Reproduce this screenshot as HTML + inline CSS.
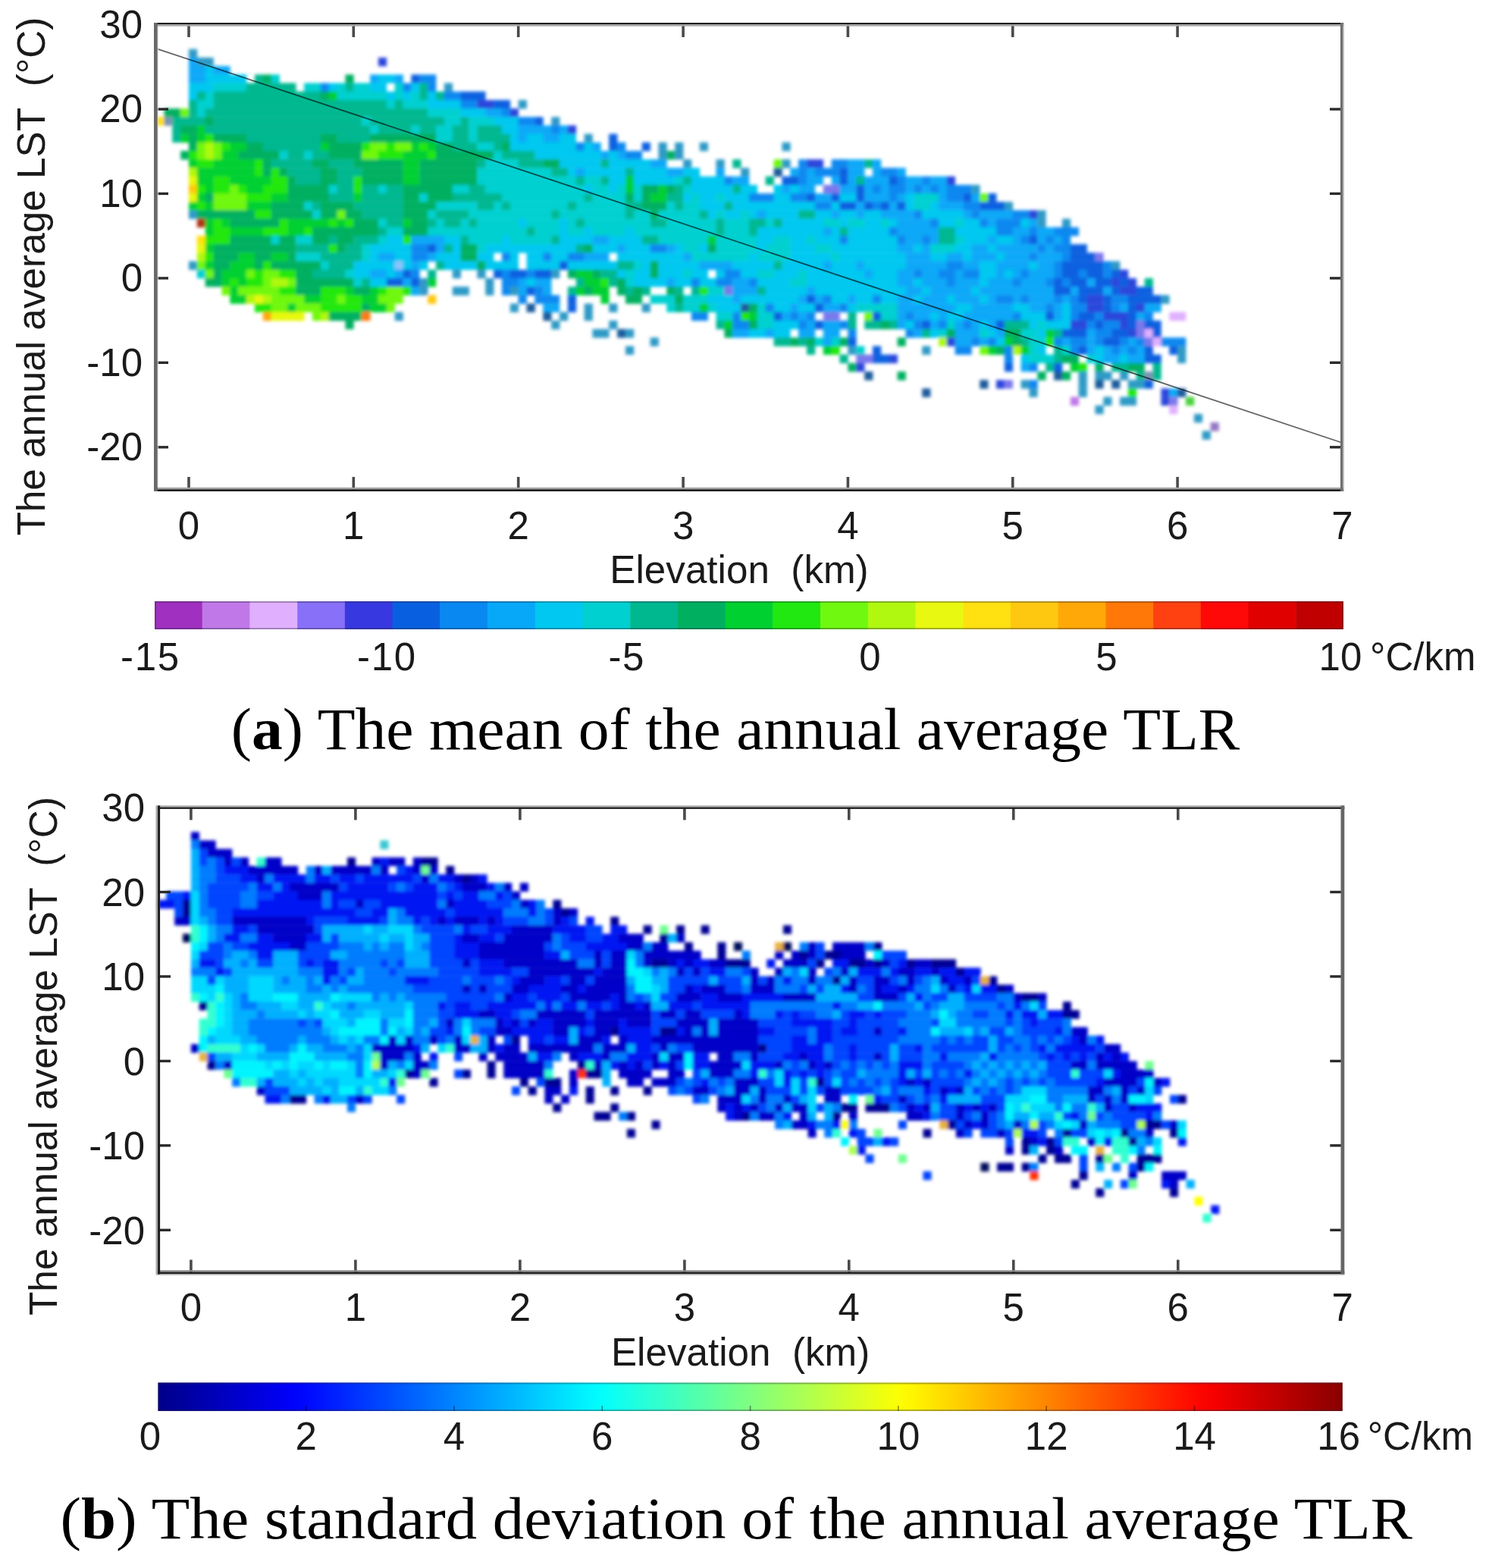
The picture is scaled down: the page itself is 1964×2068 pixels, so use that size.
<!DOCTYPE html>
<html lang="en"><head><meta charset="utf-8"><title>Annual average TLR</title>
<style>html,body{margin:0;padding:0;background:#fff}body{width:1964px;height:2068px;overflow:hidden}svg{display:block}text{font-family:'Liberation Sans', Arial, Helvetica, sans-serif;fill:#1a1a1a;white-space:pre}.cap{font-family:'Liberation Serif', 'Times New Roman', serif;fill:#000}</style></head><body>
<svg width="1964" height="2068" viewBox="0 0 1964 2068">
<defs><filter id="soft" x="-2%" y="-2%" width="104%" height="104%"><feGaussianBlur stdDeviation="2"/></filter>
<linearGradient id="jet" x1="0" x2="1" y1="0" y2="0"><stop offset="0.0000" stop-color="#00008a"/><stop offset="0.0156" stop-color="#000099"/><stop offset="0.0312" stop-color="#0000a9"/><stop offset="0.0469" stop-color="#0000b9"/><stop offset="0.0625" stop-color="#0000c8"/><stop offset="0.0781" stop-color="#0000d8"/><stop offset="0.0938" stop-color="#0000e7"/><stop offset="0.1094" stop-color="#0000f7"/><stop offset="0.1250" stop-color="#0008ff"/><stop offset="0.1406" stop-color="#0017ff"/><stop offset="0.1562" stop-color="#0027ff"/><stop offset="0.1719" stop-color="#0037ff"/><stop offset="0.1875" stop-color="#0046ff"/><stop offset="0.2031" stop-color="#0056ff"/><stop offset="0.2188" stop-color="#0065ff"/><stop offset="0.2344" stop-color="#0075ff"/><stop offset="0.2500" stop-color="#0085ff"/><stop offset="0.2656" stop-color="#0094ff"/><stop offset="0.2812" stop-color="#00a4ff"/><stop offset="0.2969" stop-color="#00b3ff"/><stop offset="0.3125" stop-color="#00c3ff"/><stop offset="0.3281" stop-color="#00d3ff"/><stop offset="0.3438" stop-color="#00e2ff"/><stop offset="0.3594" stop-color="#00f2ff"/><stop offset="0.3750" stop-color="#03fffc"/><stop offset="0.3906" stop-color="#12ffed"/><stop offset="0.4062" stop-color="#22ffdd"/><stop offset="0.4219" stop-color="#31ffce"/><stop offset="0.4375" stop-color="#41ffbe"/><stop offset="0.4531" stop-color="#51ffae"/><stop offset="0.4688" stop-color="#60ff9f"/><stop offset="0.4844" stop-color="#70ff8f"/><stop offset="0.5000" stop-color="#80ff80"/><stop offset="0.5156" stop-color="#8fff70"/><stop offset="0.5312" stop-color="#9fff60"/><stop offset="0.5469" stop-color="#aeff51"/><stop offset="0.5625" stop-color="#beff41"/><stop offset="0.5781" stop-color="#ceff31"/><stop offset="0.5938" stop-color="#ddff22"/><stop offset="0.6094" stop-color="#edff12"/><stop offset="0.6250" stop-color="#fcff03"/><stop offset="0.6406" stop-color="#fff200"/><stop offset="0.6562" stop-color="#ffe200"/><stop offset="0.6719" stop-color="#ffd300"/><stop offset="0.6875" stop-color="#ffc300"/><stop offset="0.7031" stop-color="#ffb300"/><stop offset="0.7188" stop-color="#ffa400"/><stop offset="0.7344" stop-color="#ff9400"/><stop offset="0.7500" stop-color="#ff8500"/><stop offset="0.7656" stop-color="#ff7500"/><stop offset="0.7812" stop-color="#ff6500"/><stop offset="0.7969" stop-color="#ff5600"/><stop offset="0.8125" stop-color="#ff4600"/><stop offset="0.8281" stop-color="#ff3700"/><stop offset="0.8438" stop-color="#ff2700"/><stop offset="0.8594" stop-color="#ff1700"/><stop offset="0.8750" stop-color="#ff0800"/><stop offset="0.8906" stop-color="#f70000"/><stop offset="0.9062" stop-color="#e70000"/><stop offset="0.9219" stop-color="#d80000"/><stop offset="0.9375" stop-color="#c80000"/><stop offset="0.9531" stop-color="#b90000"/><stop offset="0.9688" stop-color="#a90000"/><stop offset="0.9844" stop-color="#990000"/><stop offset="1.0000" stop-color="#8a0000"/></linearGradient></defs>
<rect width="1964" height="2068" fill="#fff"/>
<g id="heat-a" filter="url(#soft)"><rect x="249.0" y="64.7" width="11.2" height="11.5" fill="#2e9ac6"/>
<rect x="249.0" y="75.9" width="11.2" height="11.5" fill="#08a8f8"/>
<rect x="259.8" y="75.9" width="22.0" height="11.5" fill="#2e9ac6"/>
<rect x="498.9" y="75.9" width="11.2" height="11.5" fill="#2c46dc"/>
<rect x="249.0" y="87.1" width="22.0" height="11.5" fill="#08a8f8"/>
<rect x="270.7" y="87.1" width="11.2" height="11.5" fill="#00c8f0"/>
<rect x="281.6" y="87.1" width="22.0" height="11.5" fill="#08a8f8"/>
<rect x="249.0" y="98.3" width="22.0" height="11.5" fill="#08a8f8"/>
<rect x="270.7" y="98.3" width="54.6" height="11.5" fill="#00c8f0"/>
<rect x="335.9" y="98.3" width="11.2" height="11.5" fill="#00b890"/>
<rect x="346.8" y="98.3" width="11.2" height="11.5" fill="#00b060"/>
<rect x="357.7" y="98.3" width="11.2" height="11.5" fill="#00d0d0"/>
<rect x="455.5" y="98.3" width="11.2" height="11.5" fill="#00b060"/>
<rect x="488.1" y="98.3" width="11.2" height="11.5" fill="#08a8f8"/>
<rect x="498.9" y="98.3" width="22.0" height="11.5" fill="#00c8f0"/>
<rect x="520.7" y="98.3" width="11.2" height="11.5" fill="#08a8f8"/>
<rect x="542.4" y="98.3" width="11.2" height="11.5" fill="#0860e0"/>
<rect x="553.3" y="98.3" width="22.0" height="11.5" fill="#0888f0"/>
<rect x="249.0" y="109.5" width="32.9" height="11.5" fill="#00c8f0"/>
<rect x="281.6" y="109.5" width="43.8" height="11.5" fill="#00d0d0"/>
<rect x="325.0" y="109.5" width="65.5" height="11.5" fill="#00b890"/>
<rect x="401.1" y="109.5" width="22.0" height="11.5" fill="#00d0d0"/>
<rect x="422.9" y="109.5" width="11.2" height="11.5" fill="#0888f0"/>
<rect x="433.7" y="109.5" width="11.2" height="11.5" fill="#00c8f0"/>
<rect x="444.6" y="109.5" width="11.2" height="11.5" fill="#00d0d0"/>
<rect x="455.5" y="109.5" width="11.2" height="11.5" fill="#00b890"/>
<rect x="466.3" y="109.5" width="22.0" height="11.5" fill="#00d0d0"/>
<rect x="488.1" y="109.5" width="22.0" height="11.5" fill="#00c8f0"/>
<rect x="520.7" y="109.5" width="11.2" height="11.5" fill="#00d0d0"/>
<rect x="531.5" y="109.5" width="11.2" height="11.5" fill="#0888f0"/>
<rect x="542.4" y="109.5" width="11.2" height="11.5" fill="#00c8f0"/>
<rect x="553.3" y="109.5" width="11.2" height="11.5" fill="#00b890"/>
<rect x="564.1" y="109.5" width="11.2" height="11.5" fill="#0888f0"/>
<rect x="585.9" y="109.5" width="11.2" height="11.5" fill="#2e9ac6"/>
<rect x="249.0" y="120.7" width="11.2" height="11.5" fill="#00c8f0"/>
<rect x="259.8" y="120.7" width="11.2" height="11.5" fill="#00b890"/>
<rect x="270.7" y="120.7" width="11.2" height="11.5" fill="#00d0d0"/>
<rect x="281.6" y="120.7" width="141.6" height="11.5" fill="#00b890"/>
<rect x="422.9" y="120.7" width="11.2" height="11.5" fill="#00b060"/>
<rect x="433.7" y="120.7" width="11.2" height="11.5" fill="#00d030"/>
<rect x="444.6" y="120.7" width="65.5" height="11.5" fill="#00d0d0"/>
<rect x="509.8" y="120.7" width="11.2" height="11.5" fill="#00c8f0"/>
<rect x="520.7" y="120.7" width="11.2" height="11.5" fill="#00d0d0"/>
<rect x="531.5" y="120.7" width="11.2" height="11.5" fill="#00c8f0"/>
<rect x="542.4" y="120.7" width="11.2" height="11.5" fill="#00d0d0"/>
<rect x="553.3" y="120.7" width="11.2" height="11.5" fill="#00b890"/>
<rect x="564.1" y="120.7" width="11.2" height="11.5" fill="#00c8f0"/>
<rect x="575.0" y="120.7" width="11.2" height="11.5" fill="#00b890"/>
<rect x="585.9" y="120.7" width="22.0" height="11.5" fill="#0888f0"/>
<rect x="607.6" y="120.7" width="32.9" height="11.5" fill="#0860e0"/>
<rect x="249.0" y="131.9" width="11.2" height="11.5" fill="#00b890"/>
<rect x="259.8" y="131.9" width="22.0" height="11.5" fill="#00d0d0"/>
<rect x="281.6" y="131.9" width="228.5" height="11.5" fill="#00b890"/>
<rect x="509.8" y="131.9" width="11.2" height="11.5" fill="#00d0d0"/>
<rect x="520.7" y="131.9" width="11.2" height="11.5" fill="#00b890"/>
<rect x="531.5" y="131.9" width="32.9" height="11.5" fill="#00d0d0"/>
<rect x="564.1" y="131.9" width="43.8" height="11.5" fill="#00c8f0"/>
<rect x="607.6" y="131.9" width="22.0" height="11.5" fill="#0888f0"/>
<rect x="629.4" y="131.9" width="22.0" height="11.5" fill="#2c46dc"/>
<rect x="651.1" y="131.9" width="22.0" height="11.5" fill="#0860e0"/>
<rect x="683.7" y="131.9" width="11.2" height="11.5" fill="#2e9ac6"/>
<rect x="216.4" y="143.1" width="22.0" height="11.5" fill="#00b060"/>
<rect x="238.1" y="143.1" width="11.2" height="11.5" fill="#70f810"/>
<rect x="249.0" y="143.1" width="11.2" height="11.5" fill="#00b890"/>
<rect x="259.8" y="143.1" width="11.2" height="11.5" fill="#00d0d0"/>
<rect x="270.7" y="143.1" width="293.7" height="11.5" fill="#00b890"/>
<rect x="564.1" y="143.1" width="43.8" height="11.5" fill="#00d0d0"/>
<rect x="607.6" y="143.1" width="32.9" height="11.5" fill="#00c8f0"/>
<rect x="640.2" y="143.1" width="22.0" height="11.5" fill="#08a8f8"/>
<rect x="662.0" y="143.1" width="11.2" height="11.5" fill="#0888f0"/>
<rect x="672.8" y="143.1" width="11.2" height="11.5" fill="#2c46dc"/>
<rect x="205.5" y="154.3" width="11.2" height="11.5" fill="#ffe010"/>
<rect x="216.4" y="154.3" width="11.2" height="11.5" fill="#7894b4"/>
<rect x="227.2" y="154.3" width="43.8" height="11.5" fill="#00b890"/>
<rect x="270.7" y="154.3" width="11.2" height="11.5" fill="#00b060"/>
<rect x="281.6" y="154.3" width="195.9" height="11.5" fill="#00b890"/>
<rect x="477.2" y="154.3" width="11.2" height="11.5" fill="#00d0d0"/>
<rect x="488.1" y="154.3" width="98.1" height="11.5" fill="#00b890"/>
<rect x="585.9" y="154.3" width="22.0" height="11.5" fill="#00d0d0"/>
<rect x="607.6" y="154.3" width="11.2" height="11.5" fill="#00b890"/>
<rect x="618.5" y="154.3" width="32.9" height="11.5" fill="#00d0d0"/>
<rect x="651.1" y="154.3" width="32.9" height="11.5" fill="#00c8f0"/>
<rect x="683.7" y="154.3" width="22.0" height="11.5" fill="#0888f0"/>
<rect x="705.4" y="154.3" width="11.2" height="11.5" fill="#0860e0"/>
<rect x="727.2" y="154.3" width="11.2" height="11.5" fill="#2e9ac6"/>
<rect x="227.2" y="165.4" width="11.2" height="11.5" fill="#00b890"/>
<rect x="238.1" y="165.4" width="22.0" height="11.5" fill="#00b060"/>
<rect x="259.8" y="165.4" width="11.2" height="11.5" fill="#00d030"/>
<rect x="270.7" y="165.4" width="217.7" height="11.5" fill="#00b890"/>
<rect x="488.1" y="165.4" width="11.2" height="11.5" fill="#00d0d0"/>
<rect x="498.9" y="165.4" width="43.8" height="11.5" fill="#00b890"/>
<rect x="542.4" y="165.4" width="11.2" height="11.5" fill="#00d0d0"/>
<rect x="553.3" y="165.4" width="22.0" height="11.5" fill="#00b890"/>
<rect x="575.0" y="165.4" width="22.0" height="11.5" fill="#00d0d0"/>
<rect x="596.8" y="165.4" width="22.0" height="11.5" fill="#00b890"/>
<rect x="618.5" y="165.4" width="11.2" height="11.5" fill="#00d0d0"/>
<rect x="629.4" y="165.4" width="32.9" height="11.5" fill="#00b890"/>
<rect x="662.0" y="165.4" width="22.0" height="11.5" fill="#00c8f0"/>
<rect x="683.7" y="165.4" width="43.8" height="11.5" fill="#08a8f8"/>
<rect x="727.2" y="165.4" width="11.2" height="11.5" fill="#0888f0"/>
<rect x="738.0" y="165.4" width="11.2" height="11.5" fill="#08a8f8"/>
<rect x="748.9" y="165.4" width="11.2" height="11.5" fill="#2c46dc"/>
<rect x="227.2" y="176.6" width="11.2" height="11.5" fill="#00b890"/>
<rect x="238.1" y="176.6" width="11.2" height="11.5" fill="#00d030"/>
<rect x="249.0" y="176.6" width="11.2" height="11.5" fill="#00b060"/>
<rect x="259.8" y="176.6" width="11.2" height="11.5" fill="#00d030"/>
<rect x="270.7" y="176.6" width="11.2" height="11.5" fill="#20e810"/>
<rect x="281.6" y="176.6" width="43.8" height="11.5" fill="#00b060"/>
<rect x="325.0" y="176.6" width="98.1" height="11.5" fill="#00b890"/>
<rect x="422.9" y="176.6" width="22.0" height="11.5" fill="#00b060"/>
<rect x="444.6" y="176.6" width="43.8" height="11.5" fill="#00b890"/>
<rect x="488.1" y="176.6" width="87.2" height="11.5" fill="#00b060"/>
<rect x="575.0" y="176.6" width="22.0" height="11.5" fill="#00d0d0"/>
<rect x="596.8" y="176.6" width="22.0" height="11.5" fill="#00b890"/>
<rect x="618.5" y="176.6" width="11.2" height="11.5" fill="#00d0d0"/>
<rect x="629.4" y="176.6" width="43.8" height="11.5" fill="#00b890"/>
<rect x="672.8" y="176.6" width="11.2" height="11.5" fill="#00c8f0"/>
<rect x="683.7" y="176.6" width="11.2" height="11.5" fill="#08a8f8"/>
<rect x="694.6" y="176.6" width="22.0" height="11.5" fill="#00c8f0"/>
<rect x="716.3" y="176.6" width="22.0" height="11.5" fill="#08a8f8"/>
<rect x="738.0" y="176.6" width="22.0" height="11.5" fill="#00c8f0"/>
<rect x="770.6" y="176.6" width="11.2" height="11.5" fill="#2e9ac6"/>
<rect x="803.2" y="176.6" width="11.2" height="11.5" fill="#0860e0"/>
<rect x="249.0" y="187.8" width="11.2" height="11.5" fill="#00b060"/>
<rect x="259.8" y="187.8" width="11.2" height="11.5" fill="#70f810"/>
<rect x="270.7" y="187.8" width="11.2" height="11.5" fill="#b0f810"/>
<rect x="281.6" y="187.8" width="11.2" height="11.5" fill="#70f810"/>
<rect x="292.4" y="187.8" width="11.2" height="11.5" fill="#20e810"/>
<rect x="303.3" y="187.8" width="22.0" height="11.5" fill="#00d030"/>
<rect x="325.0" y="187.8" width="22.0" height="11.5" fill="#00b060"/>
<rect x="346.8" y="187.8" width="76.4" height="11.5" fill="#00b890"/>
<rect x="422.9" y="187.8" width="11.2" height="11.5" fill="#00d030"/>
<rect x="433.7" y="187.8" width="43.8" height="11.5" fill="#00b060"/>
<rect x="477.2" y="187.8" width="11.2" height="11.5" fill="#20e810"/>
<rect x="488.1" y="187.8" width="22.0" height="11.5" fill="#70f810"/>
<rect x="509.8" y="187.8" width="11.2" height="11.5" fill="#20e810"/>
<rect x="520.7" y="187.8" width="22.0" height="11.5" fill="#70f810"/>
<rect x="542.4" y="187.8" width="11.2" height="11.5" fill="#00d030"/>
<rect x="553.3" y="187.8" width="11.2" height="11.5" fill="#20e810"/>
<rect x="564.1" y="187.8" width="11.2" height="11.5" fill="#00d030"/>
<rect x="575.0" y="187.8" width="22.0" height="11.5" fill="#00b060"/>
<rect x="596.8" y="187.8" width="32.9" height="11.5" fill="#00b890"/>
<rect x="629.4" y="187.8" width="22.0" height="11.5" fill="#00d0d0"/>
<rect x="651.1" y="187.8" width="11.2" height="11.5" fill="#00b890"/>
<rect x="662.0" y="187.8" width="11.2" height="11.5" fill="#00b060"/>
<rect x="672.8" y="187.8" width="87.2" height="11.5" fill="#00c8f0"/>
<rect x="759.8" y="187.8" width="11.2" height="11.5" fill="#0888f0"/>
<rect x="770.6" y="187.8" width="11.2" height="11.5" fill="#00c8f0"/>
<rect x="781.5" y="187.8" width="11.2" height="11.5" fill="#08a8f8"/>
<rect x="803.2" y="187.8" width="11.2" height="11.5" fill="#0860e0"/>
<rect x="814.1" y="187.8" width="11.2" height="11.5" fill="#0888f0"/>
<rect x="846.7" y="187.8" width="11.2" height="11.5" fill="#0860e0"/>
<rect x="868.5" y="187.8" width="11.2" height="11.5" fill="#2e9ac6"/>
<rect x="890.2" y="187.8" width="11.2" height="11.5" fill="#2e9ac6"/>
<rect x="922.8" y="187.8" width="11.2" height="11.5" fill="#2e9ac6"/>
<rect x="1031.5" y="187.8" width="11.2" height="11.5" fill="#2e9ac6"/>
<rect x="238.1" y="199.0" width="11.2" height="11.5" fill="#00b060"/>
<rect x="249.0" y="199.0" width="11.2" height="11.5" fill="#20e810"/>
<rect x="259.8" y="199.0" width="11.2" height="11.5" fill="#70f810"/>
<rect x="270.7" y="199.0" width="11.2" height="11.5" fill="#b0f810"/>
<rect x="281.6" y="199.0" width="11.2" height="11.5" fill="#70f810"/>
<rect x="292.4" y="199.0" width="22.0" height="11.5" fill="#00d030"/>
<rect x="314.2" y="199.0" width="54.6" height="11.5" fill="#00b060"/>
<rect x="368.5" y="199.0" width="11.2" height="11.5" fill="#00d0d0"/>
<rect x="379.4" y="199.0" width="22.0" height="11.5" fill="#00b890"/>
<rect x="401.1" y="199.0" width="11.2" height="11.5" fill="#00d0d0"/>
<rect x="412.0" y="199.0" width="22.0" height="11.5" fill="#00b890"/>
<rect x="433.7" y="199.0" width="43.8" height="11.5" fill="#00b060"/>
<rect x="477.2" y="199.0" width="22.0" height="11.5" fill="#70f810"/>
<rect x="498.9" y="199.0" width="32.9" height="11.5" fill="#20e810"/>
<rect x="531.5" y="199.0" width="32.9" height="11.5" fill="#00d030"/>
<rect x="564.1" y="199.0" width="11.2" height="11.5" fill="#20e810"/>
<rect x="575.0" y="199.0" width="76.4" height="11.5" fill="#00b060"/>
<rect x="651.1" y="199.0" width="11.2" height="11.5" fill="#00d0d0"/>
<rect x="662.0" y="199.0" width="43.8" height="11.5" fill="#00b890"/>
<rect x="705.4" y="199.0" width="87.2" height="11.5" fill="#00c8f0"/>
<rect x="792.4" y="199.0" width="11.2" height="11.5" fill="#08a8f8"/>
<rect x="803.2" y="199.0" width="11.2" height="11.5" fill="#00c8f0"/>
<rect x="814.1" y="199.0" width="11.2" height="11.5" fill="#08a8f8"/>
<rect x="825.0" y="199.0" width="22.0" height="11.5" fill="#0888f0"/>
<rect x="868.5" y="199.0" width="11.2" height="11.5" fill="#2e9ac6"/>
<rect x="879.3" y="199.0" width="11.2" height="11.5" fill="#00b060"/>
<rect x="890.2" y="199.0" width="11.2" height="11.5" fill="#2e9ac6"/>
<rect x="249.0" y="210.2" width="11.2" height="11.5" fill="#00d030"/>
<rect x="259.8" y="210.2" width="22.0" height="11.5" fill="#20e810"/>
<rect x="281.6" y="210.2" width="54.6" height="11.5" fill="#00d030"/>
<rect x="335.9" y="210.2" width="11.2" height="11.5" fill="#20e810"/>
<rect x="346.8" y="210.2" width="11.2" height="11.5" fill="#00b060"/>
<rect x="357.7" y="210.2" width="54.6" height="11.5" fill="#00b890"/>
<rect x="412.0" y="210.2" width="22.0" height="11.5" fill="#00b060"/>
<rect x="433.7" y="210.2" width="32.9" height="11.5" fill="#00b890"/>
<rect x="466.3" y="210.2" width="65.5" height="11.5" fill="#00b060"/>
<rect x="531.5" y="210.2" width="22.0" height="11.5" fill="#00d030"/>
<rect x="553.3" y="210.2" width="76.4" height="11.5" fill="#00b060"/>
<rect x="629.4" y="210.2" width="11.2" height="11.5" fill="#00b890"/>
<rect x="640.2" y="210.2" width="43.8" height="11.5" fill="#00d0d0"/>
<rect x="683.7" y="210.2" width="32.9" height="11.5" fill="#00b890"/>
<rect x="716.3" y="210.2" width="22.0" height="11.5" fill="#00b060"/>
<rect x="738.0" y="210.2" width="54.6" height="11.5" fill="#00c8f0"/>
<rect x="792.4" y="210.2" width="11.2" height="11.5" fill="#00b890"/>
<rect x="803.2" y="210.2" width="54.6" height="11.5" fill="#00c8f0"/>
<rect x="857.6" y="210.2" width="22.0" height="11.5" fill="#08a8f8"/>
<rect x="901.1" y="210.2" width="11.2" height="11.5" fill="#2e9ac6"/>
<rect x="944.5" y="210.2" width="11.2" height="11.5" fill="#2e9ac6"/>
<rect x="966.3" y="210.2" width="11.2" height="11.5" fill="#00b890"/>
<rect x="1020.6" y="210.2" width="11.2" height="11.5" fill="#70f810"/>
<rect x="1031.5" y="210.2" width="11.2" height="11.5" fill="#2e9ac6"/>
<rect x="1053.2" y="210.2" width="11.2" height="11.5" fill="#0888f0"/>
<rect x="1064.1" y="210.2" width="22.0" height="11.5" fill="#2c46dc"/>
<rect x="1096.7" y="210.2" width="22.0" height="11.5" fill="#0888f0"/>
<rect x="1118.4" y="210.2" width="22.0" height="11.5" fill="#08a8f8"/>
<rect x="1140.2" y="210.2" width="11.2" height="11.5" fill="#00b890"/>
<rect x="1151.0" y="210.2" width="11.2" height="11.5" fill="#08a8f8"/>
<rect x="249.0" y="221.4" width="11.2" height="11.5" fill="#b0f810"/>
<rect x="259.8" y="221.4" width="76.4" height="11.5" fill="#00d030"/>
<rect x="335.9" y="221.4" width="11.2" height="11.5" fill="#20e810"/>
<rect x="346.8" y="221.4" width="11.2" height="11.5" fill="#00b060"/>
<rect x="357.7" y="221.4" width="11.2" height="11.5" fill="#20e810"/>
<rect x="368.5" y="221.4" width="11.2" height="11.5" fill="#00b060"/>
<rect x="379.4" y="221.4" width="43.8" height="11.5" fill="#00b890"/>
<rect x="422.9" y="221.4" width="22.0" height="11.5" fill="#00b060"/>
<rect x="444.6" y="221.4" width="32.9" height="11.5" fill="#00b890"/>
<rect x="477.2" y="221.4" width="54.6" height="11.5" fill="#00b060"/>
<rect x="531.5" y="221.4" width="22.0" height="11.5" fill="#00d030"/>
<rect x="553.3" y="221.4" width="76.4" height="11.5" fill="#00b060"/>
<rect x="629.4" y="221.4" width="98.1" height="11.5" fill="#00d0d0"/>
<rect x="727.2" y="221.4" width="22.0" height="11.5" fill="#00b890"/>
<rect x="748.9" y="221.4" width="11.2" height="11.5" fill="#00c8f0"/>
<rect x="759.8" y="221.4" width="11.2" height="11.5" fill="#08a8f8"/>
<rect x="770.6" y="221.4" width="54.6" height="11.5" fill="#00c8f0"/>
<rect x="825.0" y="221.4" width="11.2" height="11.5" fill="#00b890"/>
<rect x="835.8" y="221.4" width="43.8" height="11.5" fill="#00c8f0"/>
<rect x="879.3" y="221.4" width="22.0" height="11.5" fill="#08a8f8"/>
<rect x="901.1" y="221.4" width="22.0" height="11.5" fill="#00c8f0"/>
<rect x="944.5" y="221.4" width="11.2" height="11.5" fill="#08a8f8"/>
<rect x="977.1" y="221.4" width="11.2" height="11.5" fill="#2e9ac6"/>
<rect x="1020.6" y="221.4" width="11.2" height="11.5" fill="#1f5c9c"/>
<rect x="1042.3" y="221.4" width="11.2" height="11.5" fill="#08a8f8"/>
<rect x="1053.2" y="221.4" width="11.2" height="11.5" fill="#0888f0"/>
<rect x="1064.1" y="221.4" width="11.2" height="11.5" fill="#08a8f8"/>
<rect x="1074.9" y="221.4" width="32.9" height="11.5" fill="#0888f0"/>
<rect x="1107.5" y="221.4" width="11.2" height="11.5" fill="#0860e0"/>
<rect x="1118.4" y="221.4" width="22.0" height="11.5" fill="#08a8f8"/>
<rect x="1151.0" y="221.4" width="11.2" height="11.5" fill="#08a8f8"/>
<rect x="1161.9" y="221.4" width="22.0" height="11.5" fill="#0888f0"/>
<rect x="1183.6" y="221.4" width="11.2" height="11.5" fill="#08a8f8"/>
<rect x="249.0" y="232.6" width="11.2" height="11.5" fill="#e8f810"/>
<rect x="259.8" y="232.6" width="22.0" height="11.5" fill="#00d030"/>
<rect x="281.6" y="232.6" width="22.0" height="11.5" fill="#20e810"/>
<rect x="303.3" y="232.6" width="54.6" height="11.5" fill="#00d030"/>
<rect x="357.7" y="232.6" width="22.0" height="11.5" fill="#20e810"/>
<rect x="379.4" y="232.6" width="11.2" height="11.5" fill="#00b060"/>
<rect x="390.3" y="232.6" width="32.9" height="11.5" fill="#00b890"/>
<rect x="422.9" y="232.6" width="22.0" height="11.5" fill="#00b060"/>
<rect x="444.6" y="232.6" width="22.0" height="11.5" fill="#00b890"/>
<rect x="466.3" y="232.6" width="11.2" height="11.5" fill="#20e810"/>
<rect x="477.2" y="232.6" width="54.6" height="11.5" fill="#00b060"/>
<rect x="531.5" y="232.6" width="22.0" height="11.5" fill="#00d030"/>
<rect x="553.3" y="232.6" width="76.4" height="11.5" fill="#00b060"/>
<rect x="629.4" y="232.6" width="130.7" height="11.5" fill="#00d0d0"/>
<rect x="759.8" y="232.6" width="11.2" height="11.5" fill="#00b890"/>
<rect x="770.6" y="232.6" width="22.0" height="11.5" fill="#00d0d0"/>
<rect x="792.4" y="232.6" width="11.2" height="11.5" fill="#00b890"/>
<rect x="803.2" y="232.6" width="22.0" height="11.5" fill="#00c8f0"/>
<rect x="825.0" y="232.6" width="11.2" height="11.5" fill="#00d030"/>
<rect x="835.8" y="232.6" width="54.6" height="11.5" fill="#00c8f0"/>
<rect x="890.2" y="232.6" width="11.2" height="11.5" fill="#00d0d0"/>
<rect x="901.1" y="232.6" width="11.2" height="11.5" fill="#00b890"/>
<rect x="911.9" y="232.6" width="43.8" height="11.5" fill="#00c8f0"/>
<rect x="955.4" y="232.6" width="11.2" height="11.5" fill="#0888f0"/>
<rect x="966.3" y="232.6" width="22.0" height="11.5" fill="#08a8f8"/>
<rect x="1009.7" y="232.6" width="11.2" height="11.5" fill="#00b890"/>
<rect x="1031.5" y="232.6" width="22.0" height="11.5" fill="#0860e0"/>
<rect x="1053.2" y="232.6" width="11.2" height="11.5" fill="#0888f0"/>
<rect x="1064.1" y="232.6" width="22.0" height="11.5" fill="#08a8f8"/>
<rect x="1096.7" y="232.6" width="11.2" height="11.5" fill="#08a8f8"/>
<rect x="1107.5" y="232.6" width="11.2" height="11.5" fill="#0860e0"/>
<rect x="1118.4" y="232.6" width="11.2" height="11.5" fill="#08a8f8"/>
<rect x="1129.3" y="232.6" width="11.2" height="11.5" fill="#00b890"/>
<rect x="1140.2" y="232.6" width="32.9" height="11.5" fill="#08a8f8"/>
<rect x="1172.8" y="232.6" width="11.2" height="11.5" fill="#0860e0"/>
<rect x="1183.6" y="232.6" width="11.2" height="11.5" fill="#0888f0"/>
<rect x="1194.5" y="232.6" width="22.0" height="11.5" fill="#08a8f8"/>
<rect x="1216.2" y="232.6" width="11.2" height="11.5" fill="#0888f0"/>
<rect x="1227.1" y="232.6" width="22.0" height="11.5" fill="#08a8f8"/>
<rect x="1248.8" y="232.6" width="11.2" height="11.5" fill="#2c46dc"/>
<rect x="249.0" y="243.8" width="11.2" height="11.5" fill="#ffc810"/>
<rect x="259.8" y="243.8" width="11.2" height="11.5" fill="#20e810"/>
<rect x="270.7" y="243.8" width="11.2" height="11.5" fill="#00d030"/>
<rect x="281.6" y="243.8" width="22.0" height="11.5" fill="#20e810"/>
<rect x="303.3" y="243.8" width="11.2" height="11.5" fill="#70f810"/>
<rect x="314.2" y="243.8" width="11.2" height="11.5" fill="#20e810"/>
<rect x="325.0" y="243.8" width="22.0" height="11.5" fill="#00d030"/>
<rect x="346.8" y="243.8" width="32.9" height="11.5" fill="#20e810"/>
<rect x="379.4" y="243.8" width="54.6" height="11.5" fill="#00b060"/>
<rect x="433.7" y="243.8" width="11.2" height="11.5" fill="#00d0d0"/>
<rect x="444.6" y="243.8" width="22.0" height="11.5" fill="#00b890"/>
<rect x="466.3" y="243.8" width="11.2" height="11.5" fill="#20e810"/>
<rect x="477.2" y="243.8" width="22.0" height="11.5" fill="#00b890"/>
<rect x="498.9" y="243.8" width="11.2" height="11.5" fill="#00d0d0"/>
<rect x="509.8" y="243.8" width="22.0" height="11.5" fill="#00b890"/>
<rect x="531.5" y="243.8" width="65.5" height="11.5" fill="#00b060"/>
<rect x="596.8" y="243.8" width="22.0" height="11.5" fill="#00d0d0"/>
<rect x="618.5" y="243.8" width="22.0" height="11.5" fill="#00b890"/>
<rect x="640.2" y="243.8" width="130.7" height="11.5" fill="#00d0d0"/>
<rect x="770.6" y="243.8" width="11.2" height="11.5" fill="#00c8f0"/>
<rect x="781.5" y="243.8" width="22.0" height="11.5" fill="#00d0d0"/>
<rect x="803.2" y="243.8" width="11.2" height="11.5" fill="#00c8f0"/>
<rect x="814.1" y="243.8" width="11.2" height="11.5" fill="#00d0d0"/>
<rect x="825.0" y="243.8" width="11.2" height="11.5" fill="#00d030"/>
<rect x="835.8" y="243.8" width="11.2" height="11.5" fill="#00d0d0"/>
<rect x="846.7" y="243.8" width="22.0" height="11.5" fill="#00b060"/>
<rect x="868.5" y="243.8" width="11.2" height="11.5" fill="#00d030"/>
<rect x="879.3" y="243.8" width="11.2" height="11.5" fill="#00b060"/>
<rect x="890.2" y="243.8" width="11.2" height="11.5" fill="#00b890"/>
<rect x="901.1" y="243.8" width="11.2" height="11.5" fill="#00d0d0"/>
<rect x="911.9" y="243.8" width="54.6" height="11.5" fill="#00c8f0"/>
<rect x="966.3" y="243.8" width="11.2" height="11.5" fill="#00b890"/>
<rect x="977.1" y="243.8" width="22.0" height="11.5" fill="#00c8f0"/>
<rect x="1020.6" y="243.8" width="11.2" height="11.5" fill="#00c8f0"/>
<rect x="1031.5" y="243.8" width="11.2" height="11.5" fill="#08a8f8"/>
<rect x="1042.3" y="243.8" width="11.2" height="11.5" fill="#00c8f0"/>
<rect x="1053.2" y="243.8" width="22.0" height="11.5" fill="#08a8f8"/>
<rect x="1085.8" y="243.8" width="22.0" height="11.5" fill="#7c78ec"/>
<rect x="1107.5" y="243.8" width="22.0" height="11.5" fill="#08a8f8"/>
<rect x="1129.3" y="243.8" width="11.2" height="11.5" fill="#0860e0"/>
<rect x="1140.2" y="243.8" width="11.2" height="11.5" fill="#08a8f8"/>
<rect x="1151.0" y="243.8" width="11.2" height="11.5" fill="#0888f0"/>
<rect x="1161.9" y="243.8" width="11.2" height="11.5" fill="#08a8f8"/>
<rect x="1172.8" y="243.8" width="22.0" height="11.5" fill="#0888f0"/>
<rect x="1194.5" y="243.8" width="11.2" height="11.5" fill="#08a8f8"/>
<rect x="1205.4" y="243.8" width="11.2" height="11.5" fill="#0888f0"/>
<rect x="1216.2" y="243.8" width="11.2" height="11.5" fill="#08a8f8"/>
<rect x="1227.1" y="243.8" width="11.2" height="11.5" fill="#0888f0"/>
<rect x="1238.0" y="243.8" width="11.2" height="11.5" fill="#08a8f8"/>
<rect x="1248.8" y="243.8" width="32.9" height="11.5" fill="#0888f0"/>
<rect x="1281.4" y="243.8" width="11.2" height="11.5" fill="#2e9ac6"/>
<rect x="249.0" y="255.0" width="11.2" height="11.5" fill="#e8f810"/>
<rect x="259.8" y="255.0" width="11.2" height="11.5" fill="#00d030"/>
<rect x="270.7" y="255.0" width="11.2" height="11.5" fill="#00b060"/>
<rect x="281.6" y="255.0" width="43.8" height="11.5" fill="#70f810"/>
<rect x="325.0" y="255.0" width="32.9" height="11.5" fill="#20e810"/>
<rect x="357.7" y="255.0" width="22.0" height="11.5" fill="#00d030"/>
<rect x="379.4" y="255.0" width="54.6" height="11.5" fill="#00b060"/>
<rect x="433.7" y="255.0" width="32.9" height="11.5" fill="#00b890"/>
<rect x="466.3" y="255.0" width="11.2" height="11.5" fill="#00d030"/>
<rect x="477.2" y="255.0" width="54.6" height="11.5" fill="#00b890"/>
<rect x="531.5" y="255.0" width="22.0" height="11.5" fill="#00b060"/>
<rect x="553.3" y="255.0" width="11.2" height="11.5" fill="#00d0d0"/>
<rect x="564.1" y="255.0" width="32.9" height="11.5" fill="#00b060"/>
<rect x="596.8" y="255.0" width="65.5" height="11.5" fill="#00b890"/>
<rect x="662.0" y="255.0" width="109.0" height="11.5" fill="#00d0d0"/>
<rect x="770.6" y="255.0" width="11.2" height="11.5" fill="#00b890"/>
<rect x="781.5" y="255.0" width="43.8" height="11.5" fill="#00d0d0"/>
<rect x="825.0" y="255.0" width="11.2" height="11.5" fill="#00b060"/>
<rect x="835.8" y="255.0" width="11.2" height="11.5" fill="#00d0d0"/>
<rect x="846.7" y="255.0" width="11.2" height="11.5" fill="#00b060"/>
<rect x="857.6" y="255.0" width="22.0" height="11.5" fill="#00d030"/>
<rect x="879.3" y="255.0" width="22.0" height="11.5" fill="#00b890"/>
<rect x="901.1" y="255.0" width="11.2" height="11.5" fill="#00c8f0"/>
<rect x="911.9" y="255.0" width="11.2" height="11.5" fill="#00d0d0"/>
<rect x="922.8" y="255.0" width="22.0" height="11.5" fill="#00c8f0"/>
<rect x="944.5" y="255.0" width="11.2" height="11.5" fill="#00d0d0"/>
<rect x="955.4" y="255.0" width="32.9" height="11.5" fill="#00c8f0"/>
<rect x="988.0" y="255.0" width="32.9" height="11.5" fill="#0888f0"/>
<rect x="1020.6" y="255.0" width="22.0" height="11.5" fill="#00c8f0"/>
<rect x="1042.3" y="255.0" width="22.0" height="11.5" fill="#0888f0"/>
<rect x="1064.1" y="255.0" width="11.2" height="11.5" fill="#0860e0"/>
<rect x="1074.9" y="255.0" width="22.0" height="11.5" fill="#08a8f8"/>
<rect x="1096.7" y="255.0" width="11.2" height="11.5" fill="#0860e0"/>
<rect x="1107.5" y="255.0" width="22.0" height="11.5" fill="#00c8f0"/>
<rect x="1129.3" y="255.0" width="11.2" height="11.5" fill="#0860e0"/>
<rect x="1140.2" y="255.0" width="32.9" height="11.5" fill="#08a8f8"/>
<rect x="1172.8" y="255.0" width="11.2" height="11.5" fill="#0888f0"/>
<rect x="1183.6" y="255.0" width="11.2" height="11.5" fill="#08a8f8"/>
<rect x="1194.5" y="255.0" width="11.2" height="11.5" fill="#00c8f0"/>
<rect x="1205.4" y="255.0" width="32.9" height="11.5" fill="#00d0d0"/>
<rect x="1238.0" y="255.0" width="11.2" height="11.5" fill="#08a8f8"/>
<rect x="1248.8" y="255.0" width="22.0" height="11.5" fill="#0888f0"/>
<rect x="1270.6" y="255.0" width="11.2" height="11.5" fill="#0860e0"/>
<rect x="1281.4" y="255.0" width="11.2" height="11.5" fill="#08a8f8"/>
<rect x="1292.3" y="255.0" width="11.2" height="11.5" fill="#70f810"/>
<rect x="1303.2" y="255.0" width="11.2" height="11.5" fill="#0860e0"/>
<rect x="249.0" y="266.2" width="11.2" height="11.5" fill="#00d030"/>
<rect x="259.8" y="266.2" width="11.2" height="11.5" fill="#20e810"/>
<rect x="270.7" y="266.2" width="11.2" height="11.5" fill="#00d030"/>
<rect x="281.6" y="266.2" width="43.8" height="11.5" fill="#70f810"/>
<rect x="325.0" y="266.2" width="32.9" height="11.5" fill="#00d030"/>
<rect x="357.7" y="266.2" width="43.8" height="11.5" fill="#00b060"/>
<rect x="401.1" y="266.2" width="11.2" height="11.5" fill="#00d0d0"/>
<rect x="412.0" y="266.2" width="11.2" height="11.5" fill="#00b890"/>
<rect x="422.9" y="266.2" width="43.8" height="11.5" fill="#00b060"/>
<rect x="466.3" y="266.2" width="65.5" height="11.5" fill="#00b890"/>
<rect x="531.5" y="266.2" width="43.8" height="11.5" fill="#00b060"/>
<rect x="575.0" y="266.2" width="54.6" height="11.5" fill="#00d0d0"/>
<rect x="629.4" y="266.2" width="22.0" height="11.5" fill="#00b890"/>
<rect x="651.1" y="266.2" width="11.2" height="11.5" fill="#00d0d0"/>
<rect x="662.0" y="266.2" width="11.2" height="11.5" fill="#00b890"/>
<rect x="672.8" y="266.2" width="76.4" height="11.5" fill="#00d0d0"/>
<rect x="748.9" y="266.2" width="11.2" height="11.5" fill="#00b890"/>
<rect x="759.8" y="266.2" width="65.5" height="11.5" fill="#00d0d0"/>
<rect x="825.0" y="266.2" width="22.0" height="11.5" fill="#00b890"/>
<rect x="846.7" y="266.2" width="32.9" height="11.5" fill="#00b060"/>
<rect x="879.3" y="266.2" width="11.2" height="11.5" fill="#00d0d0"/>
<rect x="890.2" y="266.2" width="11.2" height="11.5" fill="#00b890"/>
<rect x="901.1" y="266.2" width="22.0" height="11.5" fill="#00d0d0"/>
<rect x="922.8" y="266.2" width="32.9" height="11.5" fill="#00c8f0"/>
<rect x="955.4" y="266.2" width="11.2" height="11.5" fill="#00b890"/>
<rect x="966.3" y="266.2" width="109.0" height="11.5" fill="#00c8f0"/>
<rect x="1074.9" y="266.2" width="22.0" height="11.5" fill="#0888f0"/>
<rect x="1096.7" y="266.2" width="11.2" height="11.5" fill="#00c8f0"/>
<rect x="1107.5" y="266.2" width="22.0" height="11.5" fill="#0860e0"/>
<rect x="1129.3" y="266.2" width="11.2" height="11.5" fill="#08a8f8"/>
<rect x="1140.2" y="266.2" width="11.2" height="11.5" fill="#0860e0"/>
<rect x="1151.0" y="266.2" width="11.2" height="11.5" fill="#0888f0"/>
<rect x="1161.9" y="266.2" width="11.2" height="11.5" fill="#0860e0"/>
<rect x="1172.8" y="266.2" width="11.2" height="11.5" fill="#08a8f8"/>
<rect x="1183.6" y="266.2" width="11.2" height="11.5" fill="#0860e0"/>
<rect x="1194.5" y="266.2" width="11.2" height="11.5" fill="#00c8f0"/>
<rect x="1205.4" y="266.2" width="22.0" height="11.5" fill="#00d0d0"/>
<rect x="1227.1" y="266.2" width="11.2" height="11.5" fill="#00c8f0"/>
<rect x="1238.0" y="266.2" width="32.9" height="11.5" fill="#08a8f8"/>
<rect x="1270.6" y="266.2" width="22.0" height="11.5" fill="#0888f0"/>
<rect x="1292.3" y="266.2" width="32.9" height="11.5" fill="#0860e0"/>
<rect x="1324.9" y="266.2" width="11.2" height="11.5" fill="#2e9ac6"/>
<rect x="249.0" y="277.3" width="11.2" height="11.5" fill="#2e9ac6"/>
<rect x="259.8" y="277.3" width="76.4" height="11.5" fill="#00b060"/>
<rect x="335.9" y="277.3" width="22.0" height="11.5" fill="#20e810"/>
<rect x="357.7" y="277.3" width="54.6" height="11.5" fill="#00b060"/>
<rect x="412.0" y="277.3" width="11.2" height="11.5" fill="#00d0d0"/>
<rect x="422.9" y="277.3" width="22.0" height="11.5" fill="#00b060"/>
<rect x="444.6" y="277.3" width="11.2" height="11.5" fill="#70f810"/>
<rect x="455.5" y="277.3" width="22.0" height="11.5" fill="#00b060"/>
<rect x="477.2" y="277.3" width="54.6" height="11.5" fill="#00b890"/>
<rect x="531.5" y="277.3" width="32.9" height="11.5" fill="#00b060"/>
<rect x="564.1" y="277.3" width="11.2" height="11.5" fill="#00d0d0"/>
<rect x="575.0" y="277.3" width="43.8" height="11.5" fill="#00b890"/>
<rect x="618.5" y="277.3" width="109.0" height="11.5" fill="#00d0d0"/>
<rect x="727.2" y="277.3" width="11.2" height="11.5" fill="#00b890"/>
<rect x="738.0" y="277.3" width="87.2" height="11.5" fill="#00d0d0"/>
<rect x="825.0" y="277.3" width="11.2" height="11.5" fill="#00b890"/>
<rect x="835.8" y="277.3" width="22.0" height="11.5" fill="#00d0d0"/>
<rect x="857.6" y="277.3" width="11.2" height="11.5" fill="#00b060"/>
<rect x="868.5" y="277.3" width="54.6" height="11.5" fill="#00d0d0"/>
<rect x="922.8" y="277.3" width="11.2" height="11.5" fill="#00b890"/>
<rect x="933.7" y="277.3" width="11.2" height="11.5" fill="#00c8f0"/>
<rect x="944.5" y="277.3" width="11.2" height="11.5" fill="#00d0d0"/>
<rect x="955.4" y="277.3" width="22.0" height="11.5" fill="#00c8f0"/>
<rect x="977.1" y="277.3" width="11.2" height="11.5" fill="#00d0d0"/>
<rect x="988.0" y="277.3" width="11.2" height="11.5" fill="#00c8f0"/>
<rect x="998.9" y="277.3" width="11.2" height="11.5" fill="#08a8f8"/>
<rect x="1009.7" y="277.3" width="43.8" height="11.5" fill="#00c8f0"/>
<rect x="1053.2" y="277.3" width="22.0" height="11.5" fill="#00b890"/>
<rect x="1074.9" y="277.3" width="22.0" height="11.5" fill="#00c8f0"/>
<rect x="1096.7" y="277.3" width="11.2" height="11.5" fill="#08a8f8"/>
<rect x="1107.5" y="277.3" width="22.0" height="11.5" fill="#00c8f0"/>
<rect x="1129.3" y="277.3" width="11.2" height="11.5" fill="#08a8f8"/>
<rect x="1140.2" y="277.3" width="22.0" height="11.5" fill="#00c8f0"/>
<rect x="1161.9" y="277.3" width="43.8" height="11.5" fill="#08a8f8"/>
<rect x="1205.4" y="277.3" width="11.2" height="11.5" fill="#0888f0"/>
<rect x="1216.2" y="277.3" width="54.6" height="11.5" fill="#00c8f0"/>
<rect x="1270.6" y="277.3" width="11.2" height="11.5" fill="#08a8f8"/>
<rect x="1281.4" y="277.3" width="11.2" height="11.5" fill="#0888f0"/>
<rect x="1292.3" y="277.3" width="43.8" height="11.5" fill="#08a8f8"/>
<rect x="1335.8" y="277.3" width="22.0" height="11.5" fill="#0888f0"/>
<rect x="1357.5" y="277.3" width="11.2" height="11.5" fill="#2c46dc"/>
<rect x="1368.4" y="277.3" width="11.2" height="11.5" fill="#2e9ac6"/>
<rect x="259.8" y="288.5" width="11.2" height="11.5" fill="#b03018"/>
<rect x="270.7" y="288.5" width="11.2" height="11.5" fill="#00d030"/>
<rect x="281.6" y="288.5" width="11.2" height="11.5" fill="#20e810"/>
<rect x="292.4" y="288.5" width="11.2" height="11.5" fill="#00d030"/>
<rect x="303.3" y="288.5" width="65.5" height="11.5" fill="#00b060"/>
<rect x="368.5" y="288.5" width="11.2" height="11.5" fill="#20e810"/>
<rect x="379.4" y="288.5" width="54.6" height="11.5" fill="#00d030"/>
<rect x="433.7" y="288.5" width="11.2" height="11.5" fill="#20e810"/>
<rect x="444.6" y="288.5" width="11.2" height="11.5" fill="#00d030"/>
<rect x="455.5" y="288.5" width="11.2" height="11.5" fill="#20e810"/>
<rect x="466.3" y="288.5" width="32.9" height="11.5" fill="#00b060"/>
<rect x="498.9" y="288.5" width="11.2" height="11.5" fill="#00d0d0"/>
<rect x="509.8" y="288.5" width="22.0" height="11.5" fill="#00b890"/>
<rect x="531.5" y="288.5" width="11.2" height="11.5" fill="#00d030"/>
<rect x="542.4" y="288.5" width="22.0" height="11.5" fill="#00b060"/>
<rect x="564.1" y="288.5" width="11.2" height="11.5" fill="#00b890"/>
<rect x="575.0" y="288.5" width="11.2" height="11.5" fill="#00d0d0"/>
<rect x="585.9" y="288.5" width="22.0" height="11.5" fill="#00b890"/>
<rect x="607.6" y="288.5" width="11.2" height="11.5" fill="#00d0d0"/>
<rect x="618.5" y="288.5" width="11.2" height="11.5" fill="#00b890"/>
<rect x="629.4" y="288.5" width="54.6" height="11.5" fill="#00d0d0"/>
<rect x="683.7" y="288.5" width="11.2" height="11.5" fill="#00c8f0"/>
<rect x="694.6" y="288.5" width="43.8" height="11.5" fill="#00d0d0"/>
<rect x="738.0" y="288.5" width="11.2" height="11.5" fill="#00c8f0"/>
<rect x="748.9" y="288.5" width="11.2" height="11.5" fill="#00d0d0"/>
<rect x="759.8" y="288.5" width="11.2" height="11.5" fill="#00b890"/>
<rect x="770.6" y="288.5" width="87.2" height="11.5" fill="#00d0d0"/>
<rect x="857.6" y="288.5" width="22.0" height="11.5" fill="#00b890"/>
<rect x="879.3" y="288.5" width="65.5" height="11.5" fill="#00d0d0"/>
<rect x="944.5" y="288.5" width="11.2" height="11.5" fill="#00b890"/>
<rect x="955.4" y="288.5" width="32.9" height="11.5" fill="#00d0d0"/>
<rect x="988.0" y="288.5" width="22.0" height="11.5" fill="#00b890"/>
<rect x="1009.7" y="288.5" width="11.2" height="11.5" fill="#00d0d0"/>
<rect x="1020.6" y="288.5" width="11.2" height="11.5" fill="#00b890"/>
<rect x="1031.5" y="288.5" width="54.6" height="11.5" fill="#00c8f0"/>
<rect x="1085.8" y="288.5" width="22.0" height="11.5" fill="#00d0d0"/>
<rect x="1107.5" y="288.5" width="11.2" height="11.5" fill="#00c8f0"/>
<rect x="1118.4" y="288.5" width="22.0" height="11.5" fill="#00d0d0"/>
<rect x="1140.2" y="288.5" width="22.0" height="11.5" fill="#00c8f0"/>
<rect x="1161.9" y="288.5" width="11.2" height="11.5" fill="#00d0d0"/>
<rect x="1172.8" y="288.5" width="11.2" height="11.5" fill="#00c8f0"/>
<rect x="1183.6" y="288.5" width="43.8" height="11.5" fill="#08a8f8"/>
<rect x="1227.1" y="288.5" width="11.2" height="11.5" fill="#0888f0"/>
<rect x="1238.0" y="288.5" width="22.0" height="11.5" fill="#00c8f0"/>
<rect x="1259.7" y="288.5" width="11.2" height="11.5" fill="#00d0d0"/>
<rect x="1270.6" y="288.5" width="22.0" height="11.5" fill="#00c8f0"/>
<rect x="1292.3" y="288.5" width="11.2" height="11.5" fill="#0888f0"/>
<rect x="1303.2" y="288.5" width="11.2" height="11.5" fill="#08a8f8"/>
<rect x="1314.0" y="288.5" width="32.9" height="11.5" fill="#0888f0"/>
<rect x="1346.6" y="288.5" width="11.2" height="11.5" fill="#00c8f0"/>
<rect x="1357.5" y="288.5" width="11.2" height="11.5" fill="#08a8f8"/>
<rect x="1368.4" y="288.5" width="11.2" height="11.5" fill="#2e9ac6"/>
<rect x="1401.0" y="288.5" width="11.2" height="11.5" fill="#2e9ac6"/>
<rect x="270.7" y="299.7" width="11.2" height="11.5" fill="#00d030"/>
<rect x="281.6" y="299.7" width="22.0" height="11.5" fill="#20e810"/>
<rect x="303.3" y="299.7" width="43.8" height="11.5" fill="#00d030"/>
<rect x="346.8" y="299.7" width="32.9" height="11.5" fill="#20e810"/>
<rect x="379.4" y="299.7" width="22.0" height="11.5" fill="#00d030"/>
<rect x="401.1" y="299.7" width="11.2" height="11.5" fill="#20e810"/>
<rect x="412.0" y="299.7" width="87.2" height="11.5" fill="#00b060"/>
<rect x="498.9" y="299.7" width="11.2" height="11.5" fill="#00b890"/>
<rect x="509.8" y="299.7" width="22.0" height="11.5" fill="#00d0d0"/>
<rect x="531.5" y="299.7" width="32.9" height="11.5" fill="#00b060"/>
<rect x="564.1" y="299.7" width="130.7" height="11.5" fill="#00d0d0"/>
<rect x="694.6" y="299.7" width="11.2" height="11.5" fill="#00b890"/>
<rect x="705.4" y="299.7" width="32.9" height="11.5" fill="#00d0d0"/>
<rect x="738.0" y="299.7" width="11.2" height="11.5" fill="#00c8f0"/>
<rect x="748.9" y="299.7" width="22.0" height="11.5" fill="#00d0d0"/>
<rect x="770.6" y="299.7" width="11.2" height="11.5" fill="#00c8f0"/>
<rect x="781.5" y="299.7" width="43.8" height="11.5" fill="#00d0d0"/>
<rect x="825.0" y="299.7" width="11.2" height="11.5" fill="#00c8f0"/>
<rect x="835.8" y="299.7" width="109.0" height="11.5" fill="#00d0d0"/>
<rect x="944.5" y="299.7" width="11.2" height="11.5" fill="#00b890"/>
<rect x="955.4" y="299.7" width="32.9" height="11.5" fill="#00d0d0"/>
<rect x="988.0" y="299.7" width="11.2" height="11.5" fill="#00b890"/>
<rect x="998.9" y="299.7" width="87.2" height="11.5" fill="#00c8f0"/>
<rect x="1085.8" y="299.7" width="11.2" height="11.5" fill="#08a8f8"/>
<rect x="1096.7" y="299.7" width="11.2" height="11.5" fill="#00c8f0"/>
<rect x="1107.5" y="299.7" width="11.2" height="11.5" fill="#00b890"/>
<rect x="1118.4" y="299.7" width="54.6" height="11.5" fill="#00c8f0"/>
<rect x="1172.8" y="299.7" width="11.2" height="11.5" fill="#0888f0"/>
<rect x="1183.6" y="299.7" width="54.6" height="11.5" fill="#08a8f8"/>
<rect x="1238.0" y="299.7" width="22.0" height="11.5" fill="#00b890"/>
<rect x="1259.7" y="299.7" width="54.6" height="11.5" fill="#00c8f0"/>
<rect x="1314.0" y="299.7" width="22.0" height="11.5" fill="#0888f0"/>
<rect x="1335.8" y="299.7" width="22.0" height="11.5" fill="#08a8f8"/>
<rect x="1357.5" y="299.7" width="11.2" height="11.5" fill="#0888f0"/>
<rect x="1368.4" y="299.7" width="22.0" height="11.5" fill="#08a8f8"/>
<rect x="1390.1" y="299.7" width="32.9" height="11.5" fill="#0888f0"/>
<rect x="259.8" y="310.9" width="11.2" height="11.5" fill="#ffe010"/>
<rect x="270.7" y="310.9" width="32.9" height="11.5" fill="#20e810"/>
<rect x="303.3" y="310.9" width="54.6" height="11.5" fill="#00b060"/>
<rect x="357.7" y="310.9" width="11.2" height="11.5" fill="#00d0d0"/>
<rect x="368.5" y="310.9" width="22.0" height="11.5" fill="#00b060"/>
<rect x="390.3" y="310.9" width="22.0" height="11.5" fill="#00d0d0"/>
<rect x="412.0" y="310.9" width="22.0" height="11.5" fill="#00b060"/>
<rect x="433.7" y="310.9" width="11.2" height="11.5" fill="#00b890"/>
<rect x="444.6" y="310.9" width="22.0" height="11.5" fill="#00b060"/>
<rect x="466.3" y="310.9" width="32.9" height="11.5" fill="#00b890"/>
<rect x="498.9" y="310.9" width="11.2" height="11.5" fill="#00d0d0"/>
<rect x="509.8" y="310.9" width="22.0" height="11.5" fill="#00c8f0"/>
<rect x="531.5" y="310.9" width="11.2" height="11.5" fill="#20e810"/>
<rect x="542.4" y="310.9" width="43.8" height="11.5" fill="#08a8f8"/>
<rect x="585.9" y="310.9" width="22.0" height="11.5" fill="#00c8f0"/>
<rect x="607.6" y="310.9" width="11.2" height="11.5" fill="#00b890"/>
<rect x="618.5" y="310.9" width="43.8" height="11.5" fill="#00d0d0"/>
<rect x="662.0" y="310.9" width="11.2" height="11.5" fill="#00c8f0"/>
<rect x="672.8" y="310.9" width="54.6" height="11.5" fill="#00d0d0"/>
<rect x="727.2" y="310.9" width="11.2" height="11.5" fill="#00b890"/>
<rect x="738.0" y="310.9" width="43.8" height="11.5" fill="#00c8f0"/>
<rect x="781.5" y="310.9" width="22.0" height="11.5" fill="#08a8f8"/>
<rect x="803.2" y="310.9" width="43.8" height="11.5" fill="#00c8f0"/>
<rect x="846.7" y="310.9" width="22.0" height="11.5" fill="#00b890"/>
<rect x="868.5" y="310.9" width="65.5" height="11.5" fill="#00d0d0"/>
<rect x="933.7" y="310.9" width="11.2" height="11.5" fill="#00d030"/>
<rect x="944.5" y="310.9" width="54.6" height="11.5" fill="#00d0d0"/>
<rect x="998.9" y="310.9" width="22.0" height="11.5" fill="#00c8f0"/>
<rect x="1020.6" y="310.9" width="22.0" height="11.5" fill="#00d0d0"/>
<rect x="1042.3" y="310.9" width="22.0" height="11.5" fill="#00c8f0"/>
<rect x="1064.1" y="310.9" width="11.2" height="11.5" fill="#00d0d0"/>
<rect x="1074.9" y="310.9" width="32.9" height="11.5" fill="#00c8f0"/>
<rect x="1107.5" y="310.9" width="11.2" height="11.5" fill="#0888f0"/>
<rect x="1118.4" y="310.9" width="65.5" height="11.5" fill="#00c8f0"/>
<rect x="1183.6" y="310.9" width="11.2" height="11.5" fill="#0888f0"/>
<rect x="1194.5" y="310.9" width="22.0" height="11.5" fill="#08a8f8"/>
<rect x="1216.2" y="310.9" width="11.2" height="11.5" fill="#0888f0"/>
<rect x="1227.1" y="310.9" width="11.2" height="11.5" fill="#08a8f8"/>
<rect x="1238.0" y="310.9" width="22.0" height="11.5" fill="#00b890"/>
<rect x="1259.7" y="310.9" width="11.2" height="11.5" fill="#00d0d0"/>
<rect x="1270.6" y="310.9" width="32.9" height="11.5" fill="#00c8f0"/>
<rect x="1303.2" y="310.9" width="11.2" height="11.5" fill="#08a8f8"/>
<rect x="1314.0" y="310.9" width="22.0" height="11.5" fill="#00c8f0"/>
<rect x="1335.8" y="310.9" width="11.2" height="11.5" fill="#08a8f8"/>
<rect x="1346.6" y="310.9" width="11.2" height="11.5" fill="#0888f0"/>
<rect x="1357.5" y="310.9" width="11.2" height="11.5" fill="#0860e0"/>
<rect x="1368.4" y="310.9" width="11.2" height="11.5" fill="#08a8f8"/>
<rect x="1379.2" y="310.9" width="11.2" height="11.5" fill="#0888f0"/>
<rect x="1390.1" y="310.9" width="11.2" height="11.5" fill="#08a8f8"/>
<rect x="1401.0" y="310.9" width="11.2" height="11.5" fill="#0888f0"/>
<rect x="259.8" y="322.1" width="11.2" height="11.5" fill="#e8f810"/>
<rect x="270.7" y="322.1" width="11.2" height="11.5" fill="#00d030"/>
<rect x="281.6" y="322.1" width="109.0" height="11.5" fill="#00b060"/>
<rect x="390.3" y="322.1" width="43.8" height="11.5" fill="#00b890"/>
<rect x="433.7" y="322.1" width="11.2" height="11.5" fill="#20e810"/>
<rect x="444.6" y="322.1" width="11.2" height="11.5" fill="#00b060"/>
<rect x="455.5" y="322.1" width="22.0" height="11.5" fill="#00b890"/>
<rect x="477.2" y="322.1" width="11.2" height="11.5" fill="#00d0d0"/>
<rect x="488.1" y="322.1" width="54.6" height="11.5" fill="#00c8f0"/>
<rect x="542.4" y="322.1" width="22.0" height="11.5" fill="#0888f0"/>
<rect x="564.1" y="322.1" width="11.2" height="11.5" fill="#0860e0"/>
<rect x="575.0" y="322.1" width="11.2" height="11.5" fill="#08a8f8"/>
<rect x="585.9" y="322.1" width="11.2" height="11.5" fill="#00b890"/>
<rect x="596.8" y="322.1" width="11.2" height="11.5" fill="#00c8f0"/>
<rect x="607.6" y="322.1" width="22.0" height="11.5" fill="#00b060"/>
<rect x="629.4" y="322.1" width="11.2" height="11.5" fill="#00d0d0"/>
<rect x="640.2" y="322.1" width="119.8" height="11.5" fill="#00c8f0"/>
<rect x="759.8" y="322.1" width="11.2" height="11.5" fill="#00b890"/>
<rect x="770.6" y="322.1" width="11.2" height="11.5" fill="#00b060"/>
<rect x="781.5" y="322.1" width="32.9" height="11.5" fill="#00c8f0"/>
<rect x="814.1" y="322.1" width="11.2" height="11.5" fill="#08a8f8"/>
<rect x="825.0" y="322.1" width="32.9" height="11.5" fill="#00c8f0"/>
<rect x="857.6" y="322.1" width="22.0" height="11.5" fill="#0888f0"/>
<rect x="879.3" y="322.1" width="11.2" height="11.5" fill="#08a8f8"/>
<rect x="890.2" y="322.1" width="11.2" height="11.5" fill="#00c8f0"/>
<rect x="901.1" y="322.1" width="22.0" height="11.5" fill="#00d0d0"/>
<rect x="922.8" y="322.1" width="11.2" height="11.5" fill="#00c8f0"/>
<rect x="933.7" y="322.1" width="11.2" height="11.5" fill="#00b060"/>
<rect x="944.5" y="322.1" width="54.6" height="11.5" fill="#00d0d0"/>
<rect x="998.9" y="322.1" width="11.2" height="11.5" fill="#00c8f0"/>
<rect x="1009.7" y="322.1" width="32.9" height="11.5" fill="#00d0d0"/>
<rect x="1042.3" y="322.1" width="32.9" height="11.5" fill="#00c8f0"/>
<rect x="1074.9" y="322.1" width="22.0" height="11.5" fill="#00d0d0"/>
<rect x="1096.7" y="322.1" width="87.2" height="11.5" fill="#00c8f0"/>
<rect x="1183.6" y="322.1" width="22.0" height="11.5" fill="#08a8f8"/>
<rect x="1205.4" y="322.1" width="11.2" height="11.5" fill="#00c8f0"/>
<rect x="1216.2" y="322.1" width="11.2" height="11.5" fill="#08a8f8"/>
<rect x="1227.1" y="322.1" width="32.9" height="11.5" fill="#00d0d0"/>
<rect x="1259.7" y="322.1" width="22.0" height="11.5" fill="#00c8f0"/>
<rect x="1281.4" y="322.1" width="22.0" height="11.5" fill="#08a8f8"/>
<rect x="1303.2" y="322.1" width="11.2" height="11.5" fill="#00c8f0"/>
<rect x="1314.0" y="322.1" width="54.6" height="11.5" fill="#08a8f8"/>
<rect x="1368.4" y="322.1" width="11.2" height="11.5" fill="#0888f0"/>
<rect x="1379.2" y="322.1" width="11.2" height="11.5" fill="#08a8f8"/>
<rect x="1390.1" y="322.1" width="22.0" height="11.5" fill="#0888f0"/>
<rect x="1411.9" y="322.1" width="22.0" height="11.5" fill="#0860e0"/>
<rect x="259.8" y="333.3" width="11.2" height="11.5" fill="#b0f810"/>
<rect x="270.7" y="333.3" width="11.2" height="11.5" fill="#20e810"/>
<rect x="281.6" y="333.3" width="32.9" height="11.5" fill="#00b060"/>
<rect x="314.2" y="333.3" width="22.0" height="11.5" fill="#00d030"/>
<rect x="335.9" y="333.3" width="22.0" height="11.5" fill="#00b060"/>
<rect x="357.7" y="333.3" width="22.0" height="11.5" fill="#00d030"/>
<rect x="379.4" y="333.3" width="11.2" height="11.5" fill="#00b060"/>
<rect x="390.3" y="333.3" width="32.9" height="11.5" fill="#00d0d0"/>
<rect x="422.9" y="333.3" width="54.6" height="11.5" fill="#00b890"/>
<rect x="477.2" y="333.3" width="11.2" height="11.5" fill="#00d0d0"/>
<rect x="488.1" y="333.3" width="11.2" height="11.5" fill="#00c8f0"/>
<rect x="498.9" y="333.3" width="22.0" height="11.5" fill="#08a8f8"/>
<rect x="520.7" y="333.3" width="22.0" height="11.5" fill="#00c8f0"/>
<rect x="542.4" y="333.3" width="22.0" height="11.5" fill="#0888f0"/>
<rect x="564.1" y="333.3" width="11.2" height="11.5" fill="#08a8f8"/>
<rect x="575.0" y="333.3" width="32.9" height="11.5" fill="#00c8f0"/>
<rect x="607.6" y="333.3" width="22.0" height="11.5" fill="#00b060"/>
<rect x="629.4" y="333.3" width="22.0" height="11.5" fill="#00c8f0"/>
<rect x="662.0" y="333.3" width="11.2" height="11.5" fill="#0888f0"/>
<rect x="672.8" y="333.3" width="11.2" height="11.5" fill="#00c8f0"/>
<rect x="694.6" y="333.3" width="22.0" height="11.5" fill="#00c8f0"/>
<rect x="716.3" y="333.3" width="11.2" height="11.5" fill="#0888f0"/>
<rect x="727.2" y="333.3" width="22.0" height="11.5" fill="#00c8f0"/>
<rect x="748.9" y="333.3" width="22.0" height="11.5" fill="#0888f0"/>
<rect x="770.6" y="333.3" width="32.9" height="11.5" fill="#08a8f8"/>
<rect x="814.1" y="333.3" width="87.2" height="11.5" fill="#00c8f0"/>
<rect x="901.1" y="333.3" width="11.2" height="11.5" fill="#08a8f8"/>
<rect x="911.9" y="333.3" width="76.4" height="11.5" fill="#00d0d0"/>
<rect x="988.0" y="333.3" width="11.2" height="11.5" fill="#00c8f0"/>
<rect x="998.9" y="333.3" width="43.8" height="11.5" fill="#00d0d0"/>
<rect x="1042.3" y="333.3" width="54.6" height="11.5" fill="#00c8f0"/>
<rect x="1096.7" y="333.3" width="11.2" height="11.5" fill="#00d0d0"/>
<rect x="1107.5" y="333.3" width="87.2" height="11.5" fill="#00c8f0"/>
<rect x="1194.5" y="333.3" width="32.9" height="11.5" fill="#08a8f8"/>
<rect x="1227.1" y="333.3" width="22.0" height="11.5" fill="#00c8f0"/>
<rect x="1248.8" y="333.3" width="22.0" height="11.5" fill="#08a8f8"/>
<rect x="1270.6" y="333.3" width="11.2" height="11.5" fill="#00c8f0"/>
<rect x="1281.4" y="333.3" width="32.9" height="11.5" fill="#08a8f8"/>
<rect x="1314.0" y="333.3" width="11.2" height="11.5" fill="#00c8f0"/>
<rect x="1324.9" y="333.3" width="32.9" height="11.5" fill="#08a8f8"/>
<rect x="1357.5" y="333.3" width="11.2" height="11.5" fill="#0888f0"/>
<rect x="1368.4" y="333.3" width="32.9" height="11.5" fill="#08a8f8"/>
<rect x="1401.0" y="333.3" width="11.2" height="11.5" fill="#0888f0"/>
<rect x="1411.9" y="333.3" width="32.9" height="11.5" fill="#0860e0"/>
<rect x="1444.5" y="333.3" width="11.2" height="11.5" fill="#7c78ec"/>
<rect x="249.0" y="344.5" width="11.2" height="11.5" fill="#2e9ac6"/>
<rect x="259.8" y="344.5" width="11.2" height="11.5" fill="#70f810"/>
<rect x="270.7" y="344.5" width="11.2" height="11.5" fill="#00d030"/>
<rect x="281.6" y="344.5" width="22.0" height="11.5" fill="#00b060"/>
<rect x="303.3" y="344.5" width="32.9" height="11.5" fill="#00d030"/>
<rect x="335.9" y="344.5" width="11.2" height="11.5" fill="#00b060"/>
<rect x="346.8" y="344.5" width="11.2" height="11.5" fill="#20e810"/>
<rect x="357.7" y="344.5" width="65.5" height="11.5" fill="#00b060"/>
<rect x="422.9" y="344.5" width="11.2" height="11.5" fill="#00d0d0"/>
<rect x="433.7" y="344.5" width="32.9" height="11.5" fill="#00b890"/>
<rect x="466.3" y="344.5" width="54.6" height="11.5" fill="#00c8f0"/>
<rect x="520.7" y="344.5" width="11.2" height="11.5" fill="#8cc4fc"/>
<rect x="531.5" y="344.5" width="11.2" height="11.5" fill="#00c8f0"/>
<rect x="542.4" y="344.5" width="11.2" height="11.5" fill="#08a8f8"/>
<rect x="553.3" y="344.5" width="11.2" height="11.5" fill="#00c8f0"/>
<rect x="575.0" y="344.5" width="11.2" height="11.5" fill="#00b890"/>
<rect x="585.9" y="344.5" width="43.8" height="11.5" fill="#00c8f0"/>
<rect x="629.4" y="344.5" width="11.2" height="11.5" fill="#00b060"/>
<rect x="640.2" y="344.5" width="43.8" height="11.5" fill="#00c8f0"/>
<rect x="694.6" y="344.5" width="43.8" height="11.5" fill="#00c8f0"/>
<rect x="738.0" y="344.5" width="11.2" height="11.5" fill="#0860e0"/>
<rect x="748.9" y="344.5" width="65.5" height="11.5" fill="#00c8f0"/>
<rect x="814.1" y="344.5" width="22.0" height="11.5" fill="#00b890"/>
<rect x="835.8" y="344.5" width="11.2" height="11.5" fill="#00d0d0"/>
<rect x="846.7" y="344.5" width="11.2" height="11.5" fill="#00c8f0"/>
<rect x="857.6" y="344.5" width="11.2" height="11.5" fill="#00b060"/>
<rect x="868.5" y="344.5" width="54.6" height="11.5" fill="#00c8f0"/>
<rect x="922.8" y="344.5" width="43.8" height="11.5" fill="#08a8f8"/>
<rect x="966.3" y="344.5" width="54.6" height="11.5" fill="#00c8f0"/>
<rect x="1020.6" y="344.5" width="11.2" height="11.5" fill="#00b890"/>
<rect x="1031.5" y="344.5" width="54.6" height="11.5" fill="#00c8f0"/>
<rect x="1085.8" y="344.5" width="11.2" height="11.5" fill="#08a8f8"/>
<rect x="1096.7" y="344.5" width="32.9" height="11.5" fill="#00c8f0"/>
<rect x="1129.3" y="344.5" width="11.2" height="11.5" fill="#08a8f8"/>
<rect x="1140.2" y="344.5" width="54.6" height="11.5" fill="#00c8f0"/>
<rect x="1194.5" y="344.5" width="54.6" height="11.5" fill="#08a8f8"/>
<rect x="1248.8" y="344.5" width="22.0" height="11.5" fill="#0888f0"/>
<rect x="1270.6" y="344.5" width="22.0" height="11.5" fill="#08a8f8"/>
<rect x="1292.3" y="344.5" width="22.0" height="11.5" fill="#00c8f0"/>
<rect x="1314.0" y="344.5" width="43.8" height="11.5" fill="#08a8f8"/>
<rect x="1357.5" y="344.5" width="11.2" height="11.5" fill="#00c8f0"/>
<rect x="1368.4" y="344.5" width="22.0" height="11.5" fill="#08a8f8"/>
<rect x="1390.1" y="344.5" width="11.2" height="11.5" fill="#0888f0"/>
<rect x="1401.0" y="344.5" width="54.6" height="11.5" fill="#0860e0"/>
<rect x="1455.3" y="344.5" width="11.2" height="11.5" fill="#0888f0"/>
<rect x="1466.2" y="344.5" width="11.2" height="11.5" fill="#2e9ac6"/>
<rect x="259.8" y="355.7" width="11.2" height="11.5" fill="#00d0d0"/>
<rect x="270.7" y="355.7" width="11.2" height="11.5" fill="#70f810"/>
<rect x="281.6" y="355.7" width="11.2" height="11.5" fill="#00b060"/>
<rect x="292.4" y="355.7" width="32.9" height="11.5" fill="#00d030"/>
<rect x="325.0" y="355.7" width="11.2" height="11.5" fill="#70f810"/>
<rect x="335.9" y="355.7" width="11.2" height="11.5" fill="#20e810"/>
<rect x="346.8" y="355.7" width="22.0" height="11.5" fill="#70f810"/>
<rect x="368.5" y="355.7" width="22.0" height="11.5" fill="#20e810"/>
<rect x="390.3" y="355.7" width="22.0" height="11.5" fill="#00b060"/>
<rect x="412.0" y="355.7" width="43.8" height="11.5" fill="#00b890"/>
<rect x="455.5" y="355.7" width="11.2" height="11.5" fill="#00d0d0"/>
<rect x="466.3" y="355.7" width="22.0" height="11.5" fill="#00c8f0"/>
<rect x="488.1" y="355.7" width="22.0" height="11.5" fill="#08a8f8"/>
<rect x="509.8" y="355.7" width="11.2" height="11.5" fill="#00c8f0"/>
<rect x="520.7" y="355.7" width="11.2" height="11.5" fill="#08a8f8"/>
<rect x="531.5" y="355.7" width="11.2" height="11.5" fill="#0860e0"/>
<rect x="542.4" y="355.7" width="11.2" height="11.5" fill="#0888f0"/>
<rect x="564.1" y="355.7" width="11.2" height="11.5" fill="#00b890"/>
<rect x="596.8" y="355.7" width="11.2" height="11.5" fill="#2e9ac6"/>
<rect x="629.4" y="355.7" width="11.2" height="11.5" fill="#2e9ac6"/>
<rect x="651.1" y="355.7" width="11.2" height="11.5" fill="#0860e0"/>
<rect x="662.0" y="355.7" width="11.2" height="11.5" fill="#0888f0"/>
<rect x="672.8" y="355.7" width="22.0" height="11.5" fill="#0860e0"/>
<rect x="694.6" y="355.7" width="11.2" height="11.5" fill="#0888f0"/>
<rect x="705.4" y="355.7" width="22.0" height="11.5" fill="#0860e0"/>
<rect x="727.2" y="355.7" width="11.2" height="11.5" fill="#2e9ac6"/>
<rect x="748.9" y="355.7" width="11.2" height="11.5" fill="#00b060"/>
<rect x="759.8" y="355.7" width="22.0" height="11.5" fill="#00d030"/>
<rect x="781.5" y="355.7" width="11.2" height="11.5" fill="#00b060"/>
<rect x="792.4" y="355.7" width="22.0" height="11.5" fill="#00b890"/>
<rect x="814.1" y="355.7" width="11.2" height="11.5" fill="#00c8f0"/>
<rect x="825.0" y="355.7" width="11.2" height="11.5" fill="#00d0d0"/>
<rect x="835.8" y="355.7" width="22.0" height="11.5" fill="#00c8f0"/>
<rect x="857.6" y="355.7" width="11.2" height="11.5" fill="#00b060"/>
<rect x="868.5" y="355.7" width="32.9" height="11.5" fill="#00c8f0"/>
<rect x="901.1" y="355.7" width="11.2" height="11.5" fill="#00d0d0"/>
<rect x="911.9" y="355.7" width="22.0" height="11.5" fill="#00c8f0"/>
<rect x="944.5" y="355.7" width="11.2" height="11.5" fill="#00c8f0"/>
<rect x="955.4" y="355.7" width="22.0" height="11.5" fill="#0888f0"/>
<rect x="977.1" y="355.7" width="22.0" height="11.5" fill="#00c8f0"/>
<rect x="998.9" y="355.7" width="22.0" height="11.5" fill="#00d0d0"/>
<rect x="1020.6" y="355.7" width="32.9" height="11.5" fill="#00c8f0"/>
<rect x="1053.2" y="355.7" width="11.2" height="11.5" fill="#00d0d0"/>
<rect x="1064.1" y="355.7" width="76.4" height="11.5" fill="#00c8f0"/>
<rect x="1140.2" y="355.7" width="11.2" height="11.5" fill="#08a8f8"/>
<rect x="1151.0" y="355.7" width="32.9" height="11.5" fill="#00c8f0"/>
<rect x="1183.6" y="355.7" width="22.0" height="11.5" fill="#08a8f8"/>
<rect x="1205.4" y="355.7" width="11.2" height="11.5" fill="#0888f0"/>
<rect x="1216.2" y="355.7" width="22.0" height="11.5" fill="#08a8f8"/>
<rect x="1238.0" y="355.7" width="22.0" height="11.5" fill="#0888f0"/>
<rect x="1259.7" y="355.7" width="11.2" height="11.5" fill="#08a8f8"/>
<rect x="1270.6" y="355.7" width="22.0" height="11.5" fill="#0888f0"/>
<rect x="1292.3" y="355.7" width="22.0" height="11.5" fill="#00c8f0"/>
<rect x="1314.0" y="355.7" width="11.2" height="11.5" fill="#08a8f8"/>
<rect x="1324.9" y="355.7" width="11.2" height="11.5" fill="#00c8f0"/>
<rect x="1335.8" y="355.7" width="11.2" height="11.5" fill="#08a8f8"/>
<rect x="1346.6" y="355.7" width="11.2" height="11.5" fill="#0888f0"/>
<rect x="1357.5" y="355.7" width="32.9" height="11.5" fill="#08a8f8"/>
<rect x="1390.1" y="355.7" width="11.2" height="11.5" fill="#0888f0"/>
<rect x="1401.0" y="355.7" width="22.0" height="11.5" fill="#0860e0"/>
<rect x="1422.7" y="355.7" width="11.2" height="11.5" fill="#0888f0"/>
<rect x="1433.6" y="355.7" width="22.0" height="11.5" fill="#0860e0"/>
<rect x="1455.3" y="355.7" width="11.2" height="11.5" fill="#0888f0"/>
<rect x="1466.2" y="355.7" width="11.2" height="11.5" fill="#0860e0"/>
<rect x="1477.1" y="355.7" width="11.2" height="11.5" fill="#2c46dc"/>
<rect x="270.7" y="366.9" width="22.0" height="11.5" fill="#00b060"/>
<rect x="292.4" y="366.9" width="11.2" height="11.5" fill="#00d030"/>
<rect x="303.3" y="366.9" width="11.2" height="11.5" fill="#20e810"/>
<rect x="314.2" y="366.9" width="11.2" height="11.5" fill="#00d030"/>
<rect x="325.0" y="366.9" width="22.0" height="11.5" fill="#20e810"/>
<rect x="346.8" y="366.9" width="11.2" height="11.5" fill="#70f810"/>
<rect x="357.7" y="366.9" width="22.0" height="11.5" fill="#b0f810"/>
<rect x="379.4" y="366.9" width="11.2" height="11.5" fill="#70f810"/>
<rect x="390.3" y="366.9" width="76.4" height="11.5" fill="#00b060"/>
<rect x="466.3" y="366.9" width="11.2" height="11.5" fill="#00d0d0"/>
<rect x="477.2" y="366.9" width="11.2" height="11.5" fill="#00b890"/>
<rect x="488.1" y="366.9" width="22.0" height="11.5" fill="#00c8f0"/>
<rect x="509.8" y="366.9" width="22.0" height="11.5" fill="#0860e0"/>
<rect x="531.5" y="366.9" width="11.2" height="11.5" fill="#08a8f8"/>
<rect x="542.4" y="366.9" width="11.2" height="11.5" fill="#0860e0"/>
<rect x="553.3" y="366.9" width="11.2" height="11.5" fill="#2e9ac6"/>
<rect x="564.1" y="366.9" width="11.2" height="11.5" fill="#00d030"/>
<rect x="640.2" y="366.9" width="11.2" height="11.5" fill="#2e9ac6"/>
<rect x="662.0" y="366.9" width="22.0" height="11.5" fill="#0888f0"/>
<rect x="683.7" y="366.9" width="11.2" height="11.5" fill="#08a8f8"/>
<rect x="694.6" y="366.9" width="11.2" height="11.5" fill="#00c8f0"/>
<rect x="705.4" y="366.9" width="22.0" height="11.5" fill="#08a8f8"/>
<rect x="759.8" y="366.9" width="11.2" height="11.5" fill="#00b890"/>
<rect x="770.6" y="366.9" width="22.0" height="11.5" fill="#00d030"/>
<rect x="792.4" y="366.9" width="11.2" height="11.5" fill="#20e810"/>
<rect x="803.2" y="366.9" width="11.2" height="11.5" fill="#00b890"/>
<rect x="814.1" y="366.9" width="11.2" height="11.5" fill="#00b060"/>
<rect x="825.0" y="366.9" width="11.2" height="11.5" fill="#00d0d0"/>
<rect x="835.8" y="366.9" width="43.8" height="11.5" fill="#00c8f0"/>
<rect x="879.3" y="366.9" width="11.2" height="11.5" fill="#08a8f8"/>
<rect x="890.2" y="366.9" width="22.0" height="11.5" fill="#00c8f0"/>
<rect x="911.9" y="366.9" width="11.2" height="11.5" fill="#0888f0"/>
<rect x="922.8" y="366.9" width="22.0" height="11.5" fill="#00c8f0"/>
<rect x="944.5" y="366.9" width="22.0" height="11.5" fill="#0888f0"/>
<rect x="966.3" y="366.9" width="22.0" height="11.5" fill="#08a8f8"/>
<rect x="988.0" y="366.9" width="11.2" height="11.5" fill="#0888f0"/>
<rect x="998.9" y="366.9" width="43.8" height="11.5" fill="#00c8f0"/>
<rect x="1042.3" y="366.9" width="22.0" height="11.5" fill="#00d0d0"/>
<rect x="1064.1" y="366.9" width="119.8" height="11.5" fill="#00c8f0"/>
<rect x="1183.6" y="366.9" width="22.0" height="11.5" fill="#08a8f8"/>
<rect x="1205.4" y="366.9" width="11.2" height="11.5" fill="#00c8f0"/>
<rect x="1216.2" y="366.9" width="32.9" height="11.5" fill="#08a8f8"/>
<rect x="1248.8" y="366.9" width="11.2" height="11.5" fill="#0888f0"/>
<rect x="1259.7" y="366.9" width="32.9" height="11.5" fill="#08a8f8"/>
<rect x="1292.3" y="366.9" width="11.2" height="11.5" fill="#00c8f0"/>
<rect x="1303.2" y="366.9" width="32.9" height="11.5" fill="#08a8f8"/>
<rect x="1335.8" y="366.9" width="11.2" height="11.5" fill="#0888f0"/>
<rect x="1346.6" y="366.9" width="32.9" height="11.5" fill="#08a8f8"/>
<rect x="1379.2" y="366.9" width="11.2" height="11.5" fill="#0888f0"/>
<rect x="1390.1" y="366.9" width="11.2" height="11.5" fill="#0860e0"/>
<rect x="1401.0" y="366.9" width="11.2" height="11.5" fill="#0888f0"/>
<rect x="1411.9" y="366.9" width="22.0" height="11.5" fill="#0860e0"/>
<rect x="1433.6" y="366.9" width="11.2" height="11.5" fill="#08a8f8"/>
<rect x="1444.5" y="366.9" width="22.0" height="11.5" fill="#0860e0"/>
<rect x="1466.2" y="366.9" width="11.2" height="11.5" fill="#2c46dc"/>
<rect x="1477.1" y="366.9" width="11.2" height="11.5" fill="#0860e0"/>
<rect x="1487.9" y="366.9" width="11.2" height="11.5" fill="#2c46dc"/>
<rect x="1509.7" y="366.9" width="11.2" height="11.5" fill="#00b890"/>
<rect x="292.4" y="378.1" width="11.2" height="11.5" fill="#70f810"/>
<rect x="303.3" y="378.1" width="11.2" height="11.5" fill="#00d030"/>
<rect x="314.2" y="378.1" width="54.6" height="11.5" fill="#70f810"/>
<rect x="368.5" y="378.1" width="22.0" height="11.5" fill="#20e810"/>
<rect x="390.3" y="378.1" width="32.9" height="11.5" fill="#00b060"/>
<rect x="422.9" y="378.1" width="32.9" height="11.5" fill="#20e810"/>
<rect x="455.5" y="378.1" width="11.2" height="11.5" fill="#00d030"/>
<rect x="466.3" y="378.1" width="22.0" height="11.5" fill="#00b060"/>
<rect x="488.1" y="378.1" width="11.2" height="11.5" fill="#00d030"/>
<rect x="498.9" y="378.1" width="11.2" height="11.5" fill="#20e810"/>
<rect x="509.8" y="378.1" width="22.0" height="11.5" fill="#70f810"/>
<rect x="531.5" y="378.1" width="11.2" height="11.5" fill="#20e810"/>
<rect x="542.4" y="378.1" width="11.2" height="11.5" fill="#08a8f8"/>
<rect x="553.3" y="378.1" width="11.2" height="11.5" fill="#2e9ac6"/>
<rect x="596.8" y="378.1" width="22.0" height="11.5" fill="#2e9ac6"/>
<rect x="640.2" y="378.1" width="11.2" height="11.5" fill="#2e9ac6"/>
<rect x="662.0" y="378.1" width="11.2" height="11.5" fill="#0888f0"/>
<rect x="672.8" y="378.1" width="11.2" height="11.5" fill="#2e9ac6"/>
<rect x="683.7" y="378.1" width="11.2" height="11.5" fill="#08a8f8"/>
<rect x="694.6" y="378.1" width="11.2" height="11.5" fill="#0860e0"/>
<rect x="705.4" y="378.1" width="11.2" height="11.5" fill="#0888f0"/>
<rect x="716.3" y="378.1" width="11.2" height="11.5" fill="#08a8f8"/>
<rect x="748.9" y="378.1" width="11.2" height="11.5" fill="#00b890"/>
<rect x="759.8" y="378.1" width="11.2" height="11.5" fill="#00d030"/>
<rect x="770.6" y="378.1" width="11.2" height="11.5" fill="#00b060"/>
<rect x="781.5" y="378.1" width="22.0" height="11.5" fill="#00d030"/>
<rect x="814.1" y="378.1" width="11.2" height="11.5" fill="#00b060"/>
<rect x="825.0" y="378.1" width="11.2" height="11.5" fill="#00b890"/>
<rect x="835.8" y="378.1" width="11.2" height="11.5" fill="#00b060"/>
<rect x="846.7" y="378.1" width="11.2" height="11.5" fill="#00b890"/>
<rect x="879.3" y="378.1" width="11.2" height="11.5" fill="#00b060"/>
<rect x="890.2" y="378.1" width="11.2" height="11.5" fill="#00b890"/>
<rect x="911.9" y="378.1" width="11.2" height="11.5" fill="#00b890"/>
<rect x="922.8" y="378.1" width="11.2" height="11.5" fill="#20e810"/>
<rect x="933.7" y="378.1" width="22.0" height="11.5" fill="#00d0d0"/>
<rect x="955.4" y="378.1" width="11.2" height="11.5" fill="#7c78ec"/>
<rect x="966.3" y="378.1" width="32.9" height="11.5" fill="#08a8f8"/>
<rect x="998.9" y="378.1" width="11.2" height="11.5" fill="#00b890"/>
<rect x="1009.7" y="378.1" width="54.6" height="11.5" fill="#00c8f0"/>
<rect x="1064.1" y="378.1" width="11.2" height="11.5" fill="#08a8f8"/>
<rect x="1074.9" y="378.1" width="119.8" height="11.5" fill="#00c8f0"/>
<rect x="1194.5" y="378.1" width="22.0" height="11.5" fill="#08a8f8"/>
<rect x="1216.2" y="378.1" width="11.2" height="11.5" fill="#00c8f0"/>
<rect x="1227.1" y="378.1" width="54.6" height="11.5" fill="#08a8f8"/>
<rect x="1281.4" y="378.1" width="11.2" height="11.5" fill="#00c8f0"/>
<rect x="1292.3" y="378.1" width="98.1" height="11.5" fill="#08a8f8"/>
<rect x="1390.1" y="378.1" width="22.0" height="11.5" fill="#0860e0"/>
<rect x="1411.9" y="378.1" width="11.2" height="11.5" fill="#08a8f8"/>
<rect x="1422.7" y="378.1" width="32.9" height="11.5" fill="#0860e0"/>
<rect x="1455.3" y="378.1" width="11.2" height="11.5" fill="#08a8f8"/>
<rect x="1466.2" y="378.1" width="11.2" height="11.5" fill="#0860e0"/>
<rect x="1477.1" y="378.1" width="22.0" height="11.5" fill="#2c46dc"/>
<rect x="1498.8" y="378.1" width="22.0" height="11.5" fill="#0860e0"/>
<rect x="303.3" y="389.2" width="22.0" height="11.5" fill="#00d030"/>
<rect x="325.0" y="389.2" width="11.2" height="11.5" fill="#b0f810"/>
<rect x="335.9" y="389.2" width="11.2" height="11.5" fill="#e8f810"/>
<rect x="346.8" y="389.2" width="11.2" height="11.5" fill="#b0f810"/>
<rect x="357.7" y="389.2" width="43.8" height="11.5" fill="#70f810"/>
<rect x="401.1" y="389.2" width="22.0" height="11.5" fill="#00d030"/>
<rect x="422.9" y="389.2" width="22.0" height="11.5" fill="#20e810"/>
<rect x="444.6" y="389.2" width="11.2" height="11.5" fill="#70f810"/>
<rect x="455.5" y="389.2" width="22.0" height="11.5" fill="#20e810"/>
<rect x="477.2" y="389.2" width="22.0" height="11.5" fill="#00d030"/>
<rect x="498.9" y="389.2" width="32.9" height="11.5" fill="#70f810"/>
<rect x="564.1" y="389.2" width="11.2" height="11.5" fill="#ffc810"/>
<rect x="683.7" y="389.2" width="11.2" height="11.5" fill="#0888f0"/>
<rect x="705.4" y="389.2" width="32.9" height="11.5" fill="#0888f0"/>
<rect x="748.9" y="389.2" width="11.2" height="11.5" fill="#0860e0"/>
<rect x="792.4" y="389.2" width="11.2" height="11.5" fill="#00d030"/>
<rect x="825.0" y="389.2" width="22.0" height="11.5" fill="#00b060"/>
<rect x="857.6" y="389.2" width="32.9" height="11.5" fill="#00d0d0"/>
<rect x="890.2" y="389.2" width="11.2" height="11.5" fill="#00b060"/>
<rect x="901.1" y="389.2" width="32.9" height="11.5" fill="#00d0d0"/>
<rect x="933.7" y="389.2" width="32.9" height="11.5" fill="#00c8f0"/>
<rect x="966.3" y="389.2" width="11.2" height="11.5" fill="#08a8f8"/>
<rect x="977.1" y="389.2" width="76.4" height="11.5" fill="#00c8f0"/>
<rect x="1053.2" y="389.2" width="11.2" height="11.5" fill="#08a8f8"/>
<rect x="1064.1" y="389.2" width="11.2" height="11.5" fill="#0860e0"/>
<rect x="1074.9" y="389.2" width="11.2" height="11.5" fill="#08a8f8"/>
<rect x="1085.8" y="389.2" width="11.2" height="11.5" fill="#0888f0"/>
<rect x="1096.7" y="389.2" width="22.0" height="11.5" fill="#00c8f0"/>
<rect x="1118.4" y="389.2" width="11.2" height="11.5" fill="#08a8f8"/>
<rect x="1129.3" y="389.2" width="22.0" height="11.5" fill="#00c8f0"/>
<rect x="1151.0" y="389.2" width="11.2" height="11.5" fill="#0888f0"/>
<rect x="1161.9" y="389.2" width="22.0" height="11.5" fill="#00c8f0"/>
<rect x="1183.6" y="389.2" width="22.0" height="11.5" fill="#08a8f8"/>
<rect x="1205.4" y="389.2" width="11.2" height="11.5" fill="#00c8f0"/>
<rect x="1216.2" y="389.2" width="32.9" height="11.5" fill="#08a8f8"/>
<rect x="1248.8" y="389.2" width="11.2" height="11.5" fill="#00c8f0"/>
<rect x="1259.7" y="389.2" width="32.9" height="11.5" fill="#08a8f8"/>
<rect x="1292.3" y="389.2" width="11.2" height="11.5" fill="#00c8f0"/>
<rect x="1303.2" y="389.2" width="11.2" height="11.5" fill="#08a8f8"/>
<rect x="1314.0" y="389.2" width="22.0" height="11.5" fill="#0888f0"/>
<rect x="1335.8" y="389.2" width="11.2" height="11.5" fill="#08a8f8"/>
<rect x="1346.6" y="389.2" width="11.2" height="11.5" fill="#0888f0"/>
<rect x="1357.5" y="389.2" width="32.9" height="11.5" fill="#08a8f8"/>
<rect x="1390.1" y="389.2" width="11.2" height="11.5" fill="#0888f0"/>
<rect x="1401.0" y="389.2" width="11.2" height="11.5" fill="#08a8f8"/>
<rect x="1411.9" y="389.2" width="11.2" height="11.5" fill="#0888f0"/>
<rect x="1422.7" y="389.2" width="11.2" height="11.5" fill="#0860e0"/>
<rect x="1433.6" y="389.2" width="22.0" height="11.5" fill="#2c46dc"/>
<rect x="1455.3" y="389.2" width="11.2" height="11.5" fill="#0860e0"/>
<rect x="1466.2" y="389.2" width="22.0" height="11.5" fill="#0888f0"/>
<rect x="1487.9" y="389.2" width="43.8" height="11.5" fill="#0860e0"/>
<rect x="1531.4" y="389.2" width="11.2" height="11.5" fill="#2e9ac6"/>
<rect x="335.9" y="400.4" width="22.0" height="11.5" fill="#20e810"/>
<rect x="357.7" y="400.4" width="22.0" height="11.5" fill="#70f810"/>
<rect x="379.4" y="400.4" width="11.2" height="11.5" fill="#00d030"/>
<rect x="390.3" y="400.4" width="32.9" height="11.5" fill="#70f810"/>
<rect x="422.9" y="400.4" width="54.6" height="11.5" fill="#20e810"/>
<rect x="477.2" y="400.4" width="11.2" height="11.5" fill="#00b060"/>
<rect x="488.1" y="400.4" width="22.0" height="11.5" fill="#00d030"/>
<rect x="509.8" y="400.4" width="11.2" height="11.5" fill="#70f810"/>
<rect x="672.8" y="400.4" width="11.2" height="11.5" fill="#2e9ac6"/>
<rect x="694.6" y="400.4" width="11.2" height="11.5" fill="#1f5c9c"/>
<rect x="716.3" y="400.4" width="22.0" height="11.5" fill="#08a8f8"/>
<rect x="748.9" y="400.4" width="11.2" height="11.5" fill="#0860e0"/>
<rect x="770.6" y="400.4" width="11.2" height="11.5" fill="#2e9ac6"/>
<rect x="803.2" y="400.4" width="11.2" height="11.5" fill="#2e9ac6"/>
<rect x="846.7" y="400.4" width="11.2" height="11.5" fill="#2e9ac6"/>
<rect x="879.3" y="400.4" width="11.2" height="11.5" fill="#00d0d0"/>
<rect x="890.2" y="400.4" width="11.2" height="11.5" fill="#00b890"/>
<rect x="901.1" y="400.4" width="22.0" height="11.5" fill="#00d0d0"/>
<rect x="922.8" y="400.4" width="11.2" height="11.5" fill="#00d030"/>
<rect x="933.7" y="400.4" width="11.2" height="11.5" fill="#00d0d0"/>
<rect x="944.5" y="400.4" width="32.9" height="11.5" fill="#00c8f0"/>
<rect x="977.1" y="400.4" width="11.2" height="11.5" fill="#1f5c9c"/>
<rect x="988.0" y="400.4" width="11.2" height="11.5" fill="#00b060"/>
<rect x="998.9" y="400.4" width="11.2" height="11.5" fill="#00d0d0"/>
<rect x="1009.7" y="400.4" width="11.2" height="11.5" fill="#0888f0"/>
<rect x="1020.6" y="400.4" width="22.0" height="11.5" fill="#00c8f0"/>
<rect x="1042.3" y="400.4" width="11.2" height="11.5" fill="#08a8f8"/>
<rect x="1053.2" y="400.4" width="22.0" height="11.5" fill="#00c8f0"/>
<rect x="1074.9" y="400.4" width="11.2" height="11.5" fill="#0860e0"/>
<rect x="1085.8" y="400.4" width="22.0" height="11.5" fill="#08a8f8"/>
<rect x="1107.5" y="400.4" width="11.2" height="11.5" fill="#0888f0"/>
<rect x="1118.4" y="400.4" width="11.2" height="11.5" fill="#00c8f0"/>
<rect x="1129.3" y="400.4" width="54.6" height="11.5" fill="#00d0d0"/>
<rect x="1183.6" y="400.4" width="76.4" height="11.5" fill="#08a8f8"/>
<rect x="1259.7" y="400.4" width="22.0" height="11.5" fill="#00c8f0"/>
<rect x="1281.4" y="400.4" width="54.6" height="11.5" fill="#08a8f8"/>
<rect x="1335.8" y="400.4" width="22.0" height="11.5" fill="#00c8f0"/>
<rect x="1357.5" y="400.4" width="22.0" height="11.5" fill="#08a8f8"/>
<rect x="1379.2" y="400.4" width="11.2" height="11.5" fill="#0888f0"/>
<rect x="1390.1" y="400.4" width="11.2" height="11.5" fill="#08a8f8"/>
<rect x="1401.0" y="400.4" width="11.2" height="11.5" fill="#00c8f0"/>
<rect x="1411.9" y="400.4" width="22.0" height="11.5" fill="#0888f0"/>
<rect x="1433.6" y="400.4" width="22.0" height="11.5" fill="#2c46dc"/>
<rect x="1455.3" y="400.4" width="11.2" height="11.5" fill="#0860e0"/>
<rect x="1466.2" y="400.4" width="11.2" height="11.5" fill="#0888f0"/>
<rect x="1477.1" y="400.4" width="11.2" height="11.5" fill="#08a8f8"/>
<rect x="1487.9" y="400.4" width="11.2" height="11.5" fill="#0860e0"/>
<rect x="1498.8" y="400.4" width="11.2" height="11.5" fill="#2c46dc"/>
<rect x="1509.7" y="400.4" width="22.0" height="11.5" fill="#08a8f8"/>
<rect x="346.8" y="411.6" width="11.2" height="11.5" fill="#ffa808"/>
<rect x="357.7" y="411.6" width="43.8" height="11.5" fill="#e8f810"/>
<rect x="412.0" y="411.6" width="11.2" height="11.5" fill="#70f810"/>
<rect x="422.9" y="411.6" width="11.2" height="11.5" fill="#b0f810"/>
<rect x="433.7" y="411.6" width="43.8" height="11.5" fill="#00b060"/>
<rect x="477.2" y="411.6" width="11.2" height="11.5" fill="#ff7808"/>
<rect x="520.7" y="411.6" width="11.2" height="11.5" fill="#2e9ac6"/>
<rect x="716.3" y="411.6" width="11.2" height="11.5" fill="#1f5c9c"/>
<rect x="738.0" y="411.6" width="11.2" height="11.5" fill="#2e9ac6"/>
<rect x="770.6" y="411.6" width="11.2" height="11.5" fill="#2e9ac6"/>
<rect x="911.9" y="411.6" width="22.0" height="11.5" fill="#0888f0"/>
<rect x="944.5" y="411.6" width="22.0" height="11.5" fill="#00d0d0"/>
<rect x="966.3" y="411.6" width="11.2" height="11.5" fill="#0888f0"/>
<rect x="977.1" y="411.6" width="11.2" height="11.5" fill="#20e810"/>
<rect x="988.0" y="411.6" width="11.2" height="11.5" fill="#00d030"/>
<rect x="998.9" y="411.6" width="22.0" height="11.5" fill="#00d0d0"/>
<rect x="1020.6" y="411.6" width="11.2" height="11.5" fill="#0860e0"/>
<rect x="1031.5" y="411.6" width="11.2" height="11.5" fill="#08a8f8"/>
<rect x="1042.3" y="411.6" width="11.2" height="11.5" fill="#0888f0"/>
<rect x="1053.2" y="411.6" width="11.2" height="11.5" fill="#08a8f8"/>
<rect x="1064.1" y="411.6" width="11.2" height="11.5" fill="#0888f0"/>
<rect x="1085.8" y="411.6" width="22.0" height="11.5" fill="#7c78ec"/>
<rect x="1118.4" y="411.6" width="11.2" height="11.5" fill="#00b890"/>
<rect x="1140.2" y="411.6" width="11.2" height="11.5" fill="#70f810"/>
<rect x="1151.0" y="411.6" width="11.2" height="11.5" fill="#0860e0"/>
<rect x="1161.9" y="411.6" width="22.0" height="11.5" fill="#00d0d0"/>
<rect x="1183.6" y="411.6" width="11.2" height="11.5" fill="#08a8f8"/>
<rect x="1194.5" y="411.6" width="11.2" height="11.5" fill="#0888f0"/>
<rect x="1205.4" y="411.6" width="22.0" height="11.5" fill="#08a8f8"/>
<rect x="1227.1" y="411.6" width="11.2" height="11.5" fill="#00c8f0"/>
<rect x="1238.0" y="411.6" width="11.2" height="11.5" fill="#08a8f8"/>
<rect x="1248.8" y="411.6" width="22.0" height="11.5" fill="#00c8f0"/>
<rect x="1270.6" y="411.6" width="65.5" height="11.5" fill="#08a8f8"/>
<rect x="1335.8" y="411.6" width="11.2" height="11.5" fill="#0888f0"/>
<rect x="1346.6" y="411.6" width="32.9" height="11.5" fill="#00c8f0"/>
<rect x="1379.2" y="411.6" width="11.2" height="11.5" fill="#0860e0"/>
<rect x="1390.1" y="411.6" width="11.2" height="11.5" fill="#08a8f8"/>
<rect x="1401.0" y="411.6" width="11.2" height="11.5" fill="#00c8f0"/>
<rect x="1411.9" y="411.6" width="11.2" height="11.5" fill="#0888f0"/>
<rect x="1422.7" y="411.6" width="22.0" height="11.5" fill="#0860e0"/>
<rect x="1444.5" y="411.6" width="11.2" height="11.5" fill="#0888f0"/>
<rect x="1455.3" y="411.6" width="32.9" height="11.5" fill="#2c46dc"/>
<rect x="1487.9" y="411.6" width="11.2" height="11.5" fill="#0860e0"/>
<rect x="1498.8" y="411.6" width="11.2" height="11.5" fill="#08a8f8"/>
<rect x="1509.7" y="411.6" width="11.2" height="11.5" fill="#0888f0"/>
<rect x="1542.3" y="411.6" width="22.0" height="11.5" fill="#e0b0ff"/>
<rect x="455.5" y="422.8" width="11.2" height="11.5" fill="#00b060"/>
<rect x="727.2" y="422.8" width="11.2" height="11.5" fill="#2e9ac6"/>
<rect x="803.2" y="422.8" width="11.2" height="11.5" fill="#2e9ac6"/>
<rect x="944.5" y="422.8" width="11.2" height="11.5" fill="#00b890"/>
<rect x="955.4" y="422.8" width="11.2" height="11.5" fill="#00d030"/>
<rect x="966.3" y="422.8" width="22.0" height="11.5" fill="#0888f0"/>
<rect x="988.0" y="422.8" width="11.2" height="11.5" fill="#00b060"/>
<rect x="998.9" y="422.8" width="22.0" height="11.5" fill="#00d0d0"/>
<rect x="1020.6" y="422.8" width="32.9" height="11.5" fill="#00c8f0"/>
<rect x="1053.2" y="422.8" width="11.2" height="11.5" fill="#0888f0"/>
<rect x="1064.1" y="422.8" width="11.2" height="11.5" fill="#08a8f8"/>
<rect x="1074.9" y="422.8" width="11.2" height="11.5" fill="#0860e0"/>
<rect x="1085.8" y="422.8" width="22.0" height="11.5" fill="#08a8f8"/>
<rect x="1107.5" y="422.8" width="11.2" height="11.5" fill="#0888f0"/>
<rect x="1118.4" y="422.8" width="11.2" height="11.5" fill="#00b890"/>
<rect x="1140.2" y="422.8" width="22.0" height="11.5" fill="#00b890"/>
<rect x="1161.9" y="422.8" width="11.2" height="11.5" fill="#00b060"/>
<rect x="1172.8" y="422.8" width="11.2" height="11.5" fill="#00b890"/>
<rect x="1183.6" y="422.8" width="11.2" height="11.5" fill="#08a8f8"/>
<rect x="1194.5" y="422.8" width="11.2" height="11.5" fill="#00c8f0"/>
<rect x="1205.4" y="422.8" width="11.2" height="11.5" fill="#0888f0"/>
<rect x="1216.2" y="422.8" width="11.2" height="11.5" fill="#0860e0"/>
<rect x="1227.1" y="422.8" width="11.2" height="11.5" fill="#08a8f8"/>
<rect x="1238.0" y="422.8" width="11.2" height="11.5" fill="#0888f0"/>
<rect x="1248.8" y="422.8" width="11.2" height="11.5" fill="#00d0d0"/>
<rect x="1259.7" y="422.8" width="11.2" height="11.5" fill="#08a8f8"/>
<rect x="1270.6" y="422.8" width="11.2" height="11.5" fill="#0888f0"/>
<rect x="1281.4" y="422.8" width="11.2" height="11.5" fill="#08a8f8"/>
<rect x="1292.3" y="422.8" width="11.2" height="11.5" fill="#00c8f0"/>
<rect x="1303.2" y="422.8" width="11.2" height="11.5" fill="#08a8f8"/>
<rect x="1314.0" y="422.8" width="11.2" height="11.5" fill="#0860e0"/>
<rect x="1324.9" y="422.8" width="32.9" height="11.5" fill="#00b890"/>
<rect x="1357.5" y="422.8" width="11.2" height="11.5" fill="#00c8f0"/>
<rect x="1368.4" y="422.8" width="11.2" height="11.5" fill="#00d0d0"/>
<rect x="1379.2" y="422.8" width="32.9" height="11.5" fill="#00c8f0"/>
<rect x="1411.9" y="422.8" width="22.0" height="11.5" fill="#2c46dc"/>
<rect x="1433.6" y="422.8" width="11.2" height="11.5" fill="#0888f0"/>
<rect x="1444.5" y="422.8" width="11.2" height="11.5" fill="#0860e0"/>
<rect x="1455.3" y="422.8" width="22.0" height="11.5" fill="#0888f0"/>
<rect x="1477.1" y="422.8" width="11.2" height="11.5" fill="#2c46dc"/>
<rect x="1487.9" y="422.8" width="11.2" height="11.5" fill="#0860e0"/>
<rect x="1498.8" y="422.8" width="11.2" height="11.5" fill="#7c78ec"/>
<rect x="1509.7" y="422.8" width="22.0" height="11.5" fill="#0860e0"/>
<rect x="781.5" y="434.0" width="22.0" height="11.5" fill="#2e9ac6"/>
<rect x="814.1" y="434.0" width="11.2" height="11.5" fill="#1f5c9c"/>
<rect x="825.0" y="434.0" width="11.2" height="11.5" fill="#2e9ac6"/>
<rect x="955.4" y="434.0" width="11.2" height="11.5" fill="#00b060"/>
<rect x="966.3" y="434.0" width="22.0" height="11.5" fill="#08a8f8"/>
<rect x="988.0" y="434.0" width="22.0" height="11.5" fill="#00c8f0"/>
<rect x="1009.7" y="434.0" width="11.2" height="11.5" fill="#08a8f8"/>
<rect x="1020.6" y="434.0" width="22.0" height="11.5" fill="#00c8f0"/>
<rect x="1053.2" y="434.0" width="22.0" height="11.5" fill="#08a8f8"/>
<rect x="1085.8" y="434.0" width="22.0" height="11.5" fill="#08a8f8"/>
<rect x="1118.4" y="434.0" width="11.2" height="11.5" fill="#0888f0"/>
<rect x="1194.5" y="434.0" width="11.2" height="11.5" fill="#0888f0"/>
<rect x="1205.4" y="434.0" width="11.2" height="11.5" fill="#08a8f8"/>
<rect x="1216.2" y="434.0" width="11.2" height="11.5" fill="#00b890"/>
<rect x="1227.1" y="434.0" width="11.2" height="11.5" fill="#00c8f0"/>
<rect x="1238.0" y="434.0" width="11.2" height="11.5" fill="#00d0d0"/>
<rect x="1248.8" y="434.0" width="11.2" height="11.5" fill="#00b060"/>
<rect x="1259.7" y="434.0" width="32.9" height="11.5" fill="#08a8f8"/>
<rect x="1292.3" y="434.0" width="11.2" height="11.5" fill="#00d0d0"/>
<rect x="1303.2" y="434.0" width="11.2" height="11.5" fill="#00c8f0"/>
<rect x="1314.0" y="434.0" width="11.2" height="11.5" fill="#08a8f8"/>
<rect x="1324.9" y="434.0" width="22.0" height="11.5" fill="#00b060"/>
<rect x="1346.6" y="434.0" width="22.0" height="11.5" fill="#00d0d0"/>
<rect x="1368.4" y="434.0" width="11.2" height="11.5" fill="#00c8f0"/>
<rect x="1379.2" y="434.0" width="11.2" height="11.5" fill="#00d030"/>
<rect x="1390.1" y="434.0" width="11.2" height="11.5" fill="#00b890"/>
<rect x="1401.0" y="434.0" width="32.9" height="11.5" fill="#0860e0"/>
<rect x="1433.6" y="434.0" width="11.2" height="11.5" fill="#08a8f8"/>
<rect x="1444.5" y="434.0" width="22.0" height="11.5" fill="#0888f0"/>
<rect x="1466.2" y="434.0" width="22.0" height="11.5" fill="#0860e0"/>
<rect x="1487.9" y="434.0" width="11.2" height="11.5" fill="#2c46dc"/>
<rect x="1498.8" y="434.0" width="11.2" height="11.5" fill="#7c78ec"/>
<rect x="1509.7" y="434.0" width="11.2" height="11.5" fill="#e0b0ff"/>
<rect x="1520.5" y="434.0" width="11.2" height="11.5" fill="#0860e0"/>
<rect x="857.6" y="445.2" width="11.2" height="11.5" fill="#2e9ac6"/>
<rect x="1020.6" y="445.2" width="22.0" height="11.5" fill="#00b890"/>
<rect x="1042.3" y="445.2" width="11.2" height="11.5" fill="#00b060"/>
<rect x="1053.2" y="445.2" width="11.2" height="11.5" fill="#00b890"/>
<rect x="1064.1" y="445.2" width="11.2" height="11.5" fill="#00b060"/>
<rect x="1074.9" y="445.2" width="11.2" height="11.5" fill="#00d0d0"/>
<rect x="1085.8" y="445.2" width="11.2" height="11.5" fill="#08a8f8"/>
<rect x="1096.7" y="445.2" width="11.2" height="11.5" fill="#00d0d0"/>
<rect x="1107.5" y="445.2" width="11.2" height="11.5" fill="#00b060"/>
<rect x="1118.4" y="445.2" width="11.2" height="11.5" fill="#0860e0"/>
<rect x="1183.6" y="445.2" width="11.2" height="11.5" fill="#00b060"/>
<rect x="1238.0" y="445.2" width="11.2" height="11.5" fill="#b0f810"/>
<rect x="1248.8" y="445.2" width="11.2" height="11.5" fill="#2c46dc"/>
<rect x="1259.7" y="445.2" width="22.0" height="11.5" fill="#08a8f8"/>
<rect x="1281.4" y="445.2" width="11.2" height="11.5" fill="#0888f0"/>
<rect x="1292.3" y="445.2" width="11.2" height="11.5" fill="#08a8f8"/>
<rect x="1303.2" y="445.2" width="11.2" height="11.5" fill="#0888f0"/>
<rect x="1314.0" y="445.2" width="11.2" height="11.5" fill="#00c8f0"/>
<rect x="1324.9" y="445.2" width="11.2" height="11.5" fill="#00d030"/>
<rect x="1335.8" y="445.2" width="11.2" height="11.5" fill="#00b060"/>
<rect x="1346.6" y="445.2" width="11.2" height="11.5" fill="#00b890"/>
<rect x="1357.5" y="445.2" width="22.0" height="11.5" fill="#00d0d0"/>
<rect x="1379.2" y="445.2" width="11.2" height="11.5" fill="#20e810"/>
<rect x="1390.1" y="445.2" width="11.2" height="11.5" fill="#0888f0"/>
<rect x="1401.0" y="445.2" width="11.2" height="11.5" fill="#08a8f8"/>
<rect x="1411.9" y="445.2" width="22.0" height="11.5" fill="#0888f0"/>
<rect x="1433.6" y="445.2" width="11.2" height="11.5" fill="#08a8f8"/>
<rect x="1444.5" y="445.2" width="11.2" height="11.5" fill="#0888f0"/>
<rect x="1455.3" y="445.2" width="22.0" height="11.5" fill="#0860e0"/>
<rect x="1477.1" y="445.2" width="11.2" height="11.5" fill="#0888f0"/>
<rect x="1487.9" y="445.2" width="11.2" height="11.5" fill="#08a8f8"/>
<rect x="1498.8" y="445.2" width="11.2" height="11.5" fill="#0888f0"/>
<rect x="1509.7" y="445.2" width="11.2" height="11.5" fill="#7c78ec"/>
<rect x="1520.5" y="445.2" width="11.2" height="11.5" fill="#e0b0ff"/>
<rect x="1531.4" y="445.2" width="32.9" height="11.5" fill="#0888f0"/>
<rect x="825.0" y="456.4" width="11.2" height="11.5" fill="#2e9ac6"/>
<rect x="1064.1" y="456.4" width="11.2" height="11.5" fill="#00b890"/>
<rect x="1085.8" y="456.4" width="11.2" height="11.5" fill="#00d030"/>
<rect x="1096.7" y="456.4" width="11.2" height="11.5" fill="#20e810"/>
<rect x="1118.4" y="456.4" width="11.2" height="11.5" fill="#2e9ac6"/>
<rect x="1129.3" y="456.4" width="11.2" height="11.5" fill="#00d0d0"/>
<rect x="1151.0" y="456.4" width="11.2" height="11.5" fill="#0860e0"/>
<rect x="1216.2" y="456.4" width="11.2" height="11.5" fill="#2e9ac6"/>
<rect x="1259.7" y="456.4" width="22.0" height="11.5" fill="#0888f0"/>
<rect x="1292.3" y="456.4" width="11.2" height="11.5" fill="#70f810"/>
<rect x="1303.2" y="456.4" width="11.2" height="11.5" fill="#00d030"/>
<rect x="1314.0" y="456.4" width="11.2" height="11.5" fill="#00b060"/>
<rect x="1324.9" y="456.4" width="11.2" height="11.5" fill="#0888f0"/>
<rect x="1335.8" y="456.4" width="11.2" height="11.5" fill="#b0f810"/>
<rect x="1346.6" y="456.4" width="11.2" height="11.5" fill="#00d030"/>
<rect x="1357.5" y="456.4" width="11.2" height="11.5" fill="#00d0d0"/>
<rect x="1368.4" y="456.4" width="11.2" height="11.5" fill="#00c8f0"/>
<rect x="1390.1" y="456.4" width="11.2" height="11.5" fill="#00b890"/>
<rect x="1401.0" y="456.4" width="11.2" height="11.5" fill="#00d0d0"/>
<rect x="1411.9" y="456.4" width="11.2" height="11.5" fill="#0888f0"/>
<rect x="1422.7" y="456.4" width="11.2" height="11.5" fill="#0860e0"/>
<rect x="1433.6" y="456.4" width="11.2" height="11.5" fill="#08a8f8"/>
<rect x="1444.5" y="456.4" width="11.2" height="11.5" fill="#00c8f0"/>
<rect x="1455.3" y="456.4" width="11.2" height="11.5" fill="#08a8f8"/>
<rect x="1466.2" y="456.4" width="11.2" height="11.5" fill="#0888f0"/>
<rect x="1477.1" y="456.4" width="11.2" height="11.5" fill="#08a8f8"/>
<rect x="1487.9" y="456.4" width="11.2" height="11.5" fill="#0888f0"/>
<rect x="1498.8" y="456.4" width="11.2" height="11.5" fill="#08a8f8"/>
<rect x="1509.7" y="456.4" width="11.2" height="11.5" fill="#0860e0"/>
<rect x="1542.3" y="456.4" width="11.2" height="11.5" fill="#0860e0"/>
<rect x="1553.1" y="456.4" width="11.2" height="11.5" fill="#2e9ac6"/>
<rect x="1107.5" y="467.6" width="11.2" height="11.5" fill="#00b890"/>
<rect x="1129.3" y="467.6" width="22.0" height="11.5" fill="#7c78ec"/>
<rect x="1151.0" y="467.6" width="22.0" height="11.5" fill="#0860e0"/>
<rect x="1172.8" y="467.6" width="11.2" height="11.5" fill="#2c46dc"/>
<rect x="1324.9" y="467.6" width="11.2" height="11.5" fill="#0888f0"/>
<rect x="1346.6" y="467.6" width="11.2" height="11.5" fill="#00c8f0"/>
<rect x="1357.5" y="467.6" width="32.9" height="11.5" fill="#00d0d0"/>
<rect x="1390.1" y="467.6" width="11.2" height="11.5" fill="#00b890"/>
<rect x="1401.0" y="467.6" width="22.0" height="11.5" fill="#00b060"/>
<rect x="1433.6" y="467.6" width="11.2" height="11.5" fill="#00d0d0"/>
<rect x="1444.5" y="467.6" width="11.2" height="11.5" fill="#00c8f0"/>
<rect x="1455.3" y="467.6" width="22.0" height="11.5" fill="#08a8f8"/>
<rect x="1477.1" y="467.6" width="11.2" height="11.5" fill="#00c8f0"/>
<rect x="1487.9" y="467.6" width="22.0" height="11.5" fill="#08a8f8"/>
<rect x="1509.7" y="467.6" width="22.0" height="11.5" fill="#0860e0"/>
<rect x="1553.1" y="467.6" width="11.2" height="11.5" fill="#2e9ac6"/>
<rect x="1118.4" y="478.8" width="11.2" height="11.5" fill="#00b060"/>
<rect x="1129.3" y="478.8" width="11.2" height="11.5" fill="#2c46dc"/>
<rect x="1324.9" y="478.8" width="11.2" height="11.5" fill="#0860e0"/>
<rect x="1346.6" y="478.8" width="11.2" height="11.5" fill="#08a8f8"/>
<rect x="1357.5" y="478.8" width="11.2" height="11.5" fill="#0888f0"/>
<rect x="1379.2" y="478.8" width="11.2" height="11.5" fill="#00b890"/>
<rect x="1390.1" y="478.8" width="11.2" height="11.5" fill="#0860e0"/>
<rect x="1411.9" y="478.8" width="11.2" height="11.5" fill="#00d030"/>
<rect x="1422.7" y="478.8" width="11.2" height="11.5" fill="#20e810"/>
<rect x="1444.5" y="478.8" width="11.2" height="11.5" fill="#00b060"/>
<rect x="1466.2" y="478.8" width="22.0" height="11.5" fill="#00b890"/>
<rect x="1487.9" y="478.8" width="22.0" height="11.5" fill="#00b060"/>
<rect x="1520.5" y="478.8" width="11.2" height="11.5" fill="#00b890"/>
<rect x="1140.2" y="490.0" width="11.2" height="11.5" fill="#1f5c9c"/>
<rect x="1183.6" y="490.0" width="11.2" height="11.5" fill="#00b060"/>
<rect x="1368.4" y="490.0" width="11.2" height="11.5" fill="#00b060"/>
<rect x="1390.1" y="490.0" width="11.2" height="11.5" fill="#1f5c9c"/>
<rect x="1401.0" y="490.0" width="11.2" height="11.5" fill="#00b060"/>
<rect x="1422.7" y="490.0" width="11.2" height="11.5" fill="#2e9ac6"/>
<rect x="1444.5" y="490.0" width="22.0" height="11.5" fill="#2e9ac6"/>
<rect x="1477.1" y="490.0" width="11.2" height="11.5" fill="#2e9ac6"/>
<rect x="1498.8" y="490.0" width="11.2" height="11.5" fill="#00b890"/>
<rect x="1509.7" y="490.0" width="11.2" height="11.5" fill="#7894b4"/>
<rect x="1520.5" y="490.0" width="11.2" height="11.5" fill="#00b890"/>
<rect x="1292.3" y="501.1" width="11.2" height="11.5" fill="#1f5c9c"/>
<rect x="1314.0" y="501.1" width="11.2" height="11.5" fill="#2c46dc"/>
<rect x="1324.9" y="501.1" width="11.2" height="11.5" fill="#7c78ec"/>
<rect x="1346.6" y="501.1" width="11.2" height="11.5" fill="#2e9ac6"/>
<rect x="1357.5" y="501.1" width="11.2" height="11.5" fill="#0888f0"/>
<rect x="1422.7" y="501.1" width="11.2" height="11.5" fill="#2e9ac6"/>
<rect x="1444.5" y="501.1" width="11.2" height="11.5" fill="#1f5c9c"/>
<rect x="1466.2" y="501.1" width="11.2" height="11.5" fill="#1f5c9c"/>
<rect x="1487.9" y="501.1" width="22.0" height="11.5" fill="#2e9ac6"/>
<rect x="1509.7" y="501.1" width="11.2" height="11.5" fill="#0860e0"/>
<rect x="1216.2" y="512.3" width="11.2" height="11.5" fill="#1f5c9c"/>
<rect x="1357.5" y="512.3" width="11.2" height="11.5" fill="#2e9ac6"/>
<rect x="1422.7" y="512.3" width="11.2" height="11.5" fill="#2e9ac6"/>
<rect x="1487.9" y="512.3" width="11.2" height="11.5" fill="#20e810"/>
<rect x="1531.4" y="512.3" width="11.2" height="11.5" fill="#2c46dc"/>
<rect x="1542.3" y="512.3" width="11.2" height="11.5" fill="#08a8f8"/>
<rect x="1553.1" y="512.3" width="11.2" height="11.5" fill="#1f5c9c"/>
<rect x="1411.9" y="523.5" width="11.2" height="11.5" fill="#c078e8"/>
<rect x="1455.3" y="523.5" width="11.2" height="11.5" fill="#2e9ac6"/>
<rect x="1477.1" y="523.5" width="22.0" height="11.5" fill="#2e9ac6"/>
<rect x="1531.4" y="523.5" width="11.2" height="11.5" fill="#2c46dc"/>
<rect x="1542.3" y="523.5" width="11.2" height="11.5" fill="#7c78ec"/>
<rect x="1564.0" y="523.5" width="11.2" height="11.5" fill="#4cd23c"/>
<rect x="1444.5" y="534.7" width="11.2" height="11.5" fill="#2e9ac6"/>
<rect x="1542.3" y="534.7" width="11.2" height="11.5" fill="#e0b0ff"/>
<rect x="1574.9" y="545.9" width="11.2" height="11.5" fill="#2e9ac6"/>
<rect x="1596.6" y="557.1" width="11.2" height="11.5" fill="#9478c4"/>
<rect x="1585.7" y="568.3" width="11.2" height="11.5" fill="#2e9ac6"/></g>
<line x1="205.5" y1="63.8" x2="1770.5" y2="584" stroke="#000" stroke-opacity="0.62" stroke-width="1.8"/>
<g stroke="#4a4a4a" stroke-width="3.6" fill="none"><line x1="249.0" y1="32.5" x2="249.0" y2="49.0"/><line x1="249.0" y1="645.5" x2="249.0" y2="629.0"/><line x1="466.3" y1="32.5" x2="466.3" y2="49.0"/><line x1="466.3" y1="645.5" x2="466.3" y2="629.0"/><line x1="683.7" y1="32.5" x2="683.7" y2="49.0"/><line x1="683.7" y1="645.5" x2="683.7" y2="629.0"/><line x1="901.1" y1="32.5" x2="901.1" y2="49.0"/><line x1="901.1" y1="645.5" x2="901.1" y2="629.0"/><line x1="1118.4" y1="32.5" x2="1118.4" y2="49.0"/><line x1="1118.4" y1="645.5" x2="1118.4" y2="629.0"/><line x1="1335.8" y1="32.5" x2="1335.8" y2="49.0"/><line x1="1335.8" y1="645.5" x2="1335.8" y2="629.0"/><line x1="1553.1" y1="32.5" x2="1553.1" y2="49.0"/><line x1="1553.1" y1="645.5" x2="1553.1" y2="629.0"/></g><g stroke="#2a2a2a" stroke-width="3.4" fill="none"><line x1="205.5" y1="144.0" x2="222.0" y2="144.0"/><line x1="1770.5" y1="144.0" x2="1754.0" y2="144.0"/><line x1="205.5" y1="255.4" x2="222.0" y2="255.4"/><line x1="1770.5" y1="255.4" x2="1754.0" y2="255.4"/><line x1="205.5" y1="366.9" x2="222.0" y2="366.9"/><line x1="1770.5" y1="366.9" x2="1754.0" y2="366.9"/><line x1="205.5" y1="478.3" x2="222.0" y2="478.3"/><line x1="1770.5" y1="478.3" x2="1754.0" y2="478.3"/><line x1="205.5" y1="589.8" x2="222.0" y2="589.8"/><line x1="1770.5" y1="589.8" x2="1754.0" y2="589.8"/></g>
<g><rect x="203.0" y="30.0" width="1570.0" height="2.3" fill="#1c1c1c"/><rect x="203.0" y="32.3" width="1570.0" height="2.3" fill="#a2a2a2"/><rect x="203.0" y="642.9" width="1570.0" height="2.4" fill="#a2a2a2"/><rect x="203.0" y="645.3" width="1570.0" height="2.7" fill="#1c1c1c"/><rect x="203.0" y="30.0" width="4.8" height="618.0" fill="#686868"/><rect x="207.8" y="34.6" width="1.0" height="608.3" fill="#dcdcdc"/><rect x="1768.0" y="30.0" width="3.6" height="618.0" fill="#6e6e6e"/><rect x="1771.6" y="30.0" width="1.4" height="618.0" fill="#c4c4c4"/></g>
<text x="188.0" y="49.8" font-size="51" text-anchor="end" >30</text>
<text x="188.0" y="161.3" font-size="51" text-anchor="end" >20</text>
<text x="188.0" y="272.7" font-size="51" text-anchor="end" >10</text>
<text x="188.0" y="384.2" font-size="51" text-anchor="end" >0</text>
<text x="188.0" y="495.6" font-size="51" text-anchor="end" >-10</text>
<text x="188.0" y="607.1" font-size="51" text-anchor="end" >-20</text>
<text x="249.0" y="711.0" font-size="51" text-anchor="middle" >0</text>
<text x="466.3" y="711.0" font-size="51" text-anchor="middle" >1</text>
<text x="683.7" y="711.0" font-size="51" text-anchor="middle" >2</text>
<text x="901.1" y="711.0" font-size="51" text-anchor="middle" >3</text>
<text x="1118.4" y="711.0" font-size="51" text-anchor="middle" >4</text>
<text x="1335.8" y="711.0" font-size="51" text-anchor="middle" >5</text>
<text x="1553.1" y="711.0" font-size="51" text-anchor="middle" >6</text>
<text x="1770.5" y="711.0" font-size="51" text-anchor="middle" >7</text>
<text x="975.0" y="769.0" font-size="51.2" text-anchor="middle" >Elevation  (km)</text>
<text transform="translate(58.7 364.6) rotate(-90)" font-size="51.3" text-anchor="middle">The annual average LST  (°C)</text>
<g><rect x="204.00" y="793.0" width="63.22" height="37.0" fill="#a030c0"/><rect x="266.72" y="793.0" width="63.22" height="37.0" fill="#c078e8"/><rect x="329.44" y="793.0" width="63.22" height="37.0" fill="#e0b0ff"/><rect x="392.16" y="793.0" width="63.22" height="37.0" fill="#8870f8"/><rect x="454.88" y="793.0" width="63.22" height="37.0" fill="#3838e0"/><rect x="517.60" y="793.0" width="63.22" height="37.0" fill="#0860e0"/><rect x="580.32" y="793.0" width="63.22" height="37.0" fill="#0888f0"/><rect x="643.04" y="793.0" width="63.22" height="37.0" fill="#08a8f8"/><rect x="705.76" y="793.0" width="63.22" height="37.0" fill="#00c8f0"/><rect x="768.48" y="793.0" width="63.22" height="37.0" fill="#00d0d0"/><rect x="831.20" y="793.0" width="63.22" height="37.0" fill="#00b890"/><rect x="893.92" y="793.0" width="63.22" height="37.0" fill="#00b060"/><rect x="956.64" y="793.0" width="63.22" height="37.0" fill="#00d030"/><rect x="1019.36" y="793.0" width="63.22" height="37.0" fill="#20e810"/><rect x="1082.08" y="793.0" width="63.22" height="37.0" fill="#70f810"/><rect x="1144.80" y="793.0" width="63.22" height="37.0" fill="#b0f810"/><rect x="1207.52" y="793.0" width="63.22" height="37.0" fill="#e8f810"/><rect x="1270.24" y="793.0" width="63.22" height="37.0" fill="#ffe010"/><rect x="1332.96" y="793.0" width="63.22" height="37.0" fill="#ffc810"/><rect x="1395.68" y="793.0" width="63.22" height="37.0" fill="#ffa808"/><rect x="1458.40" y="793.0" width="63.22" height="37.0" fill="#ff7808"/><rect x="1521.12" y="793.0" width="63.22" height="37.0" fill="#ff4010"/><rect x="1583.84" y="793.0" width="63.22" height="37.0" fill="#ff0808"/><rect x="1646.56" y="793.0" width="63.22" height="37.0" fill="#e00000"/><rect x="1709.28" y="793.0" width="62.72" height="37.0" fill="#c00000"/></g>
<rect x="205.0" y="794.0" width="1566.0" height="35.0" fill="none" stroke="rgba(40,40,60,0.35)" stroke-width="2"/>
<text x="237.8" y="884.3" font-size="51" text-anchor="end" letter-spacing="1.7">-15</text>
<text x="549.6" y="884.3" font-size="51" text-anchor="end" letter-spacing="1.6">-10</text>
<text x="851.0" y="884.3" font-size="51" text-anchor="end" letter-spacing="1.6">-5</text>
<text x="1147.4" y="884.3" font-size="51" text-anchor="middle" >0</text>
<text x="1459.5" y="884.3" font-size="51" text-anchor="middle" >5</text>
<text x="1739.6" y="884.3" font-size="51" text-anchor="start" word-spacing="-3.5">10 °C/km</text>
<text class="cap" x="304.8" y="988.3" font-size="78.5" textLength="1330.4" lengthAdjust="spacingAndGlyphs">(<tspan font-weight="bold">a</tspan>) The mean of the annual average TLR</text>
<g id="heat-b" filter="url(#soft)"><rect x="251.9" y="1097.2" width="11.1" height="11.5" fill="#0000c8"/>
<rect x="251.9" y="1108.4" width="11.1" height="11.5" fill="#007cff"/>
<rect x="262.7" y="1108.4" width="22.0" height="11.5" fill="#0000c8"/>
<rect x="501.4" y="1108.4" width="11.1" height="11.5" fill="#38c8d0"/>
<rect x="251.9" y="1119.6" width="11.1" height="11.5" fill="#00b0ff"/>
<rect x="262.7" y="1119.6" width="11.1" height="11.5" fill="#0044ff"/>
<rect x="273.6" y="1119.6" width="32.8" height="11.5" fill="#0000c8"/>
<rect x="251.9" y="1130.8" width="11.1" height="11.5" fill="#00b0ff"/>
<rect x="262.7" y="1130.8" width="11.1" height="11.5" fill="#0044ff"/>
<rect x="273.6" y="1130.8" width="11.1" height="11.5" fill="#007cff"/>
<rect x="284.4" y="1130.8" width="11.1" height="11.5" fill="#0044ff"/>
<rect x="295.3" y="1130.8" width="11.1" height="11.5" fill="#0000c8"/>
<rect x="306.1" y="1130.8" width="11.1" height="11.5" fill="#0044ff"/>
<rect x="317.0" y="1130.8" width="11.1" height="11.5" fill="#0000c8"/>
<rect x="338.7" y="1130.8" width="11.1" height="11.5" fill="#30ffd0"/>
<rect x="349.5" y="1130.8" width="22.0" height="11.5" fill="#0000c8"/>
<rect x="458.0" y="1130.8" width="11.1" height="11.5" fill="#000094"/>
<rect x="490.6" y="1130.8" width="11.1" height="11.5" fill="#0000c8"/>
<rect x="501.4" y="1130.8" width="11.1" height="11.5" fill="#0012f2"/>
<rect x="512.3" y="1130.8" width="22.0" height="11.5" fill="#0000c8"/>
<rect x="544.8" y="1130.8" width="11.1" height="11.5" fill="#0000c8"/>
<rect x="555.7" y="1130.8" width="22.0" height="11.5" fill="#000094"/>
<rect x="251.9" y="1142.0" width="11.1" height="11.5" fill="#00b0ff"/>
<rect x="262.7" y="1142.0" width="22.0" height="11.5" fill="#007cff"/>
<rect x="284.4" y="1142.0" width="11.1" height="11.5" fill="#0044ff"/>
<rect x="295.3" y="1142.0" width="32.8" height="11.5" fill="#0012f2"/>
<rect x="327.8" y="1142.0" width="65.4" height="11.5" fill="#0000c8"/>
<rect x="403.8" y="1142.0" width="11.1" height="11.5" fill="#007cff"/>
<rect x="414.6" y="1142.0" width="11.1" height="11.5" fill="#0000c8"/>
<rect x="425.5" y="1142.0" width="11.1" height="11.5" fill="#00b0ff"/>
<rect x="436.3" y="1142.0" width="54.5" height="11.5" fill="#0000c8"/>
<rect x="490.6" y="1142.0" width="11.1" height="11.5" fill="#007cff"/>
<rect x="501.4" y="1142.0" width="11.1" height="11.5" fill="#0000c8"/>
<rect x="523.1" y="1142.0" width="11.1" height="11.5" fill="#0044ff"/>
<rect x="534.0" y="1142.0" width="11.1" height="11.5" fill="#0012f2"/>
<rect x="544.8" y="1142.0" width="11.1" height="11.5" fill="#0000c8"/>
<rect x="555.7" y="1142.0" width="11.1" height="11.5" fill="#70ff90"/>
<rect x="566.5" y="1142.0" width="11.1" height="11.5" fill="#0000c8"/>
<rect x="588.2" y="1142.0" width="11.1" height="11.5" fill="#000094"/>
<rect x="251.9" y="1153.2" width="11.1" height="11.5" fill="#00b0ff"/>
<rect x="262.7" y="1153.2" width="22.0" height="11.5" fill="#007cff"/>
<rect x="284.4" y="1153.2" width="32.8" height="11.5" fill="#0044ff"/>
<rect x="317.0" y="1153.2" width="22.0" height="11.5" fill="#0012f2"/>
<rect x="338.7" y="1153.2" width="11.1" height="11.5" fill="#0000c8"/>
<rect x="349.5" y="1153.2" width="11.1" height="11.5" fill="#007cff"/>
<rect x="360.4" y="1153.2" width="43.7" height="11.5" fill="#0012f2"/>
<rect x="403.8" y="1153.2" width="11.1" height="11.5" fill="#007cff"/>
<rect x="414.6" y="1153.2" width="22.0" height="11.5" fill="#0012f2"/>
<rect x="436.3" y="1153.2" width="11.1" height="11.5" fill="#0044ff"/>
<rect x="447.2" y="1153.2" width="22.0" height="11.5" fill="#0012f2"/>
<rect x="468.9" y="1153.2" width="11.1" height="11.5" fill="#0044ff"/>
<rect x="479.7" y="1153.2" width="65.4" height="11.5" fill="#0012f2"/>
<rect x="544.8" y="1153.2" width="11.1" height="11.5" fill="#0044ff"/>
<rect x="555.7" y="1153.2" width="11.1" height="11.5" fill="#0000c8"/>
<rect x="566.5" y="1153.2" width="11.1" height="11.5" fill="#007cff"/>
<rect x="577.4" y="1153.2" width="22.0" height="11.5" fill="#0012f2"/>
<rect x="599.1" y="1153.2" width="11.1" height="11.5" fill="#0000c8"/>
<rect x="609.9" y="1153.2" width="11.1" height="11.5" fill="#000094"/>
<rect x="620.8" y="1153.2" width="11.1" height="11.5" fill="#0000c8"/>
<rect x="631.6" y="1153.2" width="11.1" height="11.5" fill="#0012f2"/>
<rect x="251.9" y="1164.4" width="11.1" height="11.5" fill="#00b0ff"/>
<rect x="262.7" y="1164.4" width="11.1" height="11.5" fill="#007cff"/>
<rect x="273.6" y="1164.4" width="54.5" height="11.5" fill="#0044ff"/>
<rect x="327.8" y="1164.4" width="11.1" height="11.5" fill="#007cff"/>
<rect x="338.7" y="1164.4" width="22.0" height="11.5" fill="#0012f2"/>
<rect x="360.4" y="1164.4" width="11.1" height="11.5" fill="#007cff"/>
<rect x="371.2" y="1164.4" width="11.1" height="11.5" fill="#0012f2"/>
<rect x="382.1" y="1164.4" width="65.4" height="11.5" fill="#0000c8"/>
<rect x="447.2" y="1164.4" width="11.1" height="11.5" fill="#0044ff"/>
<rect x="458.0" y="1164.4" width="54.5" height="11.5" fill="#0012f2"/>
<rect x="512.3" y="1164.4" width="11.1" height="11.5" fill="#0044ff"/>
<rect x="523.1" y="1164.4" width="11.1" height="11.5" fill="#007cff"/>
<rect x="534.0" y="1164.4" width="11.1" height="11.5" fill="#0044ff"/>
<rect x="544.8" y="1164.4" width="32.8" height="11.5" fill="#0012f2"/>
<rect x="577.4" y="1164.4" width="11.1" height="11.5" fill="#007cff"/>
<rect x="588.2" y="1164.4" width="11.1" height="11.5" fill="#0044ff"/>
<rect x="599.1" y="1164.4" width="11.1" height="11.5" fill="#0012f2"/>
<rect x="609.9" y="1164.4" width="32.8" height="11.5" fill="#0000c8"/>
<rect x="642.5" y="1164.4" width="11.1" height="11.5" fill="#0012f2"/>
<rect x="653.3" y="1164.4" width="11.1" height="11.5" fill="#007cff"/>
<rect x="664.2" y="1164.4" width="11.1" height="11.5" fill="#0000c8"/>
<rect x="685.9" y="1164.4" width="11.1" height="11.5" fill="#0000c8"/>
<rect x="219.3" y="1175.6" width="22.0" height="11.5" fill="#0044ff"/>
<rect x="241.0" y="1175.6" width="11.1" height="11.5" fill="#0012f2"/>
<rect x="251.9" y="1175.6" width="11.1" height="11.5" fill="#00d8ff"/>
<rect x="262.7" y="1175.6" width="11.1" height="11.5" fill="#007cff"/>
<rect x="273.6" y="1175.6" width="43.7" height="11.5" fill="#0044ff"/>
<rect x="317.0" y="1175.6" width="22.0" height="11.5" fill="#007cff"/>
<rect x="338.7" y="1175.6" width="22.0" height="11.5" fill="#0044ff"/>
<rect x="360.4" y="1175.6" width="32.8" height="11.5" fill="#0012f2"/>
<rect x="392.9" y="1175.6" width="32.8" height="11.5" fill="#0000c8"/>
<rect x="425.5" y="1175.6" width="11.1" height="11.5" fill="#007cff"/>
<rect x="436.3" y="1175.6" width="141.3" height="11.5" fill="#0012f2"/>
<rect x="577.4" y="1175.6" width="11.1" height="11.5" fill="#0044ff"/>
<rect x="588.2" y="1175.6" width="11.1" height="11.5" fill="#0012f2"/>
<rect x="599.1" y="1175.6" width="11.1" height="11.5" fill="#0044ff"/>
<rect x="609.9" y="1175.6" width="22.0" height="11.5" fill="#0012f2"/>
<rect x="631.6" y="1175.6" width="22.0" height="11.5" fill="#007cff"/>
<rect x="653.3" y="1175.6" width="11.1" height="11.5" fill="#0012f2"/>
<rect x="664.2" y="1175.6" width="11.1" height="11.5" fill="#0044ff"/>
<rect x="675.0" y="1175.6" width="11.1" height="11.5" fill="#0000c8"/>
<rect x="208.5" y="1186.8" width="22.0" height="11.5" fill="#0012f2"/>
<rect x="230.2" y="1186.8" width="11.1" height="11.5" fill="#0044ff"/>
<rect x="241.0" y="1186.8" width="11.1" height="11.5" fill="#000094"/>
<rect x="251.9" y="1186.8" width="11.1" height="11.5" fill="#00d8ff"/>
<rect x="262.7" y="1186.8" width="11.1" height="11.5" fill="#007cff"/>
<rect x="273.6" y="1186.8" width="43.7" height="11.5" fill="#0044ff"/>
<rect x="317.0" y="1186.8" width="22.0" height="11.5" fill="#007cff"/>
<rect x="338.7" y="1186.8" width="87.1" height="11.5" fill="#0012f2"/>
<rect x="425.5" y="1186.8" width="11.1" height="11.5" fill="#007cff"/>
<rect x="436.3" y="1186.8" width="11.1" height="11.5" fill="#0012f2"/>
<rect x="447.2" y="1186.8" width="22.0" height="11.5" fill="#0044ff"/>
<rect x="468.9" y="1186.8" width="11.1" height="11.5" fill="#0000c8"/>
<rect x="479.7" y="1186.8" width="22.0" height="11.5" fill="#0044ff"/>
<rect x="501.4" y="1186.8" width="76.2" height="11.5" fill="#0012f2"/>
<rect x="577.4" y="1186.8" width="11.1" height="11.5" fill="#007cff"/>
<rect x="588.2" y="1186.8" width="11.1" height="11.5" fill="#0000c8"/>
<rect x="599.1" y="1186.8" width="43.7" height="11.5" fill="#0012f2"/>
<rect x="642.5" y="1186.8" width="32.8" height="11.5" fill="#0044ff"/>
<rect x="675.0" y="1186.8" width="11.1" height="11.5" fill="#007cff"/>
<rect x="685.9" y="1186.8" width="11.1" height="11.5" fill="#0000c8"/>
<rect x="696.7" y="1186.8" width="11.1" height="11.5" fill="#0012f2"/>
<rect x="707.6" y="1186.8" width="11.1" height="11.5" fill="#007cff"/>
<rect x="729.3" y="1186.8" width="11.1" height="11.5" fill="#000094"/>
<rect x="230.2" y="1197.9" width="11.1" height="11.5" fill="#0044ff"/>
<rect x="241.0" y="1197.9" width="11.1" height="11.5" fill="#000094"/>
<rect x="251.9" y="1197.9" width="11.1" height="11.5" fill="#00d8ff"/>
<rect x="262.7" y="1197.9" width="22.0" height="11.5" fill="#007cff"/>
<rect x="284.4" y="1197.9" width="22.0" height="11.5" fill="#0044ff"/>
<rect x="306.1" y="1197.9" width="163.0" height="11.5" fill="#0012f2"/>
<rect x="468.9" y="1197.9" width="22.0" height="11.5" fill="#0044ff"/>
<rect x="490.6" y="1197.9" width="22.0" height="11.5" fill="#0012f2"/>
<rect x="512.3" y="1197.9" width="11.1" height="11.5" fill="#00b0ff"/>
<rect x="523.1" y="1197.9" width="11.1" height="11.5" fill="#007cff"/>
<rect x="534.0" y="1197.9" width="54.5" height="11.5" fill="#0012f2"/>
<rect x="588.2" y="1197.9" width="11.1" height="11.5" fill="#0044ff"/>
<rect x="599.1" y="1197.9" width="65.4" height="11.5" fill="#0012f2"/>
<rect x="664.2" y="1197.9" width="32.8" height="11.5" fill="#007cff"/>
<rect x="696.7" y="1197.9" width="11.1" height="11.5" fill="#0012f2"/>
<rect x="707.6" y="1197.9" width="11.1" height="11.5" fill="#007cff"/>
<rect x="718.4" y="1197.9" width="11.1" height="11.5" fill="#0044ff"/>
<rect x="729.3" y="1197.9" width="11.1" height="11.5" fill="#0000c8"/>
<rect x="740.1" y="1197.9" width="11.1" height="11.5" fill="#000094"/>
<rect x="751.0" y="1197.9" width="11.1" height="11.5" fill="#0000c8"/>
<rect x="230.2" y="1209.1" width="22.0" height="11.5" fill="#0000c8"/>
<rect x="251.9" y="1209.1" width="11.1" height="11.5" fill="#00d8ff"/>
<rect x="262.7" y="1209.1" width="11.1" height="11.5" fill="#00b0ff"/>
<rect x="273.6" y="1209.1" width="11.1" height="11.5" fill="#007cff"/>
<rect x="284.4" y="1209.1" width="22.0" height="11.5" fill="#0044ff"/>
<rect x="306.1" y="1209.1" width="97.9" height="11.5" fill="#0000c8"/>
<rect x="403.8" y="1209.1" width="11.1" height="11.5" fill="#0012f2"/>
<rect x="414.6" y="1209.1" width="43.7" height="11.5" fill="#0044ff"/>
<rect x="458.0" y="1209.1" width="43.7" height="11.5" fill="#0012f2"/>
<rect x="501.4" y="1209.1" width="11.1" height="11.5" fill="#0044ff"/>
<rect x="512.3" y="1209.1" width="11.1" height="11.5" fill="#00b0ff"/>
<rect x="523.1" y="1209.1" width="22.0" height="11.5" fill="#007cff"/>
<rect x="544.8" y="1209.1" width="11.1" height="11.5" fill="#0012f2"/>
<rect x="555.7" y="1209.1" width="11.1" height="11.5" fill="#0044ff"/>
<rect x="566.5" y="1209.1" width="11.1" height="11.5" fill="#0012f2"/>
<rect x="577.4" y="1209.1" width="11.1" height="11.5" fill="#0000c8"/>
<rect x="588.2" y="1209.1" width="11.1" height="11.5" fill="#0012f2"/>
<rect x="599.1" y="1209.1" width="32.8" height="11.5" fill="#0000c8"/>
<rect x="631.6" y="1209.1" width="11.1" height="11.5" fill="#0012f2"/>
<rect x="642.5" y="1209.1" width="11.1" height="11.5" fill="#0000c8"/>
<rect x="653.3" y="1209.1" width="11.1" height="11.5" fill="#0012f2"/>
<rect x="664.2" y="1209.1" width="32.8" height="11.5" fill="#0044ff"/>
<rect x="696.7" y="1209.1" width="22.0" height="11.5" fill="#007cff"/>
<rect x="718.4" y="1209.1" width="11.1" height="11.5" fill="#0044ff"/>
<rect x="729.3" y="1209.1" width="11.1" height="11.5" fill="#0000c8"/>
<rect x="740.1" y="1209.1" width="11.1" height="11.5" fill="#0012f2"/>
<rect x="751.0" y="1209.1" width="11.1" height="11.5" fill="#0044ff"/>
<rect x="772.7" y="1209.1" width="11.1" height="11.5" fill="#0012f2"/>
<rect x="805.2" y="1209.1" width="11.1" height="11.5" fill="#000094"/>
<rect x="251.9" y="1220.3" width="11.1" height="11.5" fill="#30ffd0"/>
<rect x="262.7" y="1220.3" width="11.1" height="11.5" fill="#00f4ff"/>
<rect x="273.6" y="1220.3" width="11.1" height="11.5" fill="#00b0ff"/>
<rect x="284.4" y="1220.3" width="22.0" height="11.5" fill="#007cff"/>
<rect x="306.1" y="1220.3" width="22.0" height="11.5" fill="#0012f2"/>
<rect x="327.8" y="1220.3" width="11.1" height="11.5" fill="#0044ff"/>
<rect x="338.7" y="1220.3" width="76.2" height="11.5" fill="#0000c8"/>
<rect x="414.6" y="1220.3" width="11.1" height="11.5" fill="#0044ff"/>
<rect x="425.5" y="1220.3" width="54.5" height="11.5" fill="#00b0ff"/>
<rect x="479.7" y="1220.3" width="11.1" height="11.5" fill="#00d8ff"/>
<rect x="490.6" y="1220.3" width="22.0" height="11.5" fill="#00b0ff"/>
<rect x="512.3" y="1220.3" width="32.8" height="11.5" fill="#00d8ff"/>
<rect x="544.8" y="1220.3" width="11.1" height="11.5" fill="#007cff"/>
<rect x="555.7" y="1220.3" width="43.7" height="11.5" fill="#0044ff"/>
<rect x="599.1" y="1220.3" width="11.1" height="11.5" fill="#007cff"/>
<rect x="609.9" y="1220.3" width="11.1" height="11.5" fill="#0012f2"/>
<rect x="620.8" y="1220.3" width="22.0" height="11.5" fill="#0044ff"/>
<rect x="642.5" y="1220.3" width="32.8" height="11.5" fill="#0012f2"/>
<rect x="675.0" y="1220.3" width="54.5" height="11.5" fill="#0000c8"/>
<rect x="729.3" y="1220.3" width="43.7" height="11.5" fill="#0012f2"/>
<rect x="772.7" y="1220.3" width="22.0" height="11.5" fill="#0044ff"/>
<rect x="805.2" y="1220.3" width="22.0" height="11.5" fill="#0012f2"/>
<rect x="848.6" y="1220.3" width="11.1" height="11.5" fill="#000094"/>
<rect x="870.3" y="1220.3" width="11.1" height="11.5" fill="#70ff90"/>
<rect x="892.0" y="1220.3" width="11.1" height="11.5" fill="#000094"/>
<rect x="924.6" y="1220.3" width="11.1" height="11.5" fill="#000094"/>
<rect x="1033.0" y="1220.3" width="11.1" height="11.5" fill="#000094"/>
<rect x="241.0" y="1231.5" width="11.1" height="11.5" fill="#00085a"/>
<rect x="251.9" y="1231.5" width="11.1" height="11.5" fill="#30ffd0"/>
<rect x="262.7" y="1231.5" width="11.1" height="11.5" fill="#00f4ff"/>
<rect x="273.6" y="1231.5" width="11.1" height="11.5" fill="#00b0ff"/>
<rect x="284.4" y="1231.5" width="11.1" height="11.5" fill="#007cff"/>
<rect x="295.3" y="1231.5" width="22.0" height="11.5" fill="#0012f2"/>
<rect x="317.0" y="1231.5" width="22.0" height="11.5" fill="#007cff"/>
<rect x="338.7" y="1231.5" width="22.0" height="11.5" fill="#0012f2"/>
<rect x="360.4" y="1231.5" width="43.7" height="11.5" fill="#0000c8"/>
<rect x="403.8" y="1231.5" width="22.0" height="11.5" fill="#0012f2"/>
<rect x="425.5" y="1231.5" width="11.1" height="11.5" fill="#00b0ff"/>
<rect x="436.3" y="1231.5" width="11.1" height="11.5" fill="#0044ff"/>
<rect x="447.2" y="1231.5" width="54.5" height="11.5" fill="#00b0ff"/>
<rect x="501.4" y="1231.5" width="11.1" height="11.5" fill="#00d8ff"/>
<rect x="512.3" y="1231.5" width="22.0" height="11.5" fill="#00b0ff"/>
<rect x="534.0" y="1231.5" width="11.1" height="11.5" fill="#00d8ff"/>
<rect x="544.8" y="1231.5" width="22.0" height="11.5" fill="#00b0ff"/>
<rect x="566.5" y="1231.5" width="32.8" height="11.5" fill="#0044ff"/>
<rect x="599.1" y="1231.5" width="11.1" height="11.5" fill="#0012f2"/>
<rect x="609.9" y="1231.5" width="22.0" height="11.5" fill="#0000c8"/>
<rect x="631.6" y="1231.5" width="22.0" height="11.5" fill="#0012f2"/>
<rect x="653.3" y="1231.5" width="11.1" height="11.5" fill="#0044ff"/>
<rect x="664.2" y="1231.5" width="65.4" height="11.5" fill="#0000c8"/>
<rect x="729.3" y="1231.5" width="11.1" height="11.5" fill="#007cff"/>
<rect x="740.1" y="1231.5" width="11.1" height="11.5" fill="#0044ff"/>
<rect x="751.0" y="1231.5" width="22.0" height="11.5" fill="#0012f2"/>
<rect x="772.7" y="1231.5" width="22.0" height="11.5" fill="#0044ff"/>
<rect x="794.4" y="1231.5" width="22.0" height="11.5" fill="#0012f2"/>
<rect x="816.1" y="1231.5" width="32.8" height="11.5" fill="#0000c8"/>
<rect x="870.3" y="1231.5" width="11.1" height="11.5" fill="#000094"/>
<rect x="881.2" y="1231.5" width="11.1" height="11.5" fill="#00b0ff"/>
<rect x="892.0" y="1231.5" width="11.1" height="11.5" fill="#0000c8"/>
<rect x="251.9" y="1242.7" width="11.1" height="11.5" fill="#00f4ff"/>
<rect x="262.7" y="1242.7" width="11.1" height="11.5" fill="#00d8ff"/>
<rect x="273.6" y="1242.7" width="22.0" height="11.5" fill="#0044ff"/>
<rect x="295.3" y="1242.7" width="11.1" height="11.5" fill="#007cff"/>
<rect x="306.1" y="1242.7" width="22.0" height="11.5" fill="#0044ff"/>
<rect x="327.8" y="1242.7" width="54.5" height="11.5" fill="#0012f2"/>
<rect x="382.1" y="1242.7" width="22.0" height="11.5" fill="#0000c8"/>
<rect x="403.8" y="1242.7" width="43.7" height="11.5" fill="#0044ff"/>
<rect x="447.2" y="1242.7" width="32.8" height="11.5" fill="#007cff"/>
<rect x="479.7" y="1242.7" width="11.1" height="11.5" fill="#00b0ff"/>
<rect x="490.6" y="1242.7" width="11.1" height="11.5" fill="#007cff"/>
<rect x="501.4" y="1242.7" width="11.1" height="11.5" fill="#00b0ff"/>
<rect x="512.3" y="1242.7" width="22.0" height="11.5" fill="#007cff"/>
<rect x="534.0" y="1242.7" width="11.1" height="11.5" fill="#00d8ff"/>
<rect x="544.8" y="1242.7" width="11.1" height="11.5" fill="#00b0ff"/>
<rect x="555.7" y="1242.7" width="11.1" height="11.5" fill="#007cff"/>
<rect x="566.5" y="1242.7" width="32.8" height="11.5" fill="#0044ff"/>
<rect x="599.1" y="1242.7" width="32.8" height="11.5" fill="#0012f2"/>
<rect x="631.6" y="1242.7" width="87.1" height="11.5" fill="#0000c8"/>
<rect x="718.4" y="1242.7" width="11.1" height="11.5" fill="#0044ff"/>
<rect x="729.3" y="1242.7" width="11.1" height="11.5" fill="#007cff"/>
<rect x="740.1" y="1242.7" width="32.8" height="11.5" fill="#0044ff"/>
<rect x="772.7" y="1242.7" width="54.5" height="11.5" fill="#0012f2"/>
<rect x="826.9" y="1242.7" width="22.0" height="11.5" fill="#0000c8"/>
<rect x="848.6" y="1242.7" width="11.1" height="11.5" fill="#007cff"/>
<rect x="859.5" y="1242.7" width="22.0" height="11.5" fill="#0000c8"/>
<rect x="902.9" y="1242.7" width="11.1" height="11.5" fill="#000094"/>
<rect x="946.3" y="1242.7" width="11.1" height="11.5" fill="#000094"/>
<rect x="968.0" y="1242.7" width="11.1" height="11.5" fill="#00085a"/>
<rect x="1022.2" y="1242.7" width="11.1" height="11.5" fill="#e8b040"/>
<rect x="1033.0" y="1242.7" width="11.1" height="11.5" fill="#00085a"/>
<rect x="1054.7" y="1242.7" width="11.1" height="11.5" fill="#007cff"/>
<rect x="1065.6" y="1242.7" width="11.1" height="11.5" fill="#0000c8"/>
<rect x="1076.4" y="1242.7" width="11.1" height="11.5" fill="#0044ff"/>
<rect x="1098.1" y="1242.7" width="43.7" height="11.5" fill="#0000c8"/>
<rect x="1141.5" y="1242.7" width="11.1" height="11.5" fill="#007cff"/>
<rect x="1152.4" y="1242.7" width="11.1" height="11.5" fill="#000094"/>
<rect x="251.9" y="1253.9" width="11.1" height="11.5" fill="#00d8ff"/>
<rect x="262.7" y="1253.9" width="32.8" height="11.5" fill="#0044ff"/>
<rect x="295.3" y="1253.9" width="11.1" height="11.5" fill="#007cff"/>
<rect x="306.1" y="1253.9" width="22.0" height="11.5" fill="#00b0ff"/>
<rect x="327.8" y="1253.9" width="11.1" height="11.5" fill="#007cff"/>
<rect x="338.7" y="1253.9" width="22.0" height="11.5" fill="#0012f2"/>
<rect x="360.4" y="1253.9" width="32.8" height="11.5" fill="#00b0ff"/>
<rect x="392.9" y="1253.9" width="43.7" height="11.5" fill="#0044ff"/>
<rect x="436.3" y="1253.9" width="22.0" height="11.5" fill="#00b0ff"/>
<rect x="458.0" y="1253.9" width="76.2" height="11.5" fill="#007cff"/>
<rect x="534.0" y="1253.9" width="32.8" height="11.5" fill="#00b0ff"/>
<rect x="566.5" y="1253.9" width="32.8" height="11.5" fill="#0044ff"/>
<rect x="599.1" y="1253.9" width="32.8" height="11.5" fill="#0012f2"/>
<rect x="631.6" y="1253.9" width="87.1" height="11.5" fill="#0000c8"/>
<rect x="718.4" y="1253.9" width="22.0" height="11.5" fill="#0012f2"/>
<rect x="740.1" y="1253.9" width="11.1" height="11.5" fill="#00b0ff"/>
<rect x="751.0" y="1253.9" width="32.8" height="11.5" fill="#0044ff"/>
<rect x="783.5" y="1253.9" width="11.1" height="11.5" fill="#0000c8"/>
<rect x="794.4" y="1253.9" width="11.1" height="11.5" fill="#0044ff"/>
<rect x="805.2" y="1253.9" width="22.0" height="11.5" fill="#0000c8"/>
<rect x="826.9" y="1253.9" width="11.1" height="11.5" fill="#00d8ff"/>
<rect x="837.8" y="1253.9" width="11.1" height="11.5" fill="#007cff"/>
<rect x="848.6" y="1253.9" width="76.2" height="11.5" fill="#0000c8"/>
<rect x="946.3" y="1253.9" width="11.1" height="11.5" fill="#000094"/>
<rect x="978.8" y="1253.9" width="11.1" height="11.5" fill="#007cff"/>
<rect x="1022.2" y="1253.9" width="11.1" height="11.5" fill="#0000c8"/>
<rect x="1043.9" y="1253.9" width="11.1" height="11.5" fill="#0000c8"/>
<rect x="1054.7" y="1253.9" width="11.1" height="11.5" fill="#000094"/>
<rect x="1065.6" y="1253.9" width="11.1" height="11.5" fill="#0000c8"/>
<rect x="1076.4" y="1253.9" width="11.1" height="11.5" fill="#0044ff"/>
<rect x="1087.3" y="1253.9" width="22.0" height="11.5" fill="#000094"/>
<rect x="1109.0" y="1253.9" width="32.8" height="11.5" fill="#0000c8"/>
<rect x="1152.4" y="1253.9" width="11.1" height="11.5" fill="#00f4ff"/>
<rect x="1163.2" y="1253.9" width="32.8" height="11.5" fill="#0044ff"/>
<rect x="251.9" y="1265.1" width="11.1" height="11.5" fill="#00b0ff"/>
<rect x="262.7" y="1265.1" width="22.0" height="11.5" fill="#0012f2"/>
<rect x="284.4" y="1265.1" width="11.1" height="11.5" fill="#0044ff"/>
<rect x="295.3" y="1265.1" width="22.0" height="11.5" fill="#00b0ff"/>
<rect x="317.0" y="1265.1" width="11.1" height="11.5" fill="#007cff"/>
<rect x="327.8" y="1265.1" width="11.1" height="11.5" fill="#00b0ff"/>
<rect x="338.7" y="1265.1" width="22.0" height="11.5" fill="#0044ff"/>
<rect x="360.4" y="1265.1" width="32.8" height="11.5" fill="#00b0ff"/>
<rect x="392.9" y="1265.1" width="11.1" height="11.5" fill="#0044ff"/>
<rect x="403.8" y="1265.1" width="11.1" height="11.5" fill="#0012f2"/>
<rect x="414.6" y="1265.1" width="11.1" height="11.5" fill="#0044ff"/>
<rect x="425.5" y="1265.1" width="22.0" height="11.5" fill="#0012f2"/>
<rect x="447.2" y="1265.1" width="54.5" height="11.5" fill="#007cff"/>
<rect x="501.4" y="1265.1" width="11.1" height="11.5" fill="#0044ff"/>
<rect x="512.3" y="1265.1" width="11.1" height="11.5" fill="#007cff"/>
<rect x="523.1" y="1265.1" width="11.1" height="11.5" fill="#0044ff"/>
<rect x="534.0" y="1265.1" width="32.8" height="11.5" fill="#00b0ff"/>
<rect x="566.5" y="1265.1" width="43.7" height="11.5" fill="#0044ff"/>
<rect x="609.9" y="1265.1" width="11.1" height="11.5" fill="#0000c8"/>
<rect x="620.8" y="1265.1" width="11.1" height="11.5" fill="#0044ff"/>
<rect x="631.6" y="1265.1" width="32.8" height="11.5" fill="#0012f2"/>
<rect x="664.2" y="1265.1" width="97.9" height="11.5" fill="#0000c8"/>
<rect x="761.8" y="1265.1" width="22.0" height="11.5" fill="#007cff"/>
<rect x="783.5" y="1265.1" width="11.1" height="11.5" fill="#0000c8"/>
<rect x="794.4" y="1265.1" width="11.1" height="11.5" fill="#0044ff"/>
<rect x="805.2" y="1265.1" width="22.0" height="11.5" fill="#0000c8"/>
<rect x="826.9" y="1265.1" width="11.1" height="11.5" fill="#00f4ff"/>
<rect x="837.8" y="1265.1" width="11.1" height="11.5" fill="#007cff"/>
<rect x="848.6" y="1265.1" width="11.1" height="11.5" fill="#0000c8"/>
<rect x="859.5" y="1265.1" width="22.0" height="11.5" fill="#000094"/>
<rect x="881.2" y="1265.1" width="11.1" height="11.5" fill="#0000c8"/>
<rect x="892.0" y="1265.1" width="11.1" height="11.5" fill="#0012f2"/>
<rect x="902.9" y="1265.1" width="11.1" height="11.5" fill="#0000c8"/>
<rect x="913.7" y="1265.1" width="22.0" height="11.5" fill="#0012f2"/>
<rect x="935.4" y="1265.1" width="22.0" height="11.5" fill="#0000c8"/>
<rect x="957.1" y="1265.1" width="32.8" height="11.5" fill="#000094"/>
<rect x="1011.3" y="1265.1" width="11.1" height="11.5" fill="#0012f2"/>
<rect x="1033.0" y="1265.1" width="32.8" height="11.5" fill="#0000c8"/>
<rect x="1065.6" y="1265.1" width="11.1" height="11.5" fill="#0044ff"/>
<rect x="1076.4" y="1265.1" width="11.1" height="11.5" fill="#000094"/>
<rect x="1098.1" y="1265.1" width="22.0" height="11.5" fill="#0012f2"/>
<rect x="1119.8" y="1265.1" width="22.0" height="11.5" fill="#000094"/>
<rect x="1141.5" y="1265.1" width="11.1" height="11.5" fill="#0000c8"/>
<rect x="1152.4" y="1265.1" width="11.1" height="11.5" fill="#000094"/>
<rect x="1163.2" y="1265.1" width="11.1" height="11.5" fill="#0000c8"/>
<rect x="1174.1" y="1265.1" width="11.1" height="11.5" fill="#0044ff"/>
<rect x="1184.9" y="1265.1" width="11.1" height="11.5" fill="#0012f2"/>
<rect x="1195.8" y="1265.1" width="11.1" height="11.5" fill="#000094"/>
<rect x="1206.6" y="1265.1" width="22.0" height="11.5" fill="#0000c8"/>
<rect x="1228.3" y="1265.1" width="32.8" height="11.5" fill="#000094"/>
<rect x="251.9" y="1276.3" width="32.8" height="11.5" fill="#007cff"/>
<rect x="284.4" y="1276.3" width="11.1" height="11.5" fill="#0012f2"/>
<rect x="295.3" y="1276.3" width="11.1" height="11.5" fill="#0044ff"/>
<rect x="306.1" y="1276.3" width="87.1" height="11.5" fill="#00b0ff"/>
<rect x="392.9" y="1276.3" width="32.8" height="11.5" fill="#007cff"/>
<rect x="425.5" y="1276.3" width="22.0" height="11.5" fill="#0012f2"/>
<rect x="447.2" y="1276.3" width="11.1" height="11.5" fill="#007cff"/>
<rect x="458.0" y="1276.3" width="11.1" height="11.5" fill="#0044ff"/>
<rect x="468.9" y="1276.3" width="11.1" height="11.5" fill="#00b0ff"/>
<rect x="479.7" y="1276.3" width="32.8" height="11.5" fill="#007cff"/>
<rect x="512.3" y="1276.3" width="11.1" height="11.5" fill="#0044ff"/>
<rect x="523.1" y="1276.3" width="54.5" height="11.5" fill="#007cff"/>
<rect x="577.4" y="1276.3" width="54.5" height="11.5" fill="#0044ff"/>
<rect x="631.6" y="1276.3" width="43.7" height="11.5" fill="#0012f2"/>
<rect x="675.0" y="1276.3" width="22.0" height="11.5" fill="#0044ff"/>
<rect x="696.7" y="1276.3" width="87.1" height="11.5" fill="#0000c8"/>
<rect x="783.5" y="1276.3" width="11.1" height="11.5" fill="#0012f2"/>
<rect x="794.4" y="1276.3" width="32.8" height="11.5" fill="#0000c8"/>
<rect x="826.9" y="1276.3" width="22.0" height="11.5" fill="#00f4ff"/>
<rect x="848.6" y="1276.3" width="11.1" height="11.5" fill="#00d8ff"/>
<rect x="859.5" y="1276.3" width="11.1" height="11.5" fill="#007cff"/>
<rect x="870.3" y="1276.3" width="11.1" height="11.5" fill="#00b0ff"/>
<rect x="881.2" y="1276.3" width="11.1" height="11.5" fill="#007cff"/>
<rect x="892.0" y="1276.3" width="11.1" height="11.5" fill="#0000c8"/>
<rect x="902.9" y="1276.3" width="11.1" height="11.5" fill="#0044ff"/>
<rect x="913.7" y="1276.3" width="11.1" height="11.5" fill="#0000c8"/>
<rect x="924.6" y="1276.3" width="11.1" height="11.5" fill="#0044ff"/>
<rect x="935.4" y="1276.3" width="22.0" height="11.5" fill="#0012f2"/>
<rect x="957.1" y="1276.3" width="22.0" height="11.5" fill="#007cff"/>
<rect x="978.8" y="1276.3" width="11.1" height="11.5" fill="#0044ff"/>
<rect x="989.6" y="1276.3" width="11.1" height="11.5" fill="#0000c8"/>
<rect x="1022.2" y="1276.3" width="11.1" height="11.5" fill="#0000c8"/>
<rect x="1033.0" y="1276.3" width="11.1" height="11.5" fill="#00b0ff"/>
<rect x="1043.9" y="1276.3" width="11.1" height="11.5" fill="#007cff"/>
<rect x="1054.7" y="1276.3" width="11.1" height="11.5" fill="#00d8ff"/>
<rect x="1065.6" y="1276.3" width="11.1" height="11.5" fill="#0000c8"/>
<rect x="1087.3" y="1276.3" width="11.1" height="11.5" fill="#0044ff"/>
<rect x="1098.1" y="1276.3" width="11.1" height="11.5" fill="#007cff"/>
<rect x="1109.0" y="1276.3" width="11.1" height="11.5" fill="#0000c8"/>
<rect x="1119.8" y="1276.3" width="11.1" height="11.5" fill="#00b0ff"/>
<rect x="1130.7" y="1276.3" width="32.8" height="11.5" fill="#0012f2"/>
<rect x="1163.2" y="1276.3" width="11.1" height="11.5" fill="#007cff"/>
<rect x="1174.1" y="1276.3" width="11.1" height="11.5" fill="#0012f2"/>
<rect x="1184.9" y="1276.3" width="22.0" height="11.5" fill="#0000c8"/>
<rect x="1206.6" y="1276.3" width="22.0" height="11.5" fill="#0012f2"/>
<rect x="1228.3" y="1276.3" width="11.1" height="11.5" fill="#0000c8"/>
<rect x="1239.2" y="1276.3" width="22.0" height="11.5" fill="#0012f2"/>
<rect x="1260.9" y="1276.3" width="11.1" height="11.5" fill="#000094"/>
<rect x="1271.7" y="1276.3" width="22.0" height="11.5" fill="#0012f2"/>
<rect x="251.9" y="1287.5" width="22.0" height="11.5" fill="#00d8ff"/>
<rect x="273.6" y="1287.5" width="11.1" height="11.5" fill="#0044ff"/>
<rect x="284.4" y="1287.5" width="11.1" height="11.5" fill="#00d8ff"/>
<rect x="295.3" y="1287.5" width="32.8" height="11.5" fill="#00b0ff"/>
<rect x="327.8" y="1287.5" width="32.8" height="11.5" fill="#00d8ff"/>
<rect x="360.4" y="1287.5" width="11.1" height="11.5" fill="#00b0ff"/>
<rect x="371.2" y="1287.5" width="11.1" height="11.5" fill="#007cff"/>
<rect x="382.1" y="1287.5" width="22.0" height="11.5" fill="#00b0ff"/>
<rect x="403.8" y="1287.5" width="11.1" height="11.5" fill="#007cff"/>
<rect x="414.6" y="1287.5" width="11.1" height="11.5" fill="#00b0ff"/>
<rect x="425.5" y="1287.5" width="11.1" height="11.5" fill="#0012f2"/>
<rect x="436.3" y="1287.5" width="11.1" height="11.5" fill="#007cff"/>
<rect x="447.2" y="1287.5" width="11.1" height="11.5" fill="#0044ff"/>
<rect x="458.0" y="1287.5" width="22.0" height="11.5" fill="#00b0ff"/>
<rect x="479.7" y="1287.5" width="54.5" height="11.5" fill="#007cff"/>
<rect x="534.0" y="1287.5" width="32.8" height="11.5" fill="#0012f2"/>
<rect x="566.5" y="1287.5" width="43.7" height="11.5" fill="#0044ff"/>
<rect x="609.9" y="1287.5" width="11.1" height="11.5" fill="#007cff"/>
<rect x="620.8" y="1287.5" width="32.8" height="11.5" fill="#0044ff"/>
<rect x="653.3" y="1287.5" width="11.1" height="11.5" fill="#007cff"/>
<rect x="664.2" y="1287.5" width="11.1" height="11.5" fill="#0044ff"/>
<rect x="675.0" y="1287.5" width="11.1" height="11.5" fill="#0012f2"/>
<rect x="685.9" y="1287.5" width="32.8" height="11.5" fill="#0000c8"/>
<rect x="718.4" y="1287.5" width="22.0" height="11.5" fill="#0012f2"/>
<rect x="740.1" y="1287.5" width="11.1" height="11.5" fill="#0044ff"/>
<rect x="751.0" y="1287.5" width="22.0" height="11.5" fill="#0000c8"/>
<rect x="772.7" y="1287.5" width="11.1" height="11.5" fill="#0044ff"/>
<rect x="783.5" y="1287.5" width="43.7" height="11.5" fill="#0000c8"/>
<rect x="826.9" y="1287.5" width="11.1" height="11.5" fill="#00b0ff"/>
<rect x="837.8" y="1287.5" width="22.0" height="11.5" fill="#00f4ff"/>
<rect x="859.5" y="1287.5" width="22.0" height="11.5" fill="#00b0ff"/>
<rect x="881.2" y="1287.5" width="54.5" height="11.5" fill="#0044ff"/>
<rect x="935.4" y="1287.5" width="11.1" height="11.5" fill="#00b0ff"/>
<rect x="946.3" y="1287.5" width="32.8" height="11.5" fill="#0044ff"/>
<rect x="978.8" y="1287.5" width="11.1" height="11.5" fill="#00b0ff"/>
<rect x="989.6" y="1287.5" width="11.1" height="11.5" fill="#0000c8"/>
<rect x="1000.5" y="1287.5" width="11.1" height="11.5" fill="#0044ff"/>
<rect x="1011.3" y="1287.5" width="11.1" height="11.5" fill="#0000c8"/>
<rect x="1022.2" y="1287.5" width="11.1" height="11.5" fill="#007cff"/>
<rect x="1033.0" y="1287.5" width="11.1" height="11.5" fill="#0012f2"/>
<rect x="1043.9" y="1287.5" width="22.0" height="11.5" fill="#007cff"/>
<rect x="1065.6" y="1287.5" width="11.1" height="11.5" fill="#0000c8"/>
<rect x="1076.4" y="1287.5" width="22.0" height="11.5" fill="#007cff"/>
<rect x="1098.1" y="1287.5" width="11.1" height="11.5" fill="#000094"/>
<rect x="1109.0" y="1287.5" width="11.1" height="11.5" fill="#00b0ff"/>
<rect x="1119.8" y="1287.5" width="11.1" height="11.5" fill="#0000c8"/>
<rect x="1130.7" y="1287.5" width="22.0" height="11.5" fill="#0044ff"/>
<rect x="1152.4" y="1287.5" width="22.0" height="11.5" fill="#0000c8"/>
<rect x="1174.1" y="1287.5" width="11.1" height="11.5" fill="#0044ff"/>
<rect x="1184.9" y="1287.5" width="11.1" height="11.5" fill="#007cff"/>
<rect x="1195.8" y="1287.5" width="11.1" height="11.5" fill="#0000c8"/>
<rect x="1206.6" y="1287.5" width="11.1" height="11.5" fill="#0044ff"/>
<rect x="1217.5" y="1287.5" width="11.1" height="11.5" fill="#007cff"/>
<rect x="1228.3" y="1287.5" width="11.1" height="11.5" fill="#00b0ff"/>
<rect x="1239.2" y="1287.5" width="11.1" height="11.5" fill="#0000c8"/>
<rect x="1250.0" y="1287.5" width="22.0" height="11.5" fill="#0012f2"/>
<rect x="1271.7" y="1287.5" width="11.1" height="11.5" fill="#0000c8"/>
<rect x="1282.6" y="1287.5" width="11.1" height="11.5" fill="#0044ff"/>
<rect x="1293.4" y="1287.5" width="11.1" height="11.5" fill="#e8b040"/>
<rect x="1304.3" y="1287.5" width="11.1" height="11.5" fill="#000094"/>
<rect x="251.9" y="1298.7" width="32.8" height="11.5" fill="#00d8ff"/>
<rect x="284.4" y="1298.7" width="11.1" height="11.5" fill="#00f4ff"/>
<rect x="295.3" y="1298.7" width="32.8" height="11.5" fill="#00b0ff"/>
<rect x="327.8" y="1298.7" width="32.8" height="11.5" fill="#00d8ff"/>
<rect x="360.4" y="1298.7" width="43.7" height="11.5" fill="#00b0ff"/>
<rect x="403.8" y="1298.7" width="22.0" height="11.5" fill="#007cff"/>
<rect x="425.5" y="1298.7" width="11.1" height="11.5" fill="#00b0ff"/>
<rect x="436.3" y="1298.7" width="11.1" height="11.5" fill="#007cff"/>
<rect x="447.2" y="1298.7" width="11.1" height="11.5" fill="#00b0ff"/>
<rect x="458.0" y="1298.7" width="87.1" height="11.5" fill="#007cff"/>
<rect x="544.8" y="1298.7" width="65.4" height="11.5" fill="#0044ff"/>
<rect x="609.9" y="1298.7" width="11.1" height="11.5" fill="#0000c8"/>
<rect x="620.8" y="1298.7" width="11.1" height="11.5" fill="#0044ff"/>
<rect x="631.6" y="1298.7" width="11.1" height="11.5" fill="#0000c8"/>
<rect x="642.5" y="1298.7" width="32.8" height="11.5" fill="#0044ff"/>
<rect x="675.0" y="1298.7" width="22.0" height="11.5" fill="#0000c8"/>
<rect x="696.7" y="1298.7" width="43.7" height="11.5" fill="#0012f2"/>
<rect x="740.1" y="1298.7" width="22.0" height="11.5" fill="#0000c8"/>
<rect x="761.8" y="1298.7" width="11.1" height="11.5" fill="#0012f2"/>
<rect x="772.7" y="1298.7" width="54.5" height="11.5" fill="#0000c8"/>
<rect x="826.9" y="1298.7" width="11.1" height="11.5" fill="#007cff"/>
<rect x="837.8" y="1298.7" width="22.0" height="11.5" fill="#00f4ff"/>
<rect x="859.5" y="1298.7" width="11.1" height="11.5" fill="#00d8ff"/>
<rect x="870.3" y="1298.7" width="11.1" height="11.5" fill="#00b0ff"/>
<rect x="881.2" y="1298.7" width="22.0" height="11.5" fill="#0044ff"/>
<rect x="902.9" y="1298.7" width="11.1" height="11.5" fill="#0000c8"/>
<rect x="913.7" y="1298.7" width="11.1" height="11.5" fill="#0012f2"/>
<rect x="924.6" y="1298.7" width="32.8" height="11.5" fill="#0000c8"/>
<rect x="957.1" y="1298.7" width="22.0" height="11.5" fill="#0044ff"/>
<rect x="978.8" y="1298.7" width="11.1" height="11.5" fill="#007cff"/>
<rect x="989.6" y="1298.7" width="32.8" height="11.5" fill="#0000c8"/>
<rect x="1022.2" y="1298.7" width="32.8" height="11.5" fill="#007cff"/>
<rect x="1054.7" y="1298.7" width="11.1" height="11.5" fill="#0044ff"/>
<rect x="1065.6" y="1298.7" width="11.1" height="11.5" fill="#00b0ff"/>
<rect x="1076.4" y="1298.7" width="11.1" height="11.5" fill="#0044ff"/>
<rect x="1087.3" y="1298.7" width="22.0" height="11.5" fill="#00b0ff"/>
<rect x="1109.0" y="1298.7" width="11.1" height="11.5" fill="#0012f2"/>
<rect x="1119.8" y="1298.7" width="11.1" height="11.5" fill="#0000c8"/>
<rect x="1130.7" y="1298.7" width="11.1" height="11.5" fill="#007cff"/>
<rect x="1141.5" y="1298.7" width="11.1" height="11.5" fill="#0044ff"/>
<rect x="1152.4" y="1298.7" width="11.1" height="11.5" fill="#0000c8"/>
<rect x="1163.2" y="1298.7" width="22.0" height="11.5" fill="#0012f2"/>
<rect x="1184.9" y="1298.7" width="11.1" height="11.5" fill="#0000c8"/>
<rect x="1195.8" y="1298.7" width="11.1" height="11.5" fill="#0012f2"/>
<rect x="1206.6" y="1298.7" width="22.0" height="11.5" fill="#007cff"/>
<rect x="1228.3" y="1298.7" width="11.1" height="11.5" fill="#00d8ff"/>
<rect x="1239.2" y="1298.7" width="11.1" height="11.5" fill="#007cff"/>
<rect x="1250.0" y="1298.7" width="11.1" height="11.5" fill="#0000c8"/>
<rect x="1260.9" y="1298.7" width="11.1" height="11.5" fill="#0044ff"/>
<rect x="1271.7" y="1298.7" width="11.1" height="11.5" fill="#0012f2"/>
<rect x="1282.6" y="1298.7" width="11.1" height="11.5" fill="#00d8ff"/>
<rect x="1293.4" y="1298.7" width="22.0" height="11.5" fill="#0012f2"/>
<rect x="1315.1" y="1298.7" width="11.1" height="11.5" fill="#000094"/>
<rect x="1326.0" y="1298.7" width="11.1" height="11.5" fill="#0000c8"/>
<rect x="251.9" y="1309.8" width="11.1" height="11.5" fill="#30ffd0"/>
<rect x="262.7" y="1309.8" width="11.1" height="11.5" fill="#00f4ff"/>
<rect x="273.6" y="1309.8" width="11.1" height="11.5" fill="#00d8ff"/>
<rect x="284.4" y="1309.8" width="11.1" height="11.5" fill="#30ffd0"/>
<rect x="295.3" y="1309.8" width="11.1" height="11.5" fill="#00d8ff"/>
<rect x="306.1" y="1309.8" width="11.1" height="11.5" fill="#00b0ff"/>
<rect x="317.0" y="1309.8" width="11.1" height="11.5" fill="#007cff"/>
<rect x="327.8" y="1309.8" width="32.8" height="11.5" fill="#00d8ff"/>
<rect x="360.4" y="1309.8" width="32.8" height="11.5" fill="#00f4ff"/>
<rect x="392.9" y="1309.8" width="43.7" height="11.5" fill="#00b0ff"/>
<rect x="436.3" y="1309.8" width="11.1" height="11.5" fill="#00f4ff"/>
<rect x="447.2" y="1309.8" width="43.7" height="11.5" fill="#00d8ff"/>
<rect x="490.6" y="1309.8" width="11.1" height="11.5" fill="#007cff"/>
<rect x="501.4" y="1309.8" width="11.1" height="11.5" fill="#00b0ff"/>
<rect x="512.3" y="1309.8" width="11.1" height="11.5" fill="#007cff"/>
<rect x="523.1" y="1309.8" width="11.1" height="11.5" fill="#00b0ff"/>
<rect x="534.0" y="1309.8" width="54.5" height="11.5" fill="#007cff"/>
<rect x="588.2" y="1309.8" width="65.4" height="11.5" fill="#0044ff"/>
<rect x="653.3" y="1309.8" width="11.1" height="11.5" fill="#007cff"/>
<rect x="664.2" y="1309.8" width="11.1" height="11.5" fill="#0000c8"/>
<rect x="675.0" y="1309.8" width="22.0" height="11.5" fill="#0012f2"/>
<rect x="696.7" y="1309.8" width="11.1" height="11.5" fill="#0044ff"/>
<rect x="707.6" y="1309.8" width="32.8" height="11.5" fill="#0012f2"/>
<rect x="740.1" y="1309.8" width="11.1" height="11.5" fill="#0044ff"/>
<rect x="751.0" y="1309.8" width="54.5" height="11.5" fill="#0000c8"/>
<rect x="805.2" y="1309.8" width="11.1" height="11.5" fill="#0012f2"/>
<rect x="816.1" y="1309.8" width="11.1" height="11.5" fill="#0000c8"/>
<rect x="826.9" y="1309.8" width="11.1" height="11.5" fill="#007cff"/>
<rect x="837.8" y="1309.8" width="11.1" height="11.5" fill="#0044ff"/>
<rect x="848.6" y="1309.8" width="11.1" height="11.5" fill="#007cff"/>
<rect x="859.5" y="1309.8" width="11.1" height="11.5" fill="#00d8ff"/>
<rect x="870.3" y="1309.8" width="22.0" height="11.5" fill="#0044ff"/>
<rect x="892.0" y="1309.8" width="32.8" height="11.5" fill="#0000c8"/>
<rect x="924.6" y="1309.8" width="22.0" height="11.5" fill="#0012f2"/>
<rect x="946.3" y="1309.8" width="32.8" height="11.5" fill="#0000c8"/>
<rect x="978.8" y="1309.8" width="54.5" height="11.5" fill="#0012f2"/>
<rect x="1033.0" y="1309.8" width="43.7" height="11.5" fill="#0000c8"/>
<rect x="1076.4" y="1309.8" width="54.5" height="11.5" fill="#00b0ff"/>
<rect x="1130.7" y="1309.8" width="22.0" height="11.5" fill="#0044ff"/>
<rect x="1152.4" y="1309.8" width="32.8" height="11.5" fill="#0000c8"/>
<rect x="1184.9" y="1309.8" width="11.1" height="11.5" fill="#0044ff"/>
<rect x="1195.8" y="1309.8" width="11.1" height="11.5" fill="#00b0ff"/>
<rect x="1206.6" y="1309.8" width="11.1" height="11.5" fill="#0012f2"/>
<rect x="1217.5" y="1309.8" width="11.1" height="11.5" fill="#007cff"/>
<rect x="1228.3" y="1309.8" width="22.0" height="11.5" fill="#0044ff"/>
<rect x="1250.0" y="1309.8" width="22.0" height="11.5" fill="#00b0ff"/>
<rect x="1271.7" y="1309.8" width="43.7" height="11.5" fill="#0044ff"/>
<rect x="1315.1" y="1309.8" width="22.0" height="11.5" fill="#007cff"/>
<rect x="1336.8" y="1309.8" width="11.1" height="11.5" fill="#0000c8"/>
<rect x="1347.7" y="1309.8" width="22.0" height="11.5" fill="#000094"/>
<rect x="1369.4" y="1309.8" width="11.1" height="11.5" fill="#0000c8"/>
<rect x="262.7" y="1321.0" width="11.1" height="11.5" fill="#000094"/>
<rect x="273.6" y="1321.0" width="11.1" height="11.5" fill="#30ffd0"/>
<rect x="284.4" y="1321.0" width="11.1" height="11.5" fill="#00f4ff"/>
<rect x="295.3" y="1321.0" width="11.1" height="11.5" fill="#00d8ff"/>
<rect x="306.1" y="1321.0" width="11.1" height="11.5" fill="#00b0ff"/>
<rect x="317.0" y="1321.0" width="22.0" height="11.5" fill="#007cff"/>
<rect x="338.7" y="1321.0" width="32.8" height="11.5" fill="#00b0ff"/>
<rect x="371.2" y="1321.0" width="22.0" height="11.5" fill="#00d8ff"/>
<rect x="392.9" y="1321.0" width="22.0" height="11.5" fill="#00b0ff"/>
<rect x="414.6" y="1321.0" width="11.1" height="11.5" fill="#30ffd0"/>
<rect x="425.5" y="1321.0" width="11.1" height="11.5" fill="#00d8ff"/>
<rect x="436.3" y="1321.0" width="22.0" height="11.5" fill="#00b0ff"/>
<rect x="458.0" y="1321.0" width="11.1" height="11.5" fill="#007cff"/>
<rect x="468.9" y="1321.0" width="65.4" height="11.5" fill="#00b0ff"/>
<rect x="534.0" y="1321.0" width="11.1" height="11.5" fill="#00d8ff"/>
<rect x="544.8" y="1321.0" width="32.8" height="11.5" fill="#007cff"/>
<rect x="577.4" y="1321.0" width="11.1" height="11.5" fill="#0012f2"/>
<rect x="588.2" y="1321.0" width="11.1" height="11.5" fill="#0044ff"/>
<rect x="599.1" y="1321.0" width="22.0" height="11.5" fill="#0012f2"/>
<rect x="620.8" y="1321.0" width="22.0" height="11.5" fill="#0044ff"/>
<rect x="642.5" y="1321.0" width="65.4" height="11.5" fill="#0012f2"/>
<rect x="707.6" y="1321.0" width="11.1" height="11.5" fill="#007cff"/>
<rect x="718.4" y="1321.0" width="11.1" height="11.5" fill="#0012f2"/>
<rect x="729.3" y="1321.0" width="11.1" height="11.5" fill="#007cff"/>
<rect x="740.1" y="1321.0" width="22.0" height="11.5" fill="#0012f2"/>
<rect x="761.8" y="1321.0" width="11.1" height="11.5" fill="#007cff"/>
<rect x="772.7" y="1321.0" width="22.0" height="11.5" fill="#0012f2"/>
<rect x="794.4" y="1321.0" width="11.1" height="11.5" fill="#0044ff"/>
<rect x="805.2" y="1321.0" width="11.1" height="11.5" fill="#0012f2"/>
<rect x="816.1" y="1321.0" width="22.0" height="11.5" fill="#0000c8"/>
<rect x="837.8" y="1321.0" width="11.1" height="11.5" fill="#0012f2"/>
<rect x="848.6" y="1321.0" width="11.1" height="11.5" fill="#0000c8"/>
<rect x="859.5" y="1321.0" width="22.0" height="11.5" fill="#00b0ff"/>
<rect x="881.2" y="1321.0" width="32.8" height="11.5" fill="#0012f2"/>
<rect x="913.7" y="1321.0" width="11.1" height="11.5" fill="#0044ff"/>
<rect x="924.6" y="1321.0" width="65.4" height="11.5" fill="#0012f2"/>
<rect x="989.6" y="1321.0" width="108.8" height="11.5" fill="#007cff"/>
<rect x="1098.1" y="1321.0" width="11.1" height="11.5" fill="#0012f2"/>
<rect x="1109.0" y="1321.0" width="22.0" height="11.5" fill="#007cff"/>
<rect x="1130.7" y="1321.0" width="22.0" height="11.5" fill="#00b0ff"/>
<rect x="1152.4" y="1321.0" width="11.1" height="11.5" fill="#00f4ff"/>
<rect x="1163.2" y="1321.0" width="43.7" height="11.5" fill="#007cff"/>
<rect x="1206.6" y="1321.0" width="11.1" height="11.5" fill="#00b0ff"/>
<rect x="1217.5" y="1321.0" width="11.1" height="11.5" fill="#0044ff"/>
<rect x="1228.3" y="1321.0" width="11.1" height="11.5" fill="#007cff"/>
<rect x="1239.2" y="1321.0" width="32.8" height="11.5" fill="#00b0ff"/>
<rect x="1271.7" y="1321.0" width="43.7" height="11.5" fill="#007cff"/>
<rect x="1315.1" y="1321.0" width="11.1" height="11.5" fill="#0044ff"/>
<rect x="1326.0" y="1321.0" width="11.1" height="11.5" fill="#007cff"/>
<rect x="1336.8" y="1321.0" width="11.1" height="11.5" fill="#0012f2"/>
<rect x="1347.7" y="1321.0" width="11.1" height="11.5" fill="#007cff"/>
<rect x="1358.5" y="1321.0" width="11.1" height="11.5" fill="#00d8ff"/>
<rect x="1369.4" y="1321.0" width="11.1" height="11.5" fill="#0044ff"/>
<rect x="1401.9" y="1321.0" width="11.1" height="11.5" fill="#000094"/>
<rect x="273.6" y="1332.2" width="11.1" height="11.5" fill="#30ffd0"/>
<rect x="284.4" y="1332.2" width="11.1" height="11.5" fill="#00f4ff"/>
<rect x="295.3" y="1332.2" width="11.1" height="11.5" fill="#00d8ff"/>
<rect x="306.1" y="1332.2" width="32.8" height="11.5" fill="#00b0ff"/>
<rect x="338.7" y="1332.2" width="11.1" height="11.5" fill="#007cff"/>
<rect x="349.5" y="1332.2" width="43.7" height="11.5" fill="#00b0ff"/>
<rect x="392.9" y="1332.2" width="11.1" height="11.5" fill="#00d8ff"/>
<rect x="403.8" y="1332.2" width="11.1" height="11.5" fill="#00b0ff"/>
<rect x="414.6" y="1332.2" width="22.0" height="11.5" fill="#00d8ff"/>
<rect x="436.3" y="1332.2" width="11.1" height="11.5" fill="#00f4ff"/>
<rect x="447.2" y="1332.2" width="32.8" height="11.5" fill="#00b0ff"/>
<rect x="479.7" y="1332.2" width="22.0" height="11.5" fill="#00d8ff"/>
<rect x="501.4" y="1332.2" width="32.8" height="11.5" fill="#00b0ff"/>
<rect x="534.0" y="1332.2" width="11.1" height="11.5" fill="#00f4ff"/>
<rect x="544.8" y="1332.2" width="32.8" height="11.5" fill="#007cff"/>
<rect x="577.4" y="1332.2" width="22.0" height="11.5" fill="#0044ff"/>
<rect x="599.1" y="1332.2" width="32.8" height="11.5" fill="#0012f2"/>
<rect x="631.6" y="1332.2" width="22.0" height="11.5" fill="#0000c8"/>
<rect x="653.3" y="1332.2" width="22.0" height="11.5" fill="#0012f2"/>
<rect x="675.0" y="1332.2" width="11.1" height="11.5" fill="#0044ff"/>
<rect x="685.9" y="1332.2" width="22.0" height="11.5" fill="#007cff"/>
<rect x="707.6" y="1332.2" width="65.4" height="11.5" fill="#0000c8"/>
<rect x="772.7" y="1332.2" width="11.1" height="11.5" fill="#0044ff"/>
<rect x="783.5" y="1332.2" width="76.2" height="11.5" fill="#0000c8"/>
<rect x="859.5" y="1332.2" width="11.1" height="11.5" fill="#0044ff"/>
<rect x="870.3" y="1332.2" width="22.0" height="11.5" fill="#0000c8"/>
<rect x="892.0" y="1332.2" width="11.1" height="11.5" fill="#0044ff"/>
<rect x="902.9" y="1332.2" width="22.0" height="11.5" fill="#0000c8"/>
<rect x="924.6" y="1332.2" width="43.7" height="11.5" fill="#0044ff"/>
<rect x="968.0" y="1332.2" width="11.1" height="11.5" fill="#0000c8"/>
<rect x="978.8" y="1332.2" width="11.1" height="11.5" fill="#0012f2"/>
<rect x="989.6" y="1332.2" width="32.8" height="11.5" fill="#007cff"/>
<rect x="1022.2" y="1332.2" width="11.1" height="11.5" fill="#0012f2"/>
<rect x="1033.0" y="1332.2" width="11.1" height="11.5" fill="#0044ff"/>
<rect x="1043.9" y="1332.2" width="11.1" height="11.5" fill="#0012f2"/>
<rect x="1054.7" y="1332.2" width="22.0" height="11.5" fill="#0044ff"/>
<rect x="1076.4" y="1332.2" width="22.0" height="11.5" fill="#007cff"/>
<rect x="1098.1" y="1332.2" width="11.1" height="11.5" fill="#00b0ff"/>
<rect x="1109.0" y="1332.2" width="11.1" height="11.5" fill="#0044ff"/>
<rect x="1119.8" y="1332.2" width="22.0" height="11.5" fill="#0012f2"/>
<rect x="1141.5" y="1332.2" width="11.1" height="11.5" fill="#0044ff"/>
<rect x="1152.4" y="1332.2" width="11.1" height="11.5" fill="#0012f2"/>
<rect x="1163.2" y="1332.2" width="32.8" height="11.5" fill="#0044ff"/>
<rect x="1195.8" y="1332.2" width="32.8" height="11.5" fill="#007cff"/>
<rect x="1228.3" y="1332.2" width="11.1" height="11.5" fill="#00b0ff"/>
<rect x="1239.2" y="1332.2" width="11.1" height="11.5" fill="#00f4ff"/>
<rect x="1250.0" y="1332.2" width="11.1" height="11.5" fill="#00b0ff"/>
<rect x="1260.9" y="1332.2" width="22.0" height="11.5" fill="#007cff"/>
<rect x="1282.6" y="1332.2" width="22.0" height="11.5" fill="#0044ff"/>
<rect x="1304.3" y="1332.2" width="22.0" height="11.5" fill="#007cff"/>
<rect x="1326.0" y="1332.2" width="11.1" height="11.5" fill="#0012f2"/>
<rect x="1336.8" y="1332.2" width="11.1" height="11.5" fill="#007cff"/>
<rect x="1347.7" y="1332.2" width="22.0" height="11.5" fill="#0012f2"/>
<rect x="1369.4" y="1332.2" width="11.1" height="11.5" fill="#00b0ff"/>
<rect x="1380.2" y="1332.2" width="22.0" height="11.5" fill="#0012f2"/>
<rect x="1401.9" y="1332.2" width="22.0" height="11.5" fill="#000094"/>
<rect x="262.7" y="1343.4" width="22.0" height="11.5" fill="#30ffd0"/>
<rect x="284.4" y="1343.4" width="11.1" height="11.5" fill="#00f4ff"/>
<rect x="295.3" y="1343.4" width="11.1" height="11.5" fill="#00d8ff"/>
<rect x="306.1" y="1343.4" width="22.0" height="11.5" fill="#00b0ff"/>
<rect x="327.8" y="1343.4" width="65.4" height="11.5" fill="#007cff"/>
<rect x="392.9" y="1343.4" width="11.1" height="11.5" fill="#0044ff"/>
<rect x="403.8" y="1343.4" width="11.1" height="11.5" fill="#007cff"/>
<rect x="414.6" y="1343.4" width="11.1" height="11.5" fill="#0044ff"/>
<rect x="425.5" y="1343.4" width="32.8" height="11.5" fill="#00d8ff"/>
<rect x="458.0" y="1343.4" width="11.1" height="11.5" fill="#00b0ff"/>
<rect x="468.9" y="1343.4" width="32.8" height="11.5" fill="#00f4ff"/>
<rect x="501.4" y="1343.4" width="11.1" height="11.5" fill="#007cff"/>
<rect x="512.3" y="1343.4" width="22.0" height="11.5" fill="#00d8ff"/>
<rect x="534.0" y="1343.4" width="11.1" height="11.5" fill="#00f4ff"/>
<rect x="544.8" y="1343.4" width="22.0" height="11.5" fill="#007cff"/>
<rect x="566.5" y="1343.4" width="11.1" height="11.5" fill="#00b0ff"/>
<rect x="577.4" y="1343.4" width="11.1" height="11.5" fill="#0044ff"/>
<rect x="588.2" y="1343.4" width="11.1" height="11.5" fill="#0000c8"/>
<rect x="599.1" y="1343.4" width="11.1" height="11.5" fill="#007cff"/>
<rect x="609.9" y="1343.4" width="11.1" height="11.5" fill="#00d8ff"/>
<rect x="620.8" y="1343.4" width="32.8" height="11.5" fill="#007cff"/>
<rect x="653.3" y="1343.4" width="11.1" height="11.5" fill="#0000c8"/>
<rect x="664.2" y="1343.4" width="11.1" height="11.5" fill="#0012f2"/>
<rect x="675.0" y="1343.4" width="11.1" height="11.5" fill="#0000c8"/>
<rect x="685.9" y="1343.4" width="11.1" height="11.5" fill="#0044ff"/>
<rect x="696.7" y="1343.4" width="11.1" height="11.5" fill="#0000c8"/>
<rect x="707.6" y="1343.4" width="22.0" height="11.5" fill="#0012f2"/>
<rect x="729.3" y="1343.4" width="43.7" height="11.5" fill="#0000c8"/>
<rect x="772.7" y="1343.4" width="11.1" height="11.5" fill="#0012f2"/>
<rect x="783.5" y="1343.4" width="32.8" height="11.5" fill="#0000c8"/>
<rect x="816.1" y="1343.4" width="11.1" height="11.5" fill="#0012f2"/>
<rect x="826.9" y="1343.4" width="32.8" height="11.5" fill="#0000c8"/>
<rect x="859.5" y="1343.4" width="32.8" height="11.5" fill="#0044ff"/>
<rect x="892.0" y="1343.4" width="43.7" height="11.5" fill="#0000c8"/>
<rect x="935.4" y="1343.4" width="11.1" height="11.5" fill="#00b0ff"/>
<rect x="946.3" y="1343.4" width="54.5" height="11.5" fill="#0000c8"/>
<rect x="1000.5" y="1343.4" width="43.7" height="11.5" fill="#0044ff"/>
<rect x="1043.9" y="1343.4" width="54.5" height="11.5" fill="#0012f2"/>
<rect x="1098.1" y="1343.4" width="22.0" height="11.5" fill="#0044ff"/>
<rect x="1119.8" y="1343.4" width="11.1" height="11.5" fill="#0012f2"/>
<rect x="1130.7" y="1343.4" width="54.5" height="11.5" fill="#0044ff"/>
<rect x="1184.9" y="1343.4" width="43.7" height="11.5" fill="#007cff"/>
<rect x="1228.3" y="1343.4" width="11.1" height="11.5" fill="#0044ff"/>
<rect x="1239.2" y="1343.4" width="22.0" height="11.5" fill="#00d8ff"/>
<rect x="1260.9" y="1343.4" width="65.4" height="11.5" fill="#007cff"/>
<rect x="1326.0" y="1343.4" width="11.1" height="11.5" fill="#0044ff"/>
<rect x="1336.8" y="1343.4" width="11.1" height="11.5" fill="#007cff"/>
<rect x="1347.7" y="1343.4" width="11.1" height="11.5" fill="#0044ff"/>
<rect x="1358.5" y="1343.4" width="11.1" height="11.5" fill="#0012f2"/>
<rect x="1369.4" y="1343.4" width="32.8" height="11.5" fill="#0044ff"/>
<rect x="1401.9" y="1343.4" width="11.1" height="11.5" fill="#007cff"/>
<rect x="262.7" y="1354.6" width="11.1" height="11.5" fill="#30ffd0"/>
<rect x="273.6" y="1354.6" width="11.1" height="11.5" fill="#00f4ff"/>
<rect x="284.4" y="1354.6" width="22.0" height="11.5" fill="#00d8ff"/>
<rect x="306.1" y="1354.6" width="22.0" height="11.5" fill="#00b0ff"/>
<rect x="327.8" y="1354.6" width="97.9" height="11.5" fill="#007cff"/>
<rect x="425.5" y="1354.6" width="11.1" height="11.5" fill="#00b0ff"/>
<rect x="436.3" y="1354.6" width="11.1" height="11.5" fill="#00d8ff"/>
<rect x="447.2" y="1354.6" width="54.5" height="11.5" fill="#00f4ff"/>
<rect x="501.4" y="1354.6" width="11.1" height="11.5" fill="#007cff"/>
<rect x="512.3" y="1354.6" width="11.1" height="11.5" fill="#00f4ff"/>
<rect x="523.1" y="1354.6" width="11.1" height="11.5" fill="#00b0ff"/>
<rect x="534.0" y="1354.6" width="11.1" height="11.5" fill="#00d8ff"/>
<rect x="544.8" y="1354.6" width="11.1" height="11.5" fill="#007cff"/>
<rect x="555.7" y="1354.6" width="11.1" height="11.5" fill="#00b0ff"/>
<rect x="566.5" y="1354.6" width="22.0" height="11.5" fill="#0044ff"/>
<rect x="588.2" y="1354.6" width="11.1" height="11.5" fill="#0012f2"/>
<rect x="599.1" y="1354.6" width="11.1" height="11.5" fill="#007cff"/>
<rect x="609.9" y="1354.6" width="11.1" height="11.5" fill="#00f4ff"/>
<rect x="620.8" y="1354.6" width="11.1" height="11.5" fill="#007cff"/>
<rect x="631.6" y="1354.6" width="22.0" height="11.5" fill="#0044ff"/>
<rect x="653.3" y="1354.6" width="22.0" height="11.5" fill="#0000c8"/>
<rect x="675.0" y="1354.6" width="54.5" height="11.5" fill="#0012f2"/>
<rect x="729.3" y="1354.6" width="22.0" height="11.5" fill="#0000c8"/>
<rect x="751.0" y="1354.6" width="11.1" height="11.5" fill="#00b0ff"/>
<rect x="761.8" y="1354.6" width="11.1" height="11.5" fill="#0012f2"/>
<rect x="772.7" y="1354.6" width="11.1" height="11.5" fill="#0044ff"/>
<rect x="783.5" y="1354.6" width="22.0" height="11.5" fill="#0000c8"/>
<rect x="805.2" y="1354.6" width="11.1" height="11.5" fill="#000094"/>
<rect x="816.1" y="1354.6" width="43.7" height="11.5" fill="#0012f2"/>
<rect x="859.5" y="1354.6" width="11.1" height="11.5" fill="#0044ff"/>
<rect x="870.3" y="1354.6" width="22.0" height="11.5" fill="#000094"/>
<rect x="892.0" y="1354.6" width="11.1" height="11.5" fill="#0012f2"/>
<rect x="902.9" y="1354.6" width="11.1" height="11.5" fill="#0000c8"/>
<rect x="913.7" y="1354.6" width="11.1" height="11.5" fill="#007cff"/>
<rect x="924.6" y="1354.6" width="11.1" height="11.5" fill="#0000c8"/>
<rect x="935.4" y="1354.6" width="11.1" height="11.5" fill="#00b0ff"/>
<rect x="946.3" y="1354.6" width="54.5" height="11.5" fill="#0000c8"/>
<rect x="1000.5" y="1354.6" width="22.0" height="11.5" fill="#0012f2"/>
<rect x="1022.2" y="1354.6" width="43.7" height="11.5" fill="#0044ff"/>
<rect x="1065.6" y="1354.6" width="11.1" height="11.5" fill="#007cff"/>
<rect x="1076.4" y="1354.6" width="22.0" height="11.5" fill="#0012f2"/>
<rect x="1098.1" y="1354.6" width="11.1" height="11.5" fill="#0044ff"/>
<rect x="1109.0" y="1354.6" width="22.0" height="11.5" fill="#0012f2"/>
<rect x="1130.7" y="1354.6" width="22.0" height="11.5" fill="#0044ff"/>
<rect x="1152.4" y="1354.6" width="11.1" height="11.5" fill="#0000c8"/>
<rect x="1163.2" y="1354.6" width="22.0" height="11.5" fill="#0044ff"/>
<rect x="1184.9" y="1354.6" width="11.1" height="11.5" fill="#0012f2"/>
<rect x="1195.8" y="1354.6" width="32.8" height="11.5" fill="#007cff"/>
<rect x="1228.3" y="1354.6" width="11.1" height="11.5" fill="#00f4ff"/>
<rect x="1239.2" y="1354.6" width="32.8" height="11.5" fill="#00b0ff"/>
<rect x="1271.7" y="1354.6" width="11.1" height="11.5" fill="#00d8ff"/>
<rect x="1282.6" y="1354.6" width="11.1" height="11.5" fill="#007cff"/>
<rect x="1293.4" y="1354.6" width="11.1" height="11.5" fill="#00b0ff"/>
<rect x="1304.3" y="1354.6" width="22.0" height="11.5" fill="#0044ff"/>
<rect x="1326.0" y="1354.6" width="11.1" height="11.5" fill="#00b0ff"/>
<rect x="1336.8" y="1354.6" width="11.1" height="11.5" fill="#007cff"/>
<rect x="1347.7" y="1354.6" width="43.7" height="11.5" fill="#0044ff"/>
<rect x="1391.1" y="1354.6" width="11.1" height="11.5" fill="#0012f2"/>
<rect x="1401.9" y="1354.6" width="11.1" height="11.5" fill="#007cff"/>
<rect x="1412.8" y="1354.6" width="22.0" height="11.5" fill="#0000c8"/>
<rect x="262.7" y="1365.8" width="11.1" height="11.5" fill="#00f4ff"/>
<rect x="273.6" y="1365.8" width="11.1" height="11.5" fill="#00b0ff"/>
<rect x="284.4" y="1365.8" width="32.8" height="11.5" fill="#00d8ff"/>
<rect x="317.0" y="1365.8" width="22.0" height="11.5" fill="#00b0ff"/>
<rect x="338.7" y="1365.8" width="54.5" height="11.5" fill="#007cff"/>
<rect x="392.9" y="1365.8" width="11.1" height="11.5" fill="#00b0ff"/>
<rect x="403.8" y="1365.8" width="32.8" height="11.5" fill="#007cff"/>
<rect x="436.3" y="1365.8" width="11.1" height="11.5" fill="#00b0ff"/>
<rect x="447.2" y="1365.8" width="11.1" height="11.5" fill="#00d8ff"/>
<rect x="458.0" y="1365.8" width="11.1" height="11.5" fill="#00b0ff"/>
<rect x="468.9" y="1365.8" width="11.1" height="11.5" fill="#00d8ff"/>
<rect x="479.7" y="1365.8" width="22.0" height="11.5" fill="#007cff"/>
<rect x="501.4" y="1365.8" width="11.1" height="11.5" fill="#00f4ff"/>
<rect x="512.3" y="1365.8" width="11.1" height="11.5" fill="#0000c8"/>
<rect x="523.1" y="1365.8" width="11.1" height="11.5" fill="#00d8ff"/>
<rect x="534.0" y="1365.8" width="11.1" height="11.5" fill="#0000c8"/>
<rect x="544.8" y="1365.8" width="22.0" height="11.5" fill="#007cff"/>
<rect x="566.5" y="1365.8" width="11.1" height="11.5" fill="#0000c8"/>
<rect x="577.4" y="1365.8" width="11.1" height="11.5" fill="#0044ff"/>
<rect x="588.2" y="1365.8" width="11.1" height="11.5" fill="#007cff"/>
<rect x="599.1" y="1365.8" width="11.1" height="11.5" fill="#0000c8"/>
<rect x="609.9" y="1365.8" width="11.1" height="11.5" fill="#00d8ff"/>
<rect x="620.8" y="1365.8" width="11.1" height="11.5" fill="#e8b040"/>
<rect x="631.6" y="1365.8" width="11.1" height="11.5" fill="#00b0ff"/>
<rect x="642.5" y="1365.8" width="11.1" height="11.5" fill="#0000c8"/>
<rect x="664.2" y="1365.8" width="11.1" height="11.5" fill="#0044ff"/>
<rect x="675.0" y="1365.8" width="11.1" height="11.5" fill="#000094"/>
<rect x="696.7" y="1365.8" width="22.0" height="11.5" fill="#0012f2"/>
<rect x="718.4" y="1365.8" width="11.1" height="11.5" fill="#0044ff"/>
<rect x="729.3" y="1365.8" width="22.0" height="11.5" fill="#0012f2"/>
<rect x="751.0" y="1365.8" width="11.1" height="11.5" fill="#00b0ff"/>
<rect x="761.8" y="1365.8" width="32.8" height="11.5" fill="#0000c8"/>
<rect x="794.4" y="1365.8" width="11.1" height="11.5" fill="#0012f2"/>
<rect x="816.1" y="1365.8" width="11.1" height="11.5" fill="#0000c8"/>
<rect x="826.9" y="1365.8" width="32.8" height="11.5" fill="#0012f2"/>
<rect x="859.5" y="1365.8" width="141.3" height="11.5" fill="#0000c8"/>
<rect x="1000.5" y="1365.8" width="43.7" height="11.5" fill="#0044ff"/>
<rect x="1043.9" y="1365.8" width="22.0" height="11.5" fill="#0012f2"/>
<rect x="1065.6" y="1365.8" width="11.1" height="11.5" fill="#007cff"/>
<rect x="1076.4" y="1365.8" width="22.0" height="11.5" fill="#0012f2"/>
<rect x="1098.1" y="1365.8" width="87.1" height="11.5" fill="#0044ff"/>
<rect x="1184.9" y="1365.8" width="54.5" height="11.5" fill="#007cff"/>
<rect x="1239.2" y="1365.8" width="11.1" height="11.5" fill="#0044ff"/>
<rect x="1250.0" y="1365.8" width="11.1" height="11.5" fill="#007cff"/>
<rect x="1260.9" y="1365.8" width="11.1" height="11.5" fill="#0044ff"/>
<rect x="1271.7" y="1365.8" width="11.1" height="11.5" fill="#007cff"/>
<rect x="1282.6" y="1365.8" width="22.0" height="11.5" fill="#0044ff"/>
<rect x="1304.3" y="1365.8" width="11.1" height="11.5" fill="#00b0ff"/>
<rect x="1315.1" y="1365.8" width="22.0" height="11.5" fill="#0044ff"/>
<rect x="1336.8" y="1365.8" width="22.0" height="11.5" fill="#007cff"/>
<rect x="1358.5" y="1365.8" width="11.1" height="11.5" fill="#0044ff"/>
<rect x="1369.4" y="1365.8" width="11.1" height="11.5" fill="#007cff"/>
<rect x="1380.2" y="1365.8" width="11.1" height="11.5" fill="#0044ff"/>
<rect x="1391.1" y="1365.8" width="11.1" height="11.5" fill="#007cff"/>
<rect x="1401.9" y="1365.8" width="11.1" height="11.5" fill="#0044ff"/>
<rect x="1412.8" y="1365.8" width="11.1" height="11.5" fill="#0012f2"/>
<rect x="1423.6" y="1365.8" width="11.1" height="11.5" fill="#0000c8"/>
<rect x="1434.5" y="1365.8" width="11.1" height="11.5" fill="#007cff"/>
<rect x="1445.3" y="1365.8" width="11.1" height="11.5" fill="#0012f2"/>
<rect x="251.9" y="1377.0" width="11.1" height="11.5" fill="#0000c8"/>
<rect x="262.7" y="1377.0" width="11.1" height="11.5" fill="#00f4ff"/>
<rect x="273.6" y="1377.0" width="43.7" height="11.5" fill="#30ffd0"/>
<rect x="317.0" y="1377.0" width="11.1" height="11.5" fill="#00d8ff"/>
<rect x="327.8" y="1377.0" width="11.1" height="11.5" fill="#00f4ff"/>
<rect x="338.7" y="1377.0" width="11.1" height="11.5" fill="#00d8ff"/>
<rect x="349.5" y="1377.0" width="32.8" height="11.5" fill="#007cff"/>
<rect x="382.1" y="1377.0" width="11.1" height="11.5" fill="#00b0ff"/>
<rect x="392.9" y="1377.0" width="11.1" height="11.5" fill="#00f4ff"/>
<rect x="403.8" y="1377.0" width="22.0" height="11.5" fill="#00b0ff"/>
<rect x="425.5" y="1377.0" width="32.8" height="11.5" fill="#007cff"/>
<rect x="458.0" y="1377.0" width="11.1" height="11.5" fill="#00b0ff"/>
<rect x="468.9" y="1377.0" width="11.1" height="11.5" fill="#007cff"/>
<rect x="479.7" y="1377.0" width="11.1" height="11.5" fill="#00d8ff"/>
<rect x="490.6" y="1377.0" width="54.5" height="11.5" fill="#0000c8"/>
<rect x="544.8" y="1377.0" width="11.1" height="11.5" fill="#0012f2"/>
<rect x="555.7" y="1377.0" width="11.1" height="11.5" fill="#00b0ff"/>
<rect x="577.4" y="1377.0" width="11.1" height="11.5" fill="#00d8ff"/>
<rect x="588.2" y="1377.0" width="11.1" height="11.5" fill="#30ffd0"/>
<rect x="599.1" y="1377.0" width="22.0" height="11.5" fill="#0000c8"/>
<rect x="620.8" y="1377.0" width="22.0" height="11.5" fill="#00b0ff"/>
<rect x="642.5" y="1377.0" width="11.1" height="11.5" fill="#0000c8"/>
<rect x="653.3" y="1377.0" width="11.1" height="11.5" fill="#0012f2"/>
<rect x="664.2" y="1377.0" width="22.0" height="11.5" fill="#0000c8"/>
<rect x="696.7" y="1377.0" width="87.1" height="11.5" fill="#0000c8"/>
<rect x="783.5" y="1377.0" width="11.1" height="11.5" fill="#007cff"/>
<rect x="794.4" y="1377.0" width="32.8" height="11.5" fill="#0000c8"/>
<rect x="826.9" y="1377.0" width="11.1" height="11.5" fill="#00b0ff"/>
<rect x="837.8" y="1377.0" width="22.0" height="11.5" fill="#0012f2"/>
<rect x="859.5" y="1377.0" width="11.1" height="11.5" fill="#0044ff"/>
<rect x="870.3" y="1377.0" width="11.1" height="11.5" fill="#0000c8"/>
<rect x="881.2" y="1377.0" width="11.1" height="11.5" fill="#007cff"/>
<rect x="892.0" y="1377.0" width="22.0" height="11.5" fill="#0044ff"/>
<rect x="913.7" y="1377.0" width="87.1" height="11.5" fill="#0000c8"/>
<rect x="1000.5" y="1377.0" width="11.1" height="11.5" fill="#000094"/>
<rect x="1011.3" y="1377.0" width="32.8" height="11.5" fill="#0044ff"/>
<rect x="1043.9" y="1377.0" width="43.7" height="11.5" fill="#0012f2"/>
<rect x="1087.3" y="1377.0" width="11.1" height="11.5" fill="#007cff"/>
<rect x="1098.1" y="1377.0" width="22.0" height="11.5" fill="#0044ff"/>
<rect x="1119.8" y="1377.0" width="11.1" height="11.5" fill="#0012f2"/>
<rect x="1130.7" y="1377.0" width="43.7" height="11.5" fill="#0044ff"/>
<rect x="1174.1" y="1377.0" width="11.1" height="11.5" fill="#00b0ff"/>
<rect x="1184.9" y="1377.0" width="22.0" height="11.5" fill="#0044ff"/>
<rect x="1206.6" y="1377.0" width="11.1" height="11.5" fill="#0012f2"/>
<rect x="1217.5" y="1377.0" width="11.1" height="11.5" fill="#007cff"/>
<rect x="1228.3" y="1377.0" width="76.2" height="11.5" fill="#0044ff"/>
<rect x="1304.3" y="1377.0" width="11.1" height="11.5" fill="#00b0ff"/>
<rect x="1315.1" y="1377.0" width="11.1" height="11.5" fill="#0044ff"/>
<rect x="1326.0" y="1377.0" width="11.1" height="11.5" fill="#007cff"/>
<rect x="1336.8" y="1377.0" width="11.1" height="11.5" fill="#0044ff"/>
<rect x="1347.7" y="1377.0" width="11.1" height="11.5" fill="#007cff"/>
<rect x="1358.5" y="1377.0" width="11.1" height="11.5" fill="#0044ff"/>
<rect x="1369.4" y="1377.0" width="11.1" height="11.5" fill="#0012f2"/>
<rect x="1380.2" y="1377.0" width="11.1" height="11.5" fill="#007cff"/>
<rect x="1391.1" y="1377.0" width="54.5" height="11.5" fill="#0012f2"/>
<rect x="1445.3" y="1377.0" width="11.1" height="11.5" fill="#0044ff"/>
<rect x="1456.2" y="1377.0" width="22.0" height="11.5" fill="#0000c8"/>
<rect x="262.7" y="1388.2" width="11.1" height="11.5" fill="#e8b040"/>
<rect x="273.6" y="1388.2" width="11.1" height="11.5" fill="#0044ff"/>
<rect x="284.4" y="1388.2" width="22.0" height="11.5" fill="#00b0ff"/>
<rect x="306.1" y="1388.2" width="32.8" height="11.5" fill="#00d8ff"/>
<rect x="338.7" y="1388.2" width="43.7" height="11.5" fill="#00b0ff"/>
<rect x="382.1" y="1388.2" width="32.8" height="11.5" fill="#00f4ff"/>
<rect x="414.6" y="1388.2" width="43.7" height="11.5" fill="#00b0ff"/>
<rect x="458.0" y="1388.2" width="22.0" height="11.5" fill="#007cff"/>
<rect x="479.7" y="1388.2" width="11.1" height="11.5" fill="#00d8ff"/>
<rect x="490.6" y="1388.2" width="11.1" height="11.5" fill="#70ff90"/>
<rect x="501.4" y="1388.2" width="32.8" height="11.5" fill="#0000c8"/>
<rect x="534.0" y="1388.2" width="11.1" height="11.5" fill="#007cff"/>
<rect x="544.8" y="1388.2" width="11.1" height="11.5" fill="#0000c8"/>
<rect x="566.5" y="1388.2" width="11.1" height="11.5" fill="#0012f2"/>
<rect x="599.1" y="1388.2" width="11.1" height="11.5" fill="#0044ff"/>
<rect x="631.6" y="1388.2" width="11.1" height="11.5" fill="#0000c8"/>
<rect x="653.3" y="1388.2" width="43.7" height="11.5" fill="#0000c8"/>
<rect x="696.7" y="1388.2" width="11.1" height="11.5" fill="#00b0ff"/>
<rect x="707.6" y="1388.2" width="22.0" height="11.5" fill="#0012f2"/>
<rect x="729.3" y="1388.2" width="11.1" height="11.5" fill="#007cff"/>
<rect x="751.0" y="1388.2" width="11.1" height="11.5" fill="#0000c8"/>
<rect x="761.8" y="1388.2" width="32.8" height="11.5" fill="#0012f2"/>
<rect x="794.4" y="1388.2" width="11.1" height="11.5" fill="#0000c8"/>
<rect x="805.2" y="1388.2" width="22.0" height="11.5" fill="#007cff"/>
<rect x="826.9" y="1388.2" width="32.8" height="11.5" fill="#0012f2"/>
<rect x="859.5" y="1388.2" width="11.1" height="11.5" fill="#0000c8"/>
<rect x="870.3" y="1388.2" width="11.1" height="11.5" fill="#00d8ff"/>
<rect x="881.2" y="1388.2" width="22.0" height="11.5" fill="#0000c8"/>
<rect x="902.9" y="1388.2" width="11.1" height="11.5" fill="#00f4ff"/>
<rect x="913.7" y="1388.2" width="22.0" height="11.5" fill="#0012f2"/>
<rect x="946.3" y="1388.2" width="22.0" height="11.5" fill="#0000c8"/>
<rect x="968.0" y="1388.2" width="22.0" height="11.5" fill="#007cff"/>
<rect x="989.6" y="1388.2" width="11.1" height="11.5" fill="#0000c8"/>
<rect x="1000.5" y="1388.2" width="32.8" height="11.5" fill="#0044ff"/>
<rect x="1033.0" y="1388.2" width="22.0" height="11.5" fill="#0012f2"/>
<rect x="1054.7" y="1388.2" width="11.1" height="11.5" fill="#0000c8"/>
<rect x="1065.6" y="1388.2" width="22.0" height="11.5" fill="#0012f2"/>
<rect x="1087.3" y="1388.2" width="11.1" height="11.5" fill="#007cff"/>
<rect x="1098.1" y="1388.2" width="22.0" height="11.5" fill="#0044ff"/>
<rect x="1119.8" y="1388.2" width="11.1" height="11.5" fill="#0012f2"/>
<rect x="1130.7" y="1388.2" width="22.0" height="11.5" fill="#0044ff"/>
<rect x="1152.4" y="1388.2" width="11.1" height="11.5" fill="#0000c8"/>
<rect x="1163.2" y="1388.2" width="11.1" height="11.5" fill="#0044ff"/>
<rect x="1174.1" y="1388.2" width="11.1" height="11.5" fill="#00b0ff"/>
<rect x="1184.9" y="1388.2" width="32.8" height="11.5" fill="#0044ff"/>
<rect x="1217.5" y="1388.2" width="22.0" height="11.5" fill="#007cff"/>
<rect x="1239.2" y="1388.2" width="11.1" height="11.5" fill="#0012f2"/>
<rect x="1250.0" y="1388.2" width="43.7" height="11.5" fill="#007cff"/>
<rect x="1293.4" y="1388.2" width="11.1" height="11.5" fill="#00b0ff"/>
<rect x="1304.3" y="1388.2" width="11.1" height="11.5" fill="#0012f2"/>
<rect x="1315.1" y="1388.2" width="54.5" height="11.5" fill="#007cff"/>
<rect x="1369.4" y="1388.2" width="11.1" height="11.5" fill="#0044ff"/>
<rect x="1380.2" y="1388.2" width="11.1" height="11.5" fill="#0012f2"/>
<rect x="1391.1" y="1388.2" width="11.1" height="11.5" fill="#0044ff"/>
<rect x="1401.9" y="1388.2" width="11.1" height="11.5" fill="#0012f2"/>
<rect x="1412.8" y="1388.2" width="11.1" height="11.5" fill="#0044ff"/>
<rect x="1423.6" y="1388.2" width="11.1" height="11.5" fill="#0012f2"/>
<rect x="1434.5" y="1388.2" width="11.1" height="11.5" fill="#0044ff"/>
<rect x="1445.3" y="1388.2" width="11.1" height="11.5" fill="#0000c8"/>
<rect x="1456.2" y="1388.2" width="11.1" height="11.5" fill="#0012f2"/>
<rect x="1467.0" y="1388.2" width="11.1" height="11.5" fill="#0000c8"/>
<rect x="1477.9" y="1388.2" width="11.1" height="11.5" fill="#0012f2"/>
<rect x="273.6" y="1399.4" width="11.1" height="11.5" fill="#000094"/>
<rect x="284.4" y="1399.4" width="11.1" height="11.5" fill="#007cff"/>
<rect x="295.3" y="1399.4" width="11.1" height="11.5" fill="#0000c8"/>
<rect x="306.1" y="1399.4" width="43.7" height="11.5" fill="#00f4ff"/>
<rect x="349.5" y="1399.4" width="11.1" height="11.5" fill="#00d8ff"/>
<rect x="360.4" y="1399.4" width="11.1" height="11.5" fill="#00f4ff"/>
<rect x="371.2" y="1399.4" width="11.1" height="11.5" fill="#00d8ff"/>
<rect x="382.1" y="1399.4" width="11.1" height="11.5" fill="#00f4ff"/>
<rect x="392.9" y="1399.4" width="22.0" height="11.5" fill="#00d8ff"/>
<rect x="414.6" y="1399.4" width="11.1" height="11.5" fill="#00f4ff"/>
<rect x="425.5" y="1399.4" width="11.1" height="11.5" fill="#00d8ff"/>
<rect x="436.3" y="1399.4" width="22.0" height="11.5" fill="#00f4ff"/>
<rect x="458.0" y="1399.4" width="11.1" height="11.5" fill="#00d8ff"/>
<rect x="468.9" y="1399.4" width="11.1" height="11.5" fill="#007cff"/>
<rect x="479.7" y="1399.4" width="11.1" height="11.5" fill="#00f4ff"/>
<rect x="490.6" y="1399.4" width="11.1" height="11.5" fill="#b0ff50"/>
<rect x="501.4" y="1399.4" width="11.1" height="11.5" fill="#0000c8"/>
<rect x="512.3" y="1399.4" width="11.1" height="11.5" fill="#00b0ff"/>
<rect x="523.1" y="1399.4" width="11.1" height="11.5" fill="#007cff"/>
<rect x="534.0" y="1399.4" width="11.1" height="11.5" fill="#00d8ff"/>
<rect x="544.8" y="1399.4" width="22.0" height="11.5" fill="#0000c8"/>
<rect x="566.5" y="1399.4" width="11.1" height="11.5" fill="#007cff"/>
<rect x="642.5" y="1399.4" width="11.1" height="11.5" fill="#000094"/>
<rect x="664.2" y="1399.4" width="54.5" height="11.5" fill="#0000c8"/>
<rect x="718.4" y="1399.4" width="11.1" height="11.5" fill="#007cff"/>
<rect x="761.8" y="1399.4" width="11.1" height="11.5" fill="#000094"/>
<rect x="772.7" y="1399.4" width="11.1" height="11.5" fill="#30ffd0"/>
<rect x="783.5" y="1399.4" width="11.1" height="11.5" fill="#0000c8"/>
<rect x="794.4" y="1399.4" width="11.1" height="11.5" fill="#00b0ff"/>
<rect x="805.2" y="1399.4" width="11.1" height="11.5" fill="#0012f2"/>
<rect x="816.1" y="1399.4" width="11.1" height="11.5" fill="#0000c8"/>
<rect x="826.9" y="1399.4" width="11.1" height="11.5" fill="#0012f2"/>
<rect x="837.8" y="1399.4" width="11.1" height="11.5" fill="#0000c8"/>
<rect x="848.6" y="1399.4" width="11.1" height="11.5" fill="#0044ff"/>
<rect x="859.5" y="1399.4" width="11.1" height="11.5" fill="#0000c8"/>
<rect x="870.3" y="1399.4" width="11.1" height="11.5" fill="#0012f2"/>
<rect x="881.2" y="1399.4" width="11.1" height="11.5" fill="#0000c8"/>
<rect x="892.0" y="1399.4" width="11.1" height="11.5" fill="#0044ff"/>
<rect x="902.9" y="1399.4" width="11.1" height="11.5" fill="#00f4ff"/>
<rect x="913.7" y="1399.4" width="22.0" height="11.5" fill="#0012f2"/>
<rect x="935.4" y="1399.4" width="43.7" height="11.5" fill="#0000c8"/>
<rect x="978.8" y="1399.4" width="11.1" height="11.5" fill="#00d8ff"/>
<rect x="989.6" y="1399.4" width="32.8" height="11.5" fill="#0012f2"/>
<rect x="1022.2" y="1399.4" width="11.1" height="11.5" fill="#0000c8"/>
<rect x="1033.0" y="1399.4" width="11.1" height="11.5" fill="#007cff"/>
<rect x="1043.9" y="1399.4" width="11.1" height="11.5" fill="#0044ff"/>
<rect x="1054.7" y="1399.4" width="11.1" height="11.5" fill="#007cff"/>
<rect x="1065.6" y="1399.4" width="11.1" height="11.5" fill="#0000c8"/>
<rect x="1076.4" y="1399.4" width="11.1" height="11.5" fill="#0012f2"/>
<rect x="1087.3" y="1399.4" width="11.1" height="11.5" fill="#0000c8"/>
<rect x="1098.1" y="1399.4" width="11.1" height="11.5" fill="#0044ff"/>
<rect x="1109.0" y="1399.4" width="11.1" height="11.5" fill="#007cff"/>
<rect x="1119.8" y="1399.4" width="11.1" height="11.5" fill="#0044ff"/>
<rect x="1130.7" y="1399.4" width="11.1" height="11.5" fill="#007cff"/>
<rect x="1141.5" y="1399.4" width="11.1" height="11.5" fill="#0044ff"/>
<rect x="1152.4" y="1399.4" width="11.1" height="11.5" fill="#007cff"/>
<rect x="1163.2" y="1399.4" width="11.1" height="11.5" fill="#0044ff"/>
<rect x="1174.1" y="1399.4" width="11.1" height="11.5" fill="#007cff"/>
<rect x="1184.9" y="1399.4" width="32.8" height="11.5" fill="#0012f2"/>
<rect x="1217.5" y="1399.4" width="11.1" height="11.5" fill="#007cff"/>
<rect x="1228.3" y="1399.4" width="43.7" height="11.5" fill="#0044ff"/>
<rect x="1271.7" y="1399.4" width="11.1" height="11.5" fill="#007cff"/>
<rect x="1282.6" y="1399.4" width="11.1" height="11.5" fill="#00b0ff"/>
<rect x="1293.4" y="1399.4" width="11.1" height="11.5" fill="#007cff"/>
<rect x="1304.3" y="1399.4" width="11.1" height="11.5" fill="#00b0ff"/>
<rect x="1315.1" y="1399.4" width="11.1" height="11.5" fill="#007cff"/>
<rect x="1326.0" y="1399.4" width="11.1" height="11.5" fill="#00b0ff"/>
<rect x="1336.8" y="1399.4" width="11.1" height="11.5" fill="#007cff"/>
<rect x="1347.7" y="1399.4" width="11.1" height="11.5" fill="#00b0ff"/>
<rect x="1358.5" y="1399.4" width="11.1" height="11.5" fill="#007cff"/>
<rect x="1369.4" y="1399.4" width="11.1" height="11.5" fill="#00b0ff"/>
<rect x="1380.2" y="1399.4" width="32.8" height="11.5" fill="#0044ff"/>
<rect x="1412.8" y="1399.4" width="22.0" height="11.5" fill="#0000c8"/>
<rect x="1434.5" y="1399.4" width="11.1" height="11.5" fill="#007cff"/>
<rect x="1445.3" y="1399.4" width="54.5" height="11.5" fill="#0000c8"/>
<rect x="1510.4" y="1399.4" width="11.1" height="11.5" fill="#70ff90"/>
<rect x="295.3" y="1410.6" width="11.1" height="11.5" fill="#70ff90"/>
<rect x="306.1" y="1410.6" width="54.5" height="11.5" fill="#00f4ff"/>
<rect x="360.4" y="1410.6" width="22.0" height="11.5" fill="#00b0ff"/>
<rect x="382.1" y="1410.6" width="11.1" height="11.5" fill="#00d8ff"/>
<rect x="392.9" y="1410.6" width="11.1" height="11.5" fill="#00b0ff"/>
<rect x="403.8" y="1410.6" width="65.4" height="11.5" fill="#00d8ff"/>
<rect x="468.9" y="1410.6" width="11.1" height="11.5" fill="#007cff"/>
<rect x="479.7" y="1410.6" width="11.1" height="11.5" fill="#00f4ff"/>
<rect x="490.6" y="1410.6" width="22.0" height="11.5" fill="#00b0ff"/>
<rect x="512.3" y="1410.6" width="11.1" height="11.5" fill="#00d8ff"/>
<rect x="523.1" y="1410.6" width="11.1" height="11.5" fill="#30ffd0"/>
<rect x="534.0" y="1410.6" width="11.1" height="11.5" fill="#000094"/>
<rect x="544.8" y="1410.6" width="11.1" height="11.5" fill="#0000c8"/>
<rect x="555.7" y="1410.6" width="11.1" height="11.5" fill="#70ff90"/>
<rect x="599.1" y="1410.6" width="11.1" height="11.5" fill="#0044ff"/>
<rect x="609.9" y="1410.6" width="11.1" height="11.5" fill="#000094"/>
<rect x="642.5" y="1410.6" width="11.1" height="11.5" fill="#000094"/>
<rect x="664.2" y="1410.6" width="54.5" height="11.5" fill="#0000c8"/>
<rect x="718.4" y="1410.6" width="11.1" height="11.5" fill="#30ffd0"/>
<rect x="751.0" y="1410.6" width="11.1" height="11.5" fill="#0000c8"/>
<rect x="761.8" y="1410.6" width="11.1" height="11.5" fill="#ff3000"/>
<rect x="772.7" y="1410.6" width="22.0" height="11.5" fill="#000094"/>
<rect x="794.4" y="1410.6" width="11.1" height="11.5" fill="#00b0ff"/>
<rect x="816.1" y="1410.6" width="43.7" height="11.5" fill="#0000c8"/>
<rect x="881.2" y="1410.6" width="22.0" height="11.5" fill="#0000c8"/>
<rect x="913.7" y="1410.6" width="11.1" height="11.5" fill="#0044ff"/>
<rect x="924.6" y="1410.6" width="11.1" height="11.5" fill="#00b0ff"/>
<rect x="935.4" y="1410.6" width="32.8" height="11.5" fill="#0000c8"/>
<rect x="968.0" y="1410.6" width="22.0" height="11.5" fill="#007cff"/>
<rect x="989.6" y="1410.6" width="11.1" height="11.5" fill="#0012f2"/>
<rect x="1000.5" y="1410.6" width="11.1" height="11.5" fill="#30ffd0"/>
<rect x="1011.3" y="1410.6" width="11.1" height="11.5" fill="#007cff"/>
<rect x="1022.2" y="1410.6" width="11.1" height="11.5" fill="#00d8ff"/>
<rect x="1033.0" y="1410.6" width="11.1" height="11.5" fill="#0012f2"/>
<rect x="1043.9" y="1410.6" width="11.1" height="11.5" fill="#0044ff"/>
<rect x="1054.7" y="1410.6" width="11.1" height="11.5" fill="#0012f2"/>
<rect x="1065.6" y="1410.6" width="11.1" height="11.5" fill="#0044ff"/>
<rect x="1076.4" y="1410.6" width="11.1" height="11.5" fill="#0012f2"/>
<rect x="1087.3" y="1410.6" width="11.1" height="11.5" fill="#0044ff"/>
<rect x="1098.1" y="1410.6" width="11.1" height="11.5" fill="#007cff"/>
<rect x="1109.0" y="1410.6" width="22.0" height="11.5" fill="#0044ff"/>
<rect x="1130.7" y="1410.6" width="11.1" height="11.5" fill="#00b0ff"/>
<rect x="1141.5" y="1410.6" width="43.7" height="11.5" fill="#007cff"/>
<rect x="1184.9" y="1410.6" width="11.1" height="11.5" fill="#0012f2"/>
<rect x="1195.8" y="1410.6" width="11.1" height="11.5" fill="#00b0ff"/>
<rect x="1206.6" y="1410.6" width="11.1" height="11.5" fill="#0044ff"/>
<rect x="1217.5" y="1410.6" width="11.1" height="11.5" fill="#00b0ff"/>
<rect x="1228.3" y="1410.6" width="11.1" height="11.5" fill="#0044ff"/>
<rect x="1239.2" y="1410.6" width="11.1" height="11.5" fill="#007cff"/>
<rect x="1250.0" y="1410.6" width="11.1" height="11.5" fill="#0044ff"/>
<rect x="1260.9" y="1410.6" width="11.1" height="11.5" fill="#007cff"/>
<rect x="1271.7" y="1410.6" width="11.1" height="11.5" fill="#0012f2"/>
<rect x="1282.6" y="1410.6" width="11.1" height="11.5" fill="#007cff"/>
<rect x="1293.4" y="1410.6" width="11.1" height="11.5" fill="#00b0ff"/>
<rect x="1304.3" y="1410.6" width="11.1" height="11.5" fill="#007cff"/>
<rect x="1315.1" y="1410.6" width="11.1" height="11.5" fill="#00b0ff"/>
<rect x="1326.0" y="1410.6" width="11.1" height="11.5" fill="#007cff"/>
<rect x="1336.8" y="1410.6" width="11.1" height="11.5" fill="#00b0ff"/>
<rect x="1347.7" y="1410.6" width="11.1" height="11.5" fill="#007cff"/>
<rect x="1358.5" y="1410.6" width="11.1" height="11.5" fill="#00b0ff"/>
<rect x="1369.4" y="1410.6" width="11.1" height="11.5" fill="#007cff"/>
<rect x="1380.2" y="1410.6" width="32.8" height="11.5" fill="#0044ff"/>
<rect x="1412.8" y="1410.6" width="11.1" height="11.5" fill="#30ffd0"/>
<rect x="1423.6" y="1410.6" width="32.8" height="11.5" fill="#0044ff"/>
<rect x="1456.2" y="1410.6" width="11.1" height="11.5" fill="#00d8ff"/>
<rect x="1467.0" y="1410.6" width="11.1" height="11.5" fill="#0012f2"/>
<rect x="1477.9" y="1410.6" width="43.7" height="11.5" fill="#0000c8"/>
<rect x="306.1" y="1421.7" width="11.1" height="11.5" fill="#007cff"/>
<rect x="317.0" y="1421.7" width="22.0" height="11.5" fill="#30ffd0"/>
<rect x="338.7" y="1421.7" width="11.1" height="11.5" fill="#00b0ff"/>
<rect x="349.5" y="1421.7" width="11.1" height="11.5" fill="#0044ff"/>
<rect x="360.4" y="1421.7" width="32.8" height="11.5" fill="#00b0ff"/>
<rect x="392.9" y="1421.7" width="11.1" height="11.5" fill="#00d8ff"/>
<rect x="403.8" y="1421.7" width="11.1" height="11.5" fill="#00b0ff"/>
<rect x="414.6" y="1421.7" width="11.1" height="11.5" fill="#00d8ff"/>
<rect x="425.5" y="1421.7" width="22.0" height="11.5" fill="#00b0ff"/>
<rect x="447.2" y="1421.7" width="54.5" height="11.5" fill="#00d8ff"/>
<rect x="501.4" y="1421.7" width="11.1" height="11.5" fill="#30ffd0"/>
<rect x="512.3" y="1421.7" width="11.1" height="11.5" fill="#0012f2"/>
<rect x="523.1" y="1421.7" width="11.1" height="11.5" fill="#70ff90"/>
<rect x="566.5" y="1421.7" width="11.1" height="11.5" fill="#000094"/>
<rect x="685.9" y="1421.7" width="11.1" height="11.5" fill="#000094"/>
<rect x="707.6" y="1421.7" width="11.1" height="11.5" fill="#0044ff"/>
<rect x="718.4" y="1421.7" width="22.0" height="11.5" fill="#000094"/>
<rect x="751.0" y="1421.7" width="11.1" height="11.5" fill="#0000c8"/>
<rect x="794.4" y="1421.7" width="11.1" height="11.5" fill="#00b0ff"/>
<rect x="826.9" y="1421.7" width="22.0" height="11.5" fill="#0000c8"/>
<rect x="859.5" y="1421.7" width="32.8" height="11.5" fill="#0000c8"/>
<rect x="892.0" y="1421.7" width="11.1" height="11.5" fill="#0044ff"/>
<rect x="902.9" y="1421.7" width="11.1" height="11.5" fill="#007cff"/>
<rect x="913.7" y="1421.7" width="11.1" height="11.5" fill="#0044ff"/>
<rect x="924.6" y="1421.7" width="11.1" height="11.5" fill="#0012f2"/>
<rect x="935.4" y="1421.7" width="11.1" height="11.5" fill="#007cff"/>
<rect x="946.3" y="1421.7" width="11.1" height="11.5" fill="#0044ff"/>
<rect x="957.1" y="1421.7" width="11.1" height="11.5" fill="#007cff"/>
<rect x="968.0" y="1421.7" width="32.8" height="11.5" fill="#0000c8"/>
<rect x="1000.5" y="1421.7" width="22.0" height="11.5" fill="#0044ff"/>
<rect x="1022.2" y="1421.7" width="11.1" height="11.5" fill="#00d8ff"/>
<rect x="1033.0" y="1421.7" width="11.1" height="11.5" fill="#0012f2"/>
<rect x="1043.9" y="1421.7" width="11.1" height="11.5" fill="#00d8ff"/>
<rect x="1054.7" y="1421.7" width="11.1" height="11.5" fill="#0044ff"/>
<rect x="1065.6" y="1421.7" width="11.1" height="11.5" fill="#30ffd0"/>
<rect x="1076.4" y="1421.7" width="11.1" height="11.5" fill="#000094"/>
<rect x="1087.3" y="1421.7" width="11.1" height="11.5" fill="#0044ff"/>
<rect x="1098.1" y="1421.7" width="11.1" height="11.5" fill="#00d8ff"/>
<rect x="1109.0" y="1421.7" width="11.1" height="11.5" fill="#0044ff"/>
<rect x="1119.8" y="1421.7" width="11.1" height="11.5" fill="#007cff"/>
<rect x="1130.7" y="1421.7" width="11.1" height="11.5" fill="#0044ff"/>
<rect x="1141.5" y="1421.7" width="11.1" height="11.5" fill="#007cff"/>
<rect x="1152.4" y="1421.7" width="11.1" height="11.5" fill="#0044ff"/>
<rect x="1163.2" y="1421.7" width="11.1" height="11.5" fill="#007cff"/>
<rect x="1174.1" y="1421.7" width="11.1" height="11.5" fill="#0044ff"/>
<rect x="1184.9" y="1421.7" width="11.1" height="11.5" fill="#0012f2"/>
<rect x="1195.8" y="1421.7" width="11.1" height="11.5" fill="#0000c8"/>
<rect x="1206.6" y="1421.7" width="11.1" height="11.5" fill="#0012f2"/>
<rect x="1217.5" y="1421.7" width="11.1" height="11.5" fill="#0000c8"/>
<rect x="1228.3" y="1421.7" width="43.7" height="11.5" fill="#0044ff"/>
<rect x="1271.7" y="1421.7" width="11.1" height="11.5" fill="#007cff"/>
<rect x="1282.6" y="1421.7" width="11.1" height="11.5" fill="#00b0ff"/>
<rect x="1293.4" y="1421.7" width="11.1" height="11.5" fill="#007cff"/>
<rect x="1304.3" y="1421.7" width="11.1" height="11.5" fill="#00b0ff"/>
<rect x="1315.1" y="1421.7" width="11.1" height="11.5" fill="#007cff"/>
<rect x="1326.0" y="1421.7" width="11.1" height="11.5" fill="#0044ff"/>
<rect x="1336.8" y="1421.7" width="11.1" height="11.5" fill="#007cff"/>
<rect x="1347.7" y="1421.7" width="11.1" height="11.5" fill="#0044ff"/>
<rect x="1358.5" y="1421.7" width="11.1" height="11.5" fill="#007cff"/>
<rect x="1369.4" y="1421.7" width="11.1" height="11.5" fill="#0044ff"/>
<rect x="1380.2" y="1421.7" width="11.1" height="11.5" fill="#007cff"/>
<rect x="1391.1" y="1421.7" width="54.5" height="11.5" fill="#0044ff"/>
<rect x="1445.3" y="1421.7" width="11.1" height="11.5" fill="#0012f2"/>
<rect x="1456.2" y="1421.7" width="43.7" height="11.5" fill="#0000c8"/>
<rect x="1499.6" y="1421.7" width="11.1" height="11.5" fill="#0044ff"/>
<rect x="1510.4" y="1421.7" width="11.1" height="11.5" fill="#00f4ff"/>
<rect x="1521.3" y="1421.7" width="11.1" height="11.5" fill="#0000c8"/>
<rect x="1532.1" y="1421.7" width="11.1" height="11.5" fill="#0012f2"/>
<rect x="338.7" y="1432.9" width="11.1" height="11.5" fill="#0000c8"/>
<rect x="349.5" y="1432.9" width="32.8" height="11.5" fill="#0044ff"/>
<rect x="382.1" y="1432.9" width="43.7" height="11.5" fill="#00b0ff"/>
<rect x="425.5" y="1432.9" width="11.1" height="11.5" fill="#00d8ff"/>
<rect x="436.3" y="1432.9" width="11.1" height="11.5" fill="#00b0ff"/>
<rect x="447.2" y="1432.9" width="22.0" height="11.5" fill="#00f4ff"/>
<rect x="468.9" y="1432.9" width="11.1" height="11.5" fill="#00b0ff"/>
<rect x="479.7" y="1432.9" width="11.1" height="11.5" fill="#30ffd0"/>
<rect x="490.6" y="1432.9" width="22.0" height="11.5" fill="#00d8ff"/>
<rect x="512.3" y="1432.9" width="11.1" height="11.5" fill="#007cff"/>
<rect x="675.0" y="1432.9" width="11.1" height="11.5" fill="#0044ff"/>
<rect x="696.7" y="1432.9" width="11.1" height="11.5" fill="#000094"/>
<rect x="718.4" y="1432.9" width="22.0" height="11.5" fill="#0000c8"/>
<rect x="751.0" y="1432.9" width="11.1" height="11.5" fill="#0012f2"/>
<rect x="772.7" y="1432.9" width="11.1" height="11.5" fill="#000094"/>
<rect x="805.2" y="1432.9" width="11.1" height="11.5" fill="#000094"/>
<rect x="848.6" y="1432.9" width="11.1" height="11.5" fill="#000094"/>
<rect x="881.2" y="1432.9" width="11.1" height="11.5" fill="#0044ff"/>
<rect x="892.0" y="1432.9" width="11.1" height="11.5" fill="#007cff"/>
<rect x="902.9" y="1432.9" width="11.1" height="11.5" fill="#0044ff"/>
<rect x="913.7" y="1432.9" width="22.0" height="11.5" fill="#0000c8"/>
<rect x="935.4" y="1432.9" width="11.1" height="11.5" fill="#0044ff"/>
<rect x="946.3" y="1432.9" width="11.1" height="11.5" fill="#007cff"/>
<rect x="957.1" y="1432.9" width="11.1" height="11.5" fill="#00b0ff"/>
<rect x="968.0" y="1432.9" width="22.0" height="11.5" fill="#0000c8"/>
<rect x="989.6" y="1432.9" width="11.1" height="11.5" fill="#00b0ff"/>
<rect x="1000.5" y="1432.9" width="11.1" height="11.5" fill="#0000c8"/>
<rect x="1011.3" y="1432.9" width="32.8" height="11.5" fill="#0044ff"/>
<rect x="1043.9" y="1432.9" width="11.1" height="11.5" fill="#00d8ff"/>
<rect x="1054.7" y="1432.9" width="11.1" height="11.5" fill="#0044ff"/>
<rect x="1065.6" y="1432.9" width="11.1" height="11.5" fill="#00d8ff"/>
<rect x="1076.4" y="1432.9" width="11.1" height="11.5" fill="#0044ff"/>
<rect x="1087.3" y="1432.9" width="22.0" height="11.5" fill="#0000c8"/>
<rect x="1109.0" y="1432.9" width="43.7" height="11.5" fill="#0044ff"/>
<rect x="1152.4" y="1432.9" width="11.1" height="11.5" fill="#007cff"/>
<rect x="1163.2" y="1432.9" width="11.1" height="11.5" fill="#00b0ff"/>
<rect x="1174.1" y="1432.9" width="11.1" height="11.5" fill="#0044ff"/>
<rect x="1184.9" y="1432.9" width="32.8" height="11.5" fill="#007cff"/>
<rect x="1217.5" y="1432.9" width="11.1" height="11.5" fill="#0012f2"/>
<rect x="1228.3" y="1432.9" width="11.1" height="11.5" fill="#0044ff"/>
<rect x="1239.2" y="1432.9" width="11.1" height="11.5" fill="#0000c8"/>
<rect x="1250.0" y="1432.9" width="11.1" height="11.5" fill="#0012f2"/>
<rect x="1260.9" y="1432.9" width="11.1" height="11.5" fill="#0000c8"/>
<rect x="1271.7" y="1432.9" width="11.1" height="11.5" fill="#00b0ff"/>
<rect x="1282.6" y="1432.9" width="11.1" height="11.5" fill="#0044ff"/>
<rect x="1293.4" y="1432.9" width="11.1" height="11.5" fill="#007cff"/>
<rect x="1304.3" y="1432.9" width="11.1" height="11.5" fill="#0044ff"/>
<rect x="1315.1" y="1432.9" width="11.1" height="11.5" fill="#007cff"/>
<rect x="1326.0" y="1432.9" width="11.1" height="11.5" fill="#0044ff"/>
<rect x="1336.8" y="1432.9" width="11.1" height="11.5" fill="#007cff"/>
<rect x="1347.7" y="1432.9" width="32.8" height="11.5" fill="#00d8ff"/>
<rect x="1380.2" y="1432.9" width="54.5" height="11.5" fill="#007cff"/>
<rect x="1434.5" y="1432.9" width="22.0" height="11.5" fill="#0000c8"/>
<rect x="1456.2" y="1432.9" width="11.1" height="11.5" fill="#007cff"/>
<rect x="1467.0" y="1432.9" width="11.1" height="11.5" fill="#00b0ff"/>
<rect x="1477.9" y="1432.9" width="11.1" height="11.5" fill="#0000c8"/>
<rect x="1488.7" y="1432.9" width="11.1" height="11.5" fill="#0044ff"/>
<rect x="1499.6" y="1432.9" width="11.1" height="11.5" fill="#0000c8"/>
<rect x="1510.4" y="1432.9" width="11.1" height="11.5" fill="#00d8ff"/>
<rect x="1521.3" y="1432.9" width="11.1" height="11.5" fill="#0044ff"/>
<rect x="349.5" y="1444.1" width="22.0" height="11.5" fill="#0012f2"/>
<rect x="371.2" y="1444.1" width="11.1" height="11.5" fill="#007cff"/>
<rect x="382.1" y="1444.1" width="22.0" height="11.5" fill="#000094"/>
<rect x="414.6" y="1444.1" width="11.1" height="11.5" fill="#007cff"/>
<rect x="425.5" y="1444.1" width="11.1" height="11.5" fill="#0012f2"/>
<rect x="436.3" y="1444.1" width="22.0" height="11.5" fill="#00b0ff"/>
<rect x="458.0" y="1444.1" width="11.1" height="11.5" fill="#0044ff"/>
<rect x="468.9" y="1444.1" width="11.1" height="11.5" fill="#0000c8"/>
<rect x="479.7" y="1444.1" width="11.1" height="11.5" fill="#0044ff"/>
<rect x="523.1" y="1444.1" width="11.1" height="11.5" fill="#0044ff"/>
<rect x="718.4" y="1444.1" width="11.1" height="11.5" fill="#0000c8"/>
<rect x="740.1" y="1444.1" width="11.1" height="11.5" fill="#0000c8"/>
<rect x="772.7" y="1444.1" width="11.1" height="11.5" fill="#000094"/>
<rect x="913.7" y="1444.1" width="11.1" height="11.5" fill="#0044ff"/>
<rect x="924.6" y="1444.1" width="11.1" height="11.5" fill="#007cff"/>
<rect x="946.3" y="1444.1" width="32.8" height="11.5" fill="#0000c8"/>
<rect x="978.8" y="1444.1" width="11.1" height="11.5" fill="#00d8ff"/>
<rect x="989.6" y="1444.1" width="11.1" height="11.5" fill="#007cff"/>
<rect x="1000.5" y="1444.1" width="11.1" height="11.5" fill="#0000c8"/>
<rect x="1011.3" y="1444.1" width="22.0" height="11.5" fill="#007cff"/>
<rect x="1033.0" y="1444.1" width="11.1" height="11.5" fill="#0000c8"/>
<rect x="1043.9" y="1444.1" width="11.1" height="11.5" fill="#0044ff"/>
<rect x="1054.7" y="1444.1" width="11.1" height="11.5" fill="#00b0ff"/>
<rect x="1065.6" y="1444.1" width="11.1" height="11.5" fill="#00d8ff"/>
<rect x="1087.3" y="1444.1" width="22.0" height="11.5" fill="#0000c8"/>
<rect x="1119.8" y="1444.1" width="11.1" height="11.5" fill="#00f4ff"/>
<rect x="1141.5" y="1444.1" width="11.1" height="11.5" fill="#70ff90"/>
<rect x="1152.4" y="1444.1" width="11.1" height="11.5" fill="#0012f2"/>
<rect x="1163.2" y="1444.1" width="22.0" height="11.5" fill="#0044ff"/>
<rect x="1184.9" y="1444.1" width="11.1" height="11.5" fill="#0000c8"/>
<rect x="1195.8" y="1444.1" width="11.1" height="11.5" fill="#0044ff"/>
<rect x="1206.6" y="1444.1" width="11.1" height="11.5" fill="#007cff"/>
<rect x="1217.5" y="1444.1" width="11.1" height="11.5" fill="#0044ff"/>
<rect x="1228.3" y="1444.1" width="11.1" height="11.5" fill="#007cff"/>
<rect x="1239.2" y="1444.1" width="11.1" height="11.5" fill="#0012f2"/>
<rect x="1250.0" y="1444.1" width="43.7" height="11.5" fill="#00b0ff"/>
<rect x="1293.4" y="1444.1" width="32.8" height="11.5" fill="#0044ff"/>
<rect x="1326.0" y="1444.1" width="32.8" height="11.5" fill="#00d8ff"/>
<rect x="1358.5" y="1444.1" width="22.0" height="11.5" fill="#00f4ff"/>
<rect x="1380.2" y="1444.1" width="22.0" height="11.5" fill="#007cff"/>
<rect x="1401.9" y="1444.1" width="32.8" height="11.5" fill="#00b0ff"/>
<rect x="1434.5" y="1444.1" width="11.1" height="11.5" fill="#0000c8"/>
<rect x="1445.3" y="1444.1" width="11.1" height="11.5" fill="#0044ff"/>
<rect x="1456.2" y="1444.1" width="11.1" height="11.5" fill="#0000c8"/>
<rect x="1467.0" y="1444.1" width="11.1" height="11.5" fill="#007cff"/>
<rect x="1477.9" y="1444.1" width="11.1" height="11.5" fill="#0000c8"/>
<rect x="1488.7" y="1444.1" width="22.0" height="11.5" fill="#00f4ff"/>
<rect x="1510.4" y="1444.1" width="11.1" height="11.5" fill="#00d8ff"/>
<rect x="1543.0" y="1444.1" width="11.1" height="11.5" fill="#0044ff"/>
<rect x="1553.8" y="1444.1" width="11.1" height="11.5" fill="#000094"/>
<rect x="458.0" y="1455.3" width="11.1" height="11.5" fill="#007cff"/>
<rect x="729.3" y="1455.3" width="11.1" height="11.5" fill="#000094"/>
<rect x="805.2" y="1455.3" width="11.1" height="11.5" fill="#000094"/>
<rect x="946.3" y="1455.3" width="11.1" height="11.5" fill="#0000c8"/>
<rect x="957.1" y="1455.3" width="11.1" height="11.5" fill="#0012f2"/>
<rect x="968.0" y="1455.3" width="11.1" height="11.5" fill="#0000c8"/>
<rect x="978.8" y="1455.3" width="11.1" height="11.5" fill="#0012f2"/>
<rect x="989.6" y="1455.3" width="11.1" height="11.5" fill="#0000c8"/>
<rect x="1000.5" y="1455.3" width="11.1" height="11.5" fill="#0044ff"/>
<rect x="1011.3" y="1455.3" width="11.1" height="11.5" fill="#007cff"/>
<rect x="1022.2" y="1455.3" width="11.1" height="11.5" fill="#0000c8"/>
<rect x="1033.0" y="1455.3" width="11.1" height="11.5" fill="#00b0ff"/>
<rect x="1043.9" y="1455.3" width="22.0" height="11.5" fill="#0000c8"/>
<rect x="1065.6" y="1455.3" width="11.1" height="11.5" fill="#00d8ff"/>
<rect x="1076.4" y="1455.3" width="11.1" height="11.5" fill="#0044ff"/>
<rect x="1087.3" y="1455.3" width="11.1" height="11.5" fill="#00b0ff"/>
<rect x="1098.1" y="1455.3" width="11.1" height="11.5" fill="#007cff"/>
<rect x="1109.0" y="1455.3" width="22.0" height="11.5" fill="#000094"/>
<rect x="1141.5" y="1455.3" width="32.8" height="11.5" fill="#000094"/>
<rect x="1174.1" y="1455.3" width="11.1" height="11.5" fill="#007cff"/>
<rect x="1184.9" y="1455.3" width="11.1" height="11.5" fill="#0044ff"/>
<rect x="1195.8" y="1455.3" width="11.1" height="11.5" fill="#0000c8"/>
<rect x="1206.6" y="1455.3" width="11.1" height="11.5" fill="#0012f2"/>
<rect x="1217.5" y="1455.3" width="11.1" height="11.5" fill="#0000c8"/>
<rect x="1228.3" y="1455.3" width="11.1" height="11.5" fill="#00b0ff"/>
<rect x="1239.2" y="1455.3" width="22.0" height="11.5" fill="#0044ff"/>
<rect x="1260.9" y="1455.3" width="11.1" height="11.5" fill="#0000c8"/>
<rect x="1271.7" y="1455.3" width="11.1" height="11.5" fill="#0012f2"/>
<rect x="1282.6" y="1455.3" width="11.1" height="11.5" fill="#0000c8"/>
<rect x="1293.4" y="1455.3" width="11.1" height="11.5" fill="#0012f2"/>
<rect x="1304.3" y="1455.3" width="11.1" height="11.5" fill="#0000c8"/>
<rect x="1315.1" y="1455.3" width="11.1" height="11.5" fill="#0044ff"/>
<rect x="1326.0" y="1455.3" width="11.1" height="11.5" fill="#00f4ff"/>
<rect x="1336.8" y="1455.3" width="11.1" height="11.5" fill="#00d8ff"/>
<rect x="1347.7" y="1455.3" width="11.1" height="11.5" fill="#30ffd0"/>
<rect x="1358.5" y="1455.3" width="32.8" height="11.5" fill="#00d8ff"/>
<rect x="1391.1" y="1455.3" width="11.1" height="11.5" fill="#007cff"/>
<rect x="1401.9" y="1455.3" width="11.1" height="11.5" fill="#00f4ff"/>
<rect x="1412.8" y="1455.3" width="22.0" height="11.5" fill="#007cff"/>
<rect x="1434.5" y="1455.3" width="11.1" height="11.5" fill="#30ffd0"/>
<rect x="1445.3" y="1455.3" width="11.1" height="11.5" fill="#00b0ff"/>
<rect x="1456.2" y="1455.3" width="11.1" height="11.5" fill="#0000c8"/>
<rect x="1467.0" y="1455.3" width="22.0" height="11.5" fill="#0044ff"/>
<rect x="1488.7" y="1455.3" width="11.1" height="11.5" fill="#0000c8"/>
<rect x="1499.6" y="1455.3" width="32.8" height="11.5" fill="#0012f2"/>
<rect x="783.5" y="1466.5" width="22.0" height="11.5" fill="#000094"/>
<rect x="816.1" y="1466.5" width="11.1" height="11.5" fill="#007cff"/>
<rect x="826.9" y="1466.5" width="11.1" height="11.5" fill="#000094"/>
<rect x="957.1" y="1466.5" width="11.1" height="11.5" fill="#0012f2"/>
<rect x="968.0" y="1466.5" width="11.1" height="11.5" fill="#0000c8"/>
<rect x="978.8" y="1466.5" width="11.1" height="11.5" fill="#000094"/>
<rect x="989.6" y="1466.5" width="11.1" height="11.5" fill="#007cff"/>
<rect x="1000.5" y="1466.5" width="22.0" height="11.5" fill="#0000c8"/>
<rect x="1022.2" y="1466.5" width="11.1" height="11.5" fill="#007cff"/>
<rect x="1033.0" y="1466.5" width="11.1" height="11.5" fill="#0012f2"/>
<rect x="1054.7" y="1466.5" width="11.1" height="11.5" fill="#0000c8"/>
<rect x="1065.6" y="1466.5" width="11.1" height="11.5" fill="#00b0ff"/>
<rect x="1087.3" y="1466.5" width="11.1" height="11.5" fill="#00b0ff"/>
<rect x="1098.1" y="1466.5" width="11.1" height="11.5" fill="#000094"/>
<rect x="1119.8" y="1466.5" width="11.1" height="11.5" fill="#0000c8"/>
<rect x="1195.8" y="1466.5" width="22.0" height="11.5" fill="#0000c8"/>
<rect x="1217.5" y="1466.5" width="11.1" height="11.5" fill="#0012f2"/>
<rect x="1228.3" y="1466.5" width="11.1" height="11.5" fill="#007cff"/>
<rect x="1239.2" y="1466.5" width="22.0" height="11.5" fill="#0044ff"/>
<rect x="1260.9" y="1466.5" width="11.1" height="11.5" fill="#0000c8"/>
<rect x="1271.7" y="1466.5" width="11.1" height="11.5" fill="#0044ff"/>
<rect x="1282.6" y="1466.5" width="11.1" height="11.5" fill="#007cff"/>
<rect x="1293.4" y="1466.5" width="11.1" height="11.5" fill="#0000c8"/>
<rect x="1304.3" y="1466.5" width="11.1" height="11.5" fill="#0044ff"/>
<rect x="1315.1" y="1466.5" width="11.1" height="11.5" fill="#007cff"/>
<rect x="1326.0" y="1466.5" width="11.1" height="11.5" fill="#00f4ff"/>
<rect x="1336.8" y="1466.5" width="22.0" height="11.5" fill="#00b0ff"/>
<rect x="1358.5" y="1466.5" width="11.1" height="11.5" fill="#00f4ff"/>
<rect x="1369.4" y="1466.5" width="22.0" height="11.5" fill="#00b0ff"/>
<rect x="1391.1" y="1466.5" width="11.1" height="11.5" fill="#30ffd0"/>
<rect x="1401.9" y="1466.5" width="11.1" height="11.5" fill="#0044ff"/>
<rect x="1412.8" y="1466.5" width="11.1" height="11.5" fill="#0012f2"/>
<rect x="1423.6" y="1466.5" width="11.1" height="11.5" fill="#007cff"/>
<rect x="1434.5" y="1466.5" width="11.1" height="11.5" fill="#70ff90"/>
<rect x="1445.3" y="1466.5" width="11.1" height="11.5" fill="#0044ff"/>
<rect x="1456.2" y="1466.5" width="11.1" height="11.5" fill="#007cff"/>
<rect x="1467.0" y="1466.5" width="43.7" height="11.5" fill="#0044ff"/>
<rect x="1510.4" y="1466.5" width="11.1" height="11.5" fill="#0012f2"/>
<rect x="1521.3" y="1466.5" width="11.1" height="11.5" fill="#007cff"/>
<rect x="859.5" y="1477.7" width="11.1" height="11.5" fill="#000094"/>
<rect x="1022.2" y="1477.7" width="11.1" height="11.5" fill="#007cff"/>
<rect x="1033.0" y="1477.7" width="11.1" height="11.5" fill="#00b0ff"/>
<rect x="1043.9" y="1477.7" width="22.0" height="11.5" fill="#0000c8"/>
<rect x="1065.6" y="1477.7" width="11.1" height="11.5" fill="#0012f2"/>
<rect x="1076.4" y="1477.7" width="22.0" height="11.5" fill="#007cff"/>
<rect x="1098.1" y="1477.7" width="11.1" height="11.5" fill="#0012f2"/>
<rect x="1109.0" y="1477.7" width="11.1" height="11.5" fill="#ffff00"/>
<rect x="1119.8" y="1477.7" width="11.1" height="11.5" fill="#007cff"/>
<rect x="1184.9" y="1477.7" width="11.1" height="11.5" fill="#0044ff"/>
<rect x="1239.2" y="1477.7" width="11.1" height="11.5" fill="#e8b040"/>
<rect x="1250.0" y="1477.7" width="11.1" height="11.5" fill="#000094"/>
<rect x="1260.9" y="1477.7" width="11.1" height="11.5" fill="#0044ff"/>
<rect x="1271.7" y="1477.7" width="11.1" height="11.5" fill="#0000c8"/>
<rect x="1282.6" y="1477.7" width="11.1" height="11.5" fill="#0012f2"/>
<rect x="1293.4" y="1477.7" width="11.1" height="11.5" fill="#0000c8"/>
<rect x="1304.3" y="1477.7" width="11.1" height="11.5" fill="#0044ff"/>
<rect x="1315.1" y="1477.7" width="11.1" height="11.5" fill="#007cff"/>
<rect x="1326.0" y="1477.7" width="11.1" height="11.5" fill="#00b0ff"/>
<rect x="1336.8" y="1477.7" width="11.1" height="11.5" fill="#0000c8"/>
<rect x="1347.7" y="1477.7" width="11.1" height="11.5" fill="#007cff"/>
<rect x="1358.5" y="1477.7" width="11.1" height="11.5" fill="#b0ff50"/>
<rect x="1369.4" y="1477.7" width="11.1" height="11.5" fill="#0044ff"/>
<rect x="1380.2" y="1477.7" width="11.1" height="11.5" fill="#007cff"/>
<rect x="1391.1" y="1477.7" width="11.1" height="11.5" fill="#00d8ff"/>
<rect x="1401.9" y="1477.7" width="11.1" height="11.5" fill="#00f4ff"/>
<rect x="1412.8" y="1477.7" width="11.1" height="11.5" fill="#00d8ff"/>
<rect x="1423.6" y="1477.7" width="11.1" height="11.5" fill="#0000c8"/>
<rect x="1434.5" y="1477.7" width="11.1" height="11.5" fill="#00b0ff"/>
<rect x="1445.3" y="1477.7" width="32.8" height="11.5" fill="#007cff"/>
<rect x="1477.9" y="1477.7" width="22.0" height="11.5" fill="#0044ff"/>
<rect x="1499.6" y="1477.7" width="11.1" height="11.5" fill="#b0ff50"/>
<rect x="1510.4" y="1477.7" width="22.0" height="11.5" fill="#000094"/>
<rect x="1532.1" y="1477.7" width="11.1" height="11.5" fill="#0044ff"/>
<rect x="1543.0" y="1477.7" width="11.1" height="11.5" fill="#0000c8"/>
<rect x="1553.8" y="1477.7" width="11.1" height="11.5" fill="#00d8ff"/>
<rect x="826.9" y="1488.9" width="11.1" height="11.5" fill="#000094"/>
<rect x="1065.6" y="1488.9" width="11.1" height="11.5" fill="#0000c8"/>
<rect x="1087.3" y="1488.9" width="11.1" height="11.5" fill="#007cff"/>
<rect x="1098.1" y="1488.9" width="11.1" height="11.5" fill="#30ffd0"/>
<rect x="1119.8" y="1488.9" width="11.1" height="11.5" fill="#0012f2"/>
<rect x="1130.7" y="1488.9" width="11.1" height="11.5" fill="#0044ff"/>
<rect x="1152.4" y="1488.9" width="11.1" height="11.5" fill="#70ff90"/>
<rect x="1217.5" y="1488.9" width="11.1" height="11.5" fill="#000094"/>
<rect x="1260.9" y="1488.9" width="11.1" height="11.5" fill="#0000c8"/>
<rect x="1271.7" y="1488.9" width="11.1" height="11.5" fill="#0044ff"/>
<rect x="1293.4" y="1488.9" width="22.0" height="11.5" fill="#0044ff"/>
<rect x="1315.1" y="1488.9" width="11.1" height="11.5" fill="#0000c8"/>
<rect x="1326.0" y="1488.9" width="11.1" height="11.5" fill="#0044ff"/>
<rect x="1336.8" y="1488.9" width="11.1" height="11.5" fill="#b0ff50"/>
<rect x="1347.7" y="1488.9" width="22.0" height="11.5" fill="#0012f2"/>
<rect x="1369.4" y="1488.9" width="11.1" height="11.5" fill="#0044ff"/>
<rect x="1391.1" y="1488.9" width="11.1" height="11.5" fill="#007cff"/>
<rect x="1401.9" y="1488.9" width="11.1" height="11.5" fill="#000094"/>
<rect x="1412.8" y="1488.9" width="22.0" height="11.5" fill="#0044ff"/>
<rect x="1434.5" y="1488.9" width="11.1" height="11.5" fill="#00d8ff"/>
<rect x="1445.3" y="1488.9" width="11.1" height="11.5" fill="#00f4ff"/>
<rect x="1456.2" y="1488.9" width="11.1" height="11.5" fill="#00d8ff"/>
<rect x="1467.0" y="1488.9" width="11.1" height="11.5" fill="#00f4ff"/>
<rect x="1477.9" y="1488.9" width="11.1" height="11.5" fill="#000094"/>
<rect x="1488.7" y="1488.9" width="22.0" height="11.5" fill="#007cff"/>
<rect x="1510.4" y="1488.9" width="11.1" height="11.5" fill="#0000c8"/>
<rect x="1543.0" y="1488.9" width="11.1" height="11.5" fill="#000094"/>
<rect x="1553.8" y="1488.9" width="11.1" height="11.5" fill="#00f4ff"/>
<rect x="1109.0" y="1500.1" width="11.1" height="11.5" fill="#00f4ff"/>
<rect x="1130.7" y="1500.1" width="22.0" height="11.5" fill="#0044ff"/>
<rect x="1152.4" y="1500.1" width="11.1" height="11.5" fill="#00b0ff"/>
<rect x="1163.2" y="1500.1" width="11.1" height="11.5" fill="#0012f2"/>
<rect x="1174.1" y="1500.1" width="11.1" height="11.5" fill="#0044ff"/>
<rect x="1326.0" y="1500.1" width="11.1" height="11.5" fill="#0044ff"/>
<rect x="1347.7" y="1500.1" width="11.1" height="11.5" fill="#000094"/>
<rect x="1358.5" y="1500.1" width="11.1" height="11.5" fill="#0000c8"/>
<rect x="1369.4" y="1500.1" width="11.1" height="11.5" fill="#0012f2"/>
<rect x="1380.2" y="1500.1" width="11.1" height="11.5" fill="#000094"/>
<rect x="1391.1" y="1500.1" width="11.1" height="11.5" fill="#0044ff"/>
<rect x="1401.9" y="1500.1" width="22.0" height="11.5" fill="#30ffd0"/>
<rect x="1434.5" y="1500.1" width="11.1" height="11.5" fill="#0000c8"/>
<rect x="1445.3" y="1500.1" width="11.1" height="11.5" fill="#00f4ff"/>
<rect x="1456.2" y="1500.1" width="11.1" height="11.5" fill="#0012f2"/>
<rect x="1467.0" y="1500.1" width="22.0" height="11.5" fill="#30ffd0"/>
<rect x="1488.7" y="1500.1" width="11.1" height="11.5" fill="#000094"/>
<rect x="1499.6" y="1500.1" width="11.1" height="11.5" fill="#00b0ff"/>
<rect x="1510.4" y="1500.1" width="11.1" height="11.5" fill="#007cff"/>
<rect x="1521.3" y="1500.1" width="11.1" height="11.5" fill="#00d8ff"/>
<rect x="1553.8" y="1500.1" width="11.1" height="11.5" fill="#0012f2"/>
<rect x="1119.8" y="1511.3" width="11.1" height="11.5" fill="#b0ff50"/>
<rect x="1130.7" y="1511.3" width="11.1" height="11.5" fill="#0012f2"/>
<rect x="1326.0" y="1511.3" width="11.1" height="11.5" fill="#0000c8"/>
<rect x="1347.7" y="1511.3" width="11.1" height="11.5" fill="#000094"/>
<rect x="1358.5" y="1511.3" width="11.1" height="11.5" fill="#00b0ff"/>
<rect x="1380.2" y="1511.3" width="11.1" height="11.5" fill="#000094"/>
<rect x="1391.1" y="1511.3" width="11.1" height="11.5" fill="#0000c8"/>
<rect x="1412.8" y="1511.3" width="22.0" height="11.5" fill="#00f4ff"/>
<rect x="1445.3" y="1511.3" width="11.1" height="11.5" fill="#e8b040"/>
<rect x="1467.0" y="1511.3" width="22.0" height="11.5" fill="#30ffd0"/>
<rect x="1488.7" y="1511.3" width="11.1" height="11.5" fill="#00f4ff"/>
<rect x="1499.6" y="1511.3" width="11.1" height="11.5" fill="#007cff"/>
<rect x="1521.3" y="1511.3" width="11.1" height="11.5" fill="#00f4ff"/>
<rect x="1141.5" y="1522.5" width="11.1" height="11.5" fill="#0044ff"/>
<rect x="1184.9" y="1522.5" width="11.1" height="11.5" fill="#70ff90"/>
<rect x="1369.4" y="1522.5" width="11.1" height="11.5" fill="#000094"/>
<rect x="1391.1" y="1522.5" width="22.0" height="11.5" fill="#000094"/>
<rect x="1423.6" y="1522.5" width="11.1" height="11.5" fill="#0044ff"/>
<rect x="1445.3" y="1522.5" width="11.1" height="11.5" fill="#000094"/>
<rect x="1456.2" y="1522.5" width="11.1" height="11.5" fill="#70ff90"/>
<rect x="1477.9" y="1522.5" width="11.1" height="11.5" fill="#30ffd0"/>
<rect x="1499.6" y="1522.5" width="32.8" height="11.5" fill="#000094"/>
<rect x="1293.4" y="1533.6" width="11.1" height="11.5" fill="#00085a"/>
<rect x="1315.1" y="1533.6" width="22.0" height="11.5" fill="#000094"/>
<rect x="1347.7" y="1533.6" width="11.1" height="11.5" fill="#000094"/>
<rect x="1358.5" y="1533.6" width="11.1" height="11.5" fill="#007cff"/>
<rect x="1423.6" y="1533.6" width="11.1" height="11.5" fill="#0044ff"/>
<rect x="1445.3" y="1533.6" width="11.1" height="11.5" fill="#00b0ff"/>
<rect x="1467.0" y="1533.6" width="11.1" height="11.5" fill="#007cff"/>
<rect x="1488.7" y="1533.6" width="11.1" height="11.5" fill="#0044ff"/>
<rect x="1499.6" y="1533.6" width="11.1" height="11.5" fill="#000094"/>
<rect x="1510.4" y="1533.6" width="11.1" height="11.5" fill="#00f4ff"/>
<rect x="1217.5" y="1544.8" width="11.1" height="11.5" fill="#0044ff"/>
<rect x="1358.5" y="1544.8" width="11.1" height="11.5" fill="#ff3000"/>
<rect x="1423.6" y="1544.8" width="11.1" height="11.5" fill="#000094"/>
<rect x="1488.7" y="1544.8" width="11.1" height="11.5" fill="#0000c8"/>
<rect x="1532.1" y="1544.8" width="32.8" height="11.5" fill="#0000c8"/>
<rect x="1412.8" y="1556.0" width="11.1" height="11.5" fill="#000094"/>
<rect x="1456.2" y="1556.0" width="11.1" height="11.5" fill="#00b0ff"/>
<rect x="1477.9" y="1556.0" width="11.1" height="11.5" fill="#0044ff"/>
<rect x="1488.7" y="1556.0" width="11.1" height="11.5" fill="#70ff90"/>
<rect x="1532.1" y="1556.0" width="11.1" height="11.5" fill="#0012f2"/>
<rect x="1543.0" y="1556.0" width="11.1" height="11.5" fill="#0000c8"/>
<rect x="1564.7" y="1556.0" width="11.1" height="11.5" fill="#00b0ff"/>
<rect x="1445.3" y="1567.2" width="11.1" height="11.5" fill="#000094"/>
<rect x="1543.0" y="1567.2" width="11.1" height="11.5" fill="#000094"/>
<rect x="1575.5" y="1578.4" width="11.1" height="11.5" fill="#ffff00"/>
<rect x="1597.2" y="1589.6" width="11.1" height="11.5" fill="#0012f2"/>
<rect x="1586.4" y="1600.8" width="11.1" height="11.5" fill="#30ffd0"/></g>
<g stroke="#4a4a4a" stroke-width="3.6" fill="none"><line x1="251.9" y1="1065.0" x2="251.9" y2="1081.5"/><line x1="251.9" y1="1678.0" x2="251.9" y2="1661.5"/><line x1="468.9" y1="1065.0" x2="468.9" y2="1081.5"/><line x1="468.9" y1="1678.0" x2="468.9" y2="1661.5"/><line x1="685.9" y1="1065.0" x2="685.9" y2="1081.5"/><line x1="685.9" y1="1678.0" x2="685.9" y2="1661.5"/><line x1="902.9" y1="1065.0" x2="902.9" y2="1081.5"/><line x1="902.9" y1="1678.0" x2="902.9" y2="1661.5"/><line x1="1119.8" y1="1065.0" x2="1119.8" y2="1081.5"/><line x1="1119.8" y1="1678.0" x2="1119.8" y2="1661.5"/><line x1="1336.8" y1="1065.0" x2="1336.8" y2="1081.5"/><line x1="1336.8" y1="1678.0" x2="1336.8" y2="1661.5"/><line x1="1553.8" y1="1065.0" x2="1553.8" y2="1081.5"/><line x1="1553.8" y1="1678.0" x2="1553.8" y2="1661.5"/></g><g stroke="#2a2a2a" stroke-width="3.4" fill="none"><line x1="208.5" y1="1176.5" x2="225.0" y2="1176.5"/><line x1="1770.8" y1="1176.5" x2="1754.3" y2="1176.5"/><line x1="208.5" y1="1287.9" x2="225.0" y2="1287.9"/><line x1="1770.8" y1="1287.9" x2="1754.3" y2="1287.9"/><line x1="208.5" y1="1399.4" x2="225.0" y2="1399.4"/><line x1="1770.8" y1="1399.4" x2="1754.3" y2="1399.4"/><line x1="208.5" y1="1510.8" x2="225.0" y2="1510.8"/><line x1="1770.8" y1="1510.8" x2="1754.3" y2="1510.8"/><line x1="208.5" y1="1622.3" x2="225.0" y2="1622.3"/><line x1="1770.8" y1="1622.3" x2="1754.3" y2="1622.3"/></g>
<g><rect x="206.0" y="1062.4" width="1567.3" height="2.2" fill="#a8a8a8"/><rect x="206.0" y="1064.6" width="1567.3" height="2.3" fill="#1c1c1c"/><rect x="206.0" y="1675.3" width="1567.3" height="2.2" fill="#8c8c8c"/><rect x="206.0" y="1677.5" width="1567.3" height="2.9" fill="#202020"/><rect x="206.0" y="1680.4" width="1567.3" height="1.4" fill="#b8b8b8"/><rect x="205.5" y="1062.5" width="2.6" height="618.0" fill="#a8a8a8"/><rect x="208.1" y="1062.5" width="3.0" height="618.0" fill="#1c1c1c"/><rect x="1768.5" y="1062.5" width="4.8" height="618.0" fill="#666666"/></g>
<text x="191.0" y="1083.3" font-size="51" text-anchor="end" >30</text>
<text x="191.0" y="1194.8" font-size="51" text-anchor="end" >20</text>
<text x="191.0" y="1306.2" font-size="51" text-anchor="end" >10</text>
<text x="191.0" y="1417.7" font-size="51" text-anchor="end" >0</text>
<text x="191.0" y="1529.1" font-size="51" text-anchor="end" >-10</text>
<text x="191.0" y="1640.6" font-size="51" text-anchor="end" >-20</text>
<text x="251.9" y="1741.5" font-size="51" text-anchor="middle" >0</text>
<text x="468.9" y="1741.5" font-size="51" text-anchor="middle" >1</text>
<text x="685.9" y="1741.5" font-size="51" text-anchor="middle" >2</text>
<text x="902.9" y="1741.5" font-size="51" text-anchor="middle" >3</text>
<text x="1119.8" y="1741.5" font-size="51" text-anchor="middle" >4</text>
<text x="1336.8" y="1741.5" font-size="51" text-anchor="middle" >5</text>
<text x="1553.8" y="1741.5" font-size="51" text-anchor="middle" >6</text>
<text x="1770.8" y="1741.5" font-size="51" text-anchor="middle" >7</text>
<text x="976.6" y="1800.9" font-size="51.2" text-anchor="middle" >Elevation  (km)</text>
<text transform="translate(74.7 1393.0) rotate(-90)" font-size="51.3" text-anchor="middle">The annual average LST  (°C)</text>
<rect x="208.4" y="1823.5" width="1562.4" height="37.5" fill="url(#jet)"/>
<rect x="209.4" y="1824.5" width="1560.4" height="35.5" fill="none" stroke="rgba(40,40,60,0.35)" stroke-width="2"/>
<g stroke="rgba(0,0,0,0.45)" stroke-width="1.5"><line x1="403.7" y1="1861.0" x2="403.7" y2="1854.0"/><line x1="599.0" y1="1861.0" x2="599.0" y2="1854.0"/><line x1="794.3" y1="1861.0" x2="794.3" y2="1854.0"/><line x1="989.6" y1="1861.0" x2="989.6" y2="1854.0"/><line x1="1184.9" y1="1861.0" x2="1184.9" y2="1854.0"/><line x1="1380.2" y1="1861.0" x2="1380.2" y2="1854.0"/><line x1="1575.5" y1="1861.0" x2="1575.5" y2="1854.0"/></g>
<text x="198.0" y="1912.3" font-size="51" text-anchor="middle" >0</text>
<text x="403.7" y="1912.3" font-size="51" text-anchor="middle" >2</text>
<text x="599.0" y="1912.3" font-size="51" text-anchor="middle" >4</text>
<text x="794.3" y="1912.3" font-size="51" text-anchor="middle" >6</text>
<text x="989.6" y="1912.3" font-size="51" text-anchor="middle" >8</text>
<text x="1184.9" y="1912.3" font-size="51" text-anchor="middle" >10</text>
<text x="1380.2" y="1912.3" font-size="51" text-anchor="middle" >12</text>
<text x="1575.5" y="1912.3" font-size="51" text-anchor="middle" >14</text>
<text x="1737.3" y="1912.3" font-size="51" text-anchor="start" word-spacing="-4.5">16 °C/km</text>
<text class="cap" x="79.5" y="2029.2" font-size="78.5" textLength="1783.5" lengthAdjust="spacingAndGlyphs">(<tspan font-weight="bold">b</tspan>) The standard deviation of the annual average TLR</text>
</svg></body></html>
